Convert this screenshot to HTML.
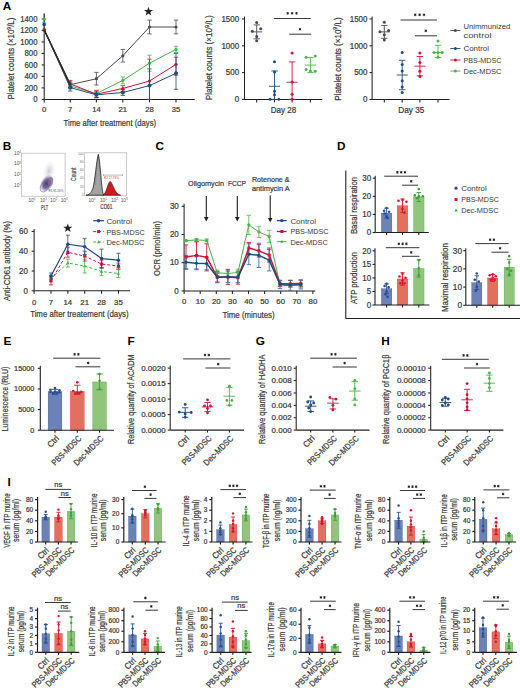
<!DOCTYPE html>
<html><head><meta charset="utf-8"><style>
html,body{margin:0;padding:0;background:#fff;}
svg{display:block;font-family:"Liberation Sans", sans-serif;}
</style></head><body>
<svg width="520" height="690" viewBox="0 0 520 690">
<rect width="520" height="690" fill="#fff"/>
<text x="2.7" y="10" font-size="11.8" text-anchor="start" font-weight="bold" fill="#000">A</text>
<line x1="44.2" y1="14" x2="44.2" y2="99.4" stroke="#231f20" stroke-width="1.05" stroke-linecap="butt"/>
<line x1="41.7" y1="99.4" x2="44.2" y2="99.4" stroke="#231f20" stroke-width="1.05" stroke-linecap="butt"/>
<text x="37.5" y="102.19" font-size="8.2" text-anchor="end" font-weight="normal" fill="#3a3a3a" textLength="4.33" lengthAdjust="spacingAndGlyphs" stroke="#3a3a3a" stroke-width="0.22">0</text>
<line x1="41.7" y1="87.91" x2="44.2" y2="87.91" stroke="#231f20" stroke-width="1.05" stroke-linecap="butt"/>
<text x="37.5" y="90.7" font-size="8.2" text-anchor="end" font-weight="normal" fill="#3a3a3a" textLength="12.99" lengthAdjust="spacingAndGlyphs" stroke="#3a3a3a" stroke-width="0.22">200</text>
<line x1="41.7" y1="76.42" x2="44.2" y2="76.42" stroke="#231f20" stroke-width="1.05" stroke-linecap="butt"/>
<text x="37.5" y="79.21" font-size="8.2" text-anchor="end" font-weight="normal" fill="#3a3a3a" textLength="12.99" lengthAdjust="spacingAndGlyphs" stroke="#3a3a3a" stroke-width="0.22">400</text>
<line x1="41.7" y1="64.93" x2="44.2" y2="64.93" stroke="#231f20" stroke-width="1.05" stroke-linecap="butt"/>
<text x="37.5" y="67.72" font-size="8.2" text-anchor="end" font-weight="normal" fill="#3a3a3a" textLength="12.99" lengthAdjust="spacingAndGlyphs" stroke="#3a3a3a" stroke-width="0.22">600</text>
<line x1="41.7" y1="53.44" x2="44.2" y2="53.44" stroke="#231f20" stroke-width="1.05" stroke-linecap="butt"/>
<text x="37.5" y="56.23" font-size="8.2" text-anchor="end" font-weight="normal" fill="#3a3a3a" textLength="12.99" lengthAdjust="spacingAndGlyphs" stroke="#3a3a3a" stroke-width="0.22">800</text>
<line x1="41.7" y1="41.95" x2="44.2" y2="41.95" stroke="#231f20" stroke-width="1.05" stroke-linecap="butt"/>
<text x="37.5" y="44.74" font-size="8.2" text-anchor="end" font-weight="normal" fill="#3a3a3a" textLength="17.32" lengthAdjust="spacingAndGlyphs" stroke="#3a3a3a" stroke-width="0.22">1000</text>
<line x1="41.7" y1="30.46" x2="44.2" y2="30.46" stroke="#231f20" stroke-width="1.05" stroke-linecap="butt"/>
<text x="37.5" y="33.25" font-size="8.2" text-anchor="end" font-weight="normal" fill="#3a3a3a" textLength="17.32" lengthAdjust="spacingAndGlyphs" stroke="#3a3a3a" stroke-width="0.22">1200</text>
<line x1="41.7" y1="18.97" x2="44.2" y2="18.97" stroke="#231f20" stroke-width="1.05" stroke-linecap="butt"/>
<text x="37.5" y="21.76" font-size="8.2" text-anchor="end" font-weight="normal" fill="#3a3a3a" textLength="17.32" lengthAdjust="spacingAndGlyphs" stroke="#3a3a3a" stroke-width="0.22">1400</text>
<line x1="44.2" y1="99.4" x2="194.8" y2="99.4" stroke="#231f20" stroke-width="1.05" stroke-linecap="butt"/>
<line x1="44.2" y1="99.4" x2="44.2" y2="102.4" stroke="#231f20" stroke-width="1.05" stroke-linecap="butt"/>
<line x1="70.2" y1="99.4" x2="70.2" y2="102.4" stroke="#231f20" stroke-width="1.05" stroke-linecap="butt"/>
<line x1="96.4" y1="99.4" x2="96.4" y2="102.4" stroke="#231f20" stroke-width="1.05" stroke-linecap="butt"/>
<line x1="122.8" y1="99.4" x2="122.8" y2="102.4" stroke="#231f20" stroke-width="1.05" stroke-linecap="butt"/>
<line x1="149.5" y1="99.4" x2="149.5" y2="102.4" stroke="#231f20" stroke-width="1.05" stroke-linecap="butt"/>
<line x1="176" y1="99.4" x2="176" y2="102.4" stroke="#231f20" stroke-width="1.05" stroke-linecap="butt"/>
<text x="44.2" y="112.4" font-size="7.6" text-anchor="middle" font-weight="normal" fill="#3a3a3a" stroke="#3a3a3a" stroke-width="0.22">0</text>
<text x="70.2" y="112.4" font-size="7.6" text-anchor="middle" font-weight="normal" fill="#3a3a3a" stroke="#3a3a3a" stroke-width="0.22">7</text>
<text x="96.4" y="112.4" font-size="7.6" text-anchor="middle" font-weight="normal" fill="#3a3a3a" stroke="#3a3a3a" stroke-width="0.22">14</text>
<text x="122.8" y="112.4" font-size="7.6" text-anchor="middle" font-weight="normal" fill="#3a3a3a" stroke="#3a3a3a" stroke-width="0.22">21</text>
<text x="149.5" y="112.4" font-size="7.6" text-anchor="middle" font-weight="normal" fill="#3a3a3a" stroke="#3a3a3a" stroke-width="0.22">28</text>
<text x="176" y="112.4" font-size="7.6" text-anchor="middle" font-weight="normal" fill="#3a3a3a" stroke="#3a3a3a" stroke-width="0.22">35</text>
<text x="109.8" y="126" font-size="9.3" text-anchor="middle" font-weight="normal" fill="#3a3a3a" textLength="92.5" lengthAdjust="spacingAndGlyphs" stroke="#3a3a3a" stroke-width="0.22">Time after treatment (days)</text>
<text transform="translate(14.4,58.6) rotate(-90)" x="0" y="0" font-size="9.3" text-anchor="middle" font-weight="normal" fill="#3a3a3a" textLength="82" lengthAdjust="spacingAndGlyphs" stroke="#3a3a3a" stroke-width="0.22">Platelet counts (×10<tspan dy="-3.2" font-size="6.2">9</tspan><tspan dy="3.2">/L)</tspan></text>
<line x1="44.2" y1="13.23" x2="44.2" y2="30.46" stroke="#444" stroke-width="1" stroke-linecap="butt"/>
<line x1="42.2" y1="19.54" x2="46.2" y2="19.54" stroke="#4ab448" stroke-width="1" stroke-linecap="butt"/>
<circle cx="44.2" cy="18.97" r="1.7" fill="#4ab448"/>
<line x1="42.2" y1="22.99" x2="46.2" y2="22.99" stroke="#2a9ad0" stroke-width="1" stroke-linecap="butt"/>
<circle cx="44.2" cy="24.43" r="1.8" fill="#1f4b7e"/>
<circle cx="44.2" cy="29.89" r="2" fill="#b02a2a"/>
<line x1="70.2" y1="83.03" x2="70.2" y2="88.77" stroke="#4ab448" stroke-width="0.8" stroke-linecap="butt"/>
<line x1="68" y1="83.03" x2="72.4" y2="83.03" stroke="#4ab448" stroke-width="0.8" stroke-linecap="butt"/>
<line x1="68" y1="88.77" x2="72.4" y2="88.77" stroke="#4ab448" stroke-width="0.8" stroke-linecap="butt"/>
<line x1="96.4" y1="90.21" x2="96.4" y2="97.1" stroke="#4ab448" stroke-width="0.8" stroke-linecap="butt"/>
<line x1="94.2" y1="90.21" x2="98.6" y2="90.21" stroke="#4ab448" stroke-width="0.8" stroke-linecap="butt"/>
<line x1="94.2" y1="97.1" x2="98.6" y2="97.1" stroke="#4ab448" stroke-width="0.8" stroke-linecap="butt"/>
<line x1="122.8" y1="76.99" x2="122.8" y2="83.89" stroke="#4ab448" stroke-width="0.8" stroke-linecap="butt"/>
<line x1="120.6" y1="76.99" x2="125" y2="76.99" stroke="#4ab448" stroke-width="0.8" stroke-linecap="butt"/>
<line x1="120.6" y1="83.89" x2="125" y2="83.89" stroke="#4ab448" stroke-width="0.8" stroke-linecap="butt"/>
<line x1="149.5" y1="55.16" x2="149.5" y2="71.25" stroke="#4ab448" stroke-width="0.8" stroke-linecap="butt"/>
<line x1="147.3" y1="55.16" x2="151.7" y2="55.16" stroke="#4ab448" stroke-width="0.8" stroke-linecap="butt"/>
<line x1="147.3" y1="71.25" x2="151.7" y2="71.25" stroke="#4ab448" stroke-width="0.8" stroke-linecap="butt"/>
<line x1="176" y1="46.26" x2="176" y2="52.58" stroke="#4ab448" stroke-width="0.8" stroke-linecap="butt"/>
<line x1="173.8" y1="46.26" x2="178.2" y2="46.26" stroke="#4ab448" stroke-width="0.8" stroke-linecap="butt"/>
<line x1="173.8" y1="52.58" x2="178.2" y2="52.58" stroke="#4ab448" stroke-width="0.8" stroke-linecap="butt"/>
<polyline points="44.2,29.89 70.2,85.9 96.4,93.66 122.8,80.44 149.5,63.21 176,49.42" fill="none" stroke="#4ab448" stroke-width="1" stroke-linejoin="round"/>
<circle cx="70.2" cy="85.9" r="1.6" fill="#4ab448"/>
<circle cx="96.4" cy="93.66" r="1.6" fill="#4ab448"/>
<circle cx="122.8" cy="80.44" r="1.6" fill="#4ab448"/>
<circle cx="149.5" cy="63.21" r="1.6" fill="#4ab448"/>
<circle cx="176" cy="49.42" r="1.6" fill="#4ab448"/>
<line x1="70.2" y1="80.44" x2="70.2" y2="87.34" stroke="#c8173a" stroke-width="0.8" stroke-linecap="butt"/>
<line x1="68" y1="80.44" x2="72.4" y2="80.44" stroke="#c8173a" stroke-width="0.8" stroke-linecap="butt"/>
<line x1="68" y1="87.34" x2="72.4" y2="87.34" stroke="#c8173a" stroke-width="0.8" stroke-linecap="butt"/>
<line x1="96.4" y1="90.78" x2="96.4" y2="97.68" stroke="#c8173a" stroke-width="0.8" stroke-linecap="butt"/>
<line x1="94.2" y1="90.78" x2="98.6" y2="90.78" stroke="#c8173a" stroke-width="0.8" stroke-linecap="butt"/>
<line x1="94.2" y1="97.68" x2="98.6" y2="97.68" stroke="#c8173a" stroke-width="0.8" stroke-linecap="butt"/>
<line x1="122.8" y1="85.61" x2="122.8" y2="91.36" stroke="#c8173a" stroke-width="0.8" stroke-linecap="butt"/>
<line x1="120.6" y1="85.61" x2="125" y2="85.61" stroke="#c8173a" stroke-width="0.8" stroke-linecap="butt"/>
<line x1="120.6" y1="91.36" x2="125" y2="91.36" stroke="#c8173a" stroke-width="0.8" stroke-linecap="butt"/>
<line x1="149.5" y1="59.19" x2="149.5" y2="99.4" stroke="#c8173a" stroke-width="0.8" stroke-linecap="butt"/>
<line x1="147.3" y1="59.19" x2="151.7" y2="59.19" stroke="#c8173a" stroke-width="0.8" stroke-linecap="butt"/>
<line x1="147.3" y1="99.4" x2="151.7" y2="99.4" stroke="#c8173a" stroke-width="0.8" stroke-linecap="butt"/>
<line x1="176" y1="53.44" x2="176" y2="75.27" stroke="#c8173a" stroke-width="0.8" stroke-linecap="butt"/>
<line x1="173.8" y1="53.44" x2="178.2" y2="53.44" stroke="#c8173a" stroke-width="0.8" stroke-linecap="butt"/>
<line x1="173.8" y1="75.27" x2="178.2" y2="75.27" stroke="#c8173a" stroke-width="0.8" stroke-linecap="butt"/>
<polyline points="44.2,29.89 70.2,83.89 96.4,94.23 122.8,88.48 149.5,81.02 176,64.36" fill="none" stroke="#c8173a" stroke-width="1" stroke-linejoin="round"/>
<circle cx="70.2" cy="83.89" r="1.6" fill="#c8173a"/>
<circle cx="96.4" cy="94.23" r="1.6" fill="#c8173a"/>
<circle cx="122.8" cy="88.48" r="1.6" fill="#c8173a"/>
<circle cx="149.5" cy="81.02" r="1.6" fill="#c8173a"/>
<circle cx="176" cy="64.36" r="1.6" fill="#c8173a"/>
<line x1="70.2" y1="84.18" x2="70.2" y2="91.07" stroke="#1f4b7e" stroke-width="0.8" stroke-linecap="butt"/>
<line x1="68" y1="84.18" x2="72.4" y2="84.18" stroke="#1f4b7e" stroke-width="0.8" stroke-linecap="butt"/>
<line x1="68" y1="91.07" x2="72.4" y2="91.07" stroke="#1f4b7e" stroke-width="0.8" stroke-linecap="butt"/>
<line x1="96.4" y1="91.93" x2="96.4" y2="97.68" stroke="#1f4b7e" stroke-width="0.8" stroke-linecap="butt"/>
<line x1="94.2" y1="91.93" x2="98.6" y2="91.93" stroke="#1f4b7e" stroke-width="0.8" stroke-linecap="butt"/>
<line x1="94.2" y1="97.68" x2="98.6" y2="97.68" stroke="#1f4b7e" stroke-width="0.8" stroke-linecap="butt"/>
<line x1="122.8" y1="89.63" x2="122.8" y2="95.38" stroke="#1f4b7e" stroke-width="0.8" stroke-linecap="butt"/>
<line x1="120.6" y1="89.63" x2="125" y2="89.63" stroke="#1f4b7e" stroke-width="0.8" stroke-linecap="butt"/>
<line x1="120.6" y1="95.38" x2="125" y2="95.38" stroke="#1f4b7e" stroke-width="0.8" stroke-linecap="butt"/>
<line x1="149.5" y1="68.95" x2="149.5" y2="99.4" stroke="#1f4b7e" stroke-width="0.8" stroke-linecap="butt"/>
<line x1="147.3" y1="68.95" x2="151.7" y2="68.95" stroke="#1f4b7e" stroke-width="0.8" stroke-linecap="butt"/>
<line x1="147.3" y1="99.4" x2="151.7" y2="99.4" stroke="#1f4b7e" stroke-width="0.8" stroke-linecap="butt"/>
<line x1="176" y1="57.17" x2="176" y2="89.35" stroke="#1f4b7e" stroke-width="0.8" stroke-linecap="butt"/>
<line x1="173.8" y1="57.17" x2="178.2" y2="57.17" stroke="#1f4b7e" stroke-width="0.8" stroke-linecap="butt"/>
<line x1="173.8" y1="89.35" x2="178.2" y2="89.35" stroke="#1f4b7e" stroke-width="0.8" stroke-linecap="butt"/>
<polyline points="44.2,29.89 70.2,87.62 96.4,94.8 122.8,92.51 149.5,85.61 176,73.26" fill="none" stroke="#1f4b7e" stroke-width="1" stroke-linejoin="round"/>
<circle cx="70.2" cy="87.62" r="2" fill="#1f4b7e"/>
<circle cx="96.4" cy="94.8" r="2" fill="#1f4b7e"/>
<circle cx="122.8" cy="92.51" r="2" fill="#1f4b7e"/>
<circle cx="149.5" cy="85.61" r="2" fill="#1f4b7e"/>
<circle cx="176" cy="73.26" r="2" fill="#1f4b7e"/>
<line x1="70.2" y1="81.88" x2="70.2" y2="87.62" stroke="#4a4a55" stroke-width="0.8" stroke-linecap="butt"/>
<line x1="68" y1="81.88" x2="72.4" y2="81.88" stroke="#4a4a55" stroke-width="0.8" stroke-linecap="butt"/>
<line x1="68" y1="87.62" x2="72.4" y2="87.62" stroke="#4a4a55" stroke-width="0.8" stroke-linecap="butt"/>
<line x1="96.4" y1="72.4" x2="96.4" y2="85.04" stroke="#4a4a55" stroke-width="0.8" stroke-linecap="butt"/>
<line x1="94.2" y1="72.4" x2="98.6" y2="72.4" stroke="#4a4a55" stroke-width="0.8" stroke-linecap="butt"/>
<line x1="94.2" y1="85.04" x2="98.6" y2="85.04" stroke="#4a4a55" stroke-width="0.8" stroke-linecap="butt"/>
<line x1="122.8" y1="49.42" x2="122.8" y2="62.06" stroke="#4a4a55" stroke-width="0.8" stroke-linecap="butt"/>
<line x1="120.6" y1="49.42" x2="125" y2="49.42" stroke="#4a4a55" stroke-width="0.8" stroke-linecap="butt"/>
<line x1="120.6" y1="62.06" x2="125" y2="62.06" stroke="#4a4a55" stroke-width="0.8" stroke-linecap="butt"/>
<line x1="149.5" y1="20.12" x2="149.5" y2="33.91" stroke="#4a4a55" stroke-width="0.8" stroke-linecap="butt"/>
<line x1="147.3" y1="20.12" x2="151.7" y2="20.12" stroke="#4a4a55" stroke-width="0.8" stroke-linecap="butt"/>
<line x1="147.3" y1="33.91" x2="151.7" y2="33.91" stroke="#4a4a55" stroke-width="0.8" stroke-linecap="butt"/>
<line x1="176" y1="20.12" x2="176" y2="33.91" stroke="#4a4a55" stroke-width="0.8" stroke-linecap="butt"/>
<line x1="173.8" y1="20.12" x2="178.2" y2="20.12" stroke="#4a4a55" stroke-width="0.8" stroke-linecap="butt"/>
<line x1="173.8" y1="33.91" x2="178.2" y2="33.91" stroke="#4a4a55" stroke-width="0.8" stroke-linecap="butt"/>
<polyline points="44.2,29.89 70.2,84.75 96.4,78.72 122.8,55.74 149.5,27.01 176,27.01" fill="none" stroke="#4a4a55" stroke-width="1" stroke-linejoin="round"/>
<circle cx="70.2" cy="84.75" r="1.6" fill="#4a4a55"/>
<circle cx="96.4" cy="78.72" r="1.6" fill="#4a4a55"/>
<circle cx="122.8" cy="55.74" r="1.6" fill="#4a4a55"/>
<circle cx="149.5" cy="27.01" r="1.6" fill="#4a4a55"/>
<circle cx="176" cy="27.01" r="1.6" fill="#4a4a55"/>
<line x1="44.2" y1="29.89" x2="70.2" y2="84.75" stroke="#2a2a2a" stroke-width="1.4" stroke-linecap="butt"/>
<polygon points="148.5,6.7 149.63,9.95 153.07,10.02 150.33,12.09 151.32,15.38 148.5,13.42 145.68,15.38 146.67,12.09 143.93,10.02 147.37,9.95" fill="#231f20"/>
<line x1="244.5" y1="16.5" x2="244.5" y2="99.4" stroke="#231f20" stroke-width="1.05" stroke-linecap="butt"/>
<line x1="242" y1="99.4" x2="244.5" y2="99.4" stroke="#231f20" stroke-width="1.05" stroke-linecap="butt"/>
<text x="239.2" y="102.19" font-size="8.2" text-anchor="end" font-weight="normal" fill="#3a3a3a" textLength="4.45" lengthAdjust="spacingAndGlyphs" stroke="#3a3a3a" stroke-width="0.22">0</text>
<line x1="242" y1="72.6" x2="244.5" y2="72.6" stroke="#231f20" stroke-width="1.05" stroke-linecap="butt"/>
<text x="239.2" y="75.39" font-size="8.2" text-anchor="end" font-weight="normal" fill="#3a3a3a" textLength="13.35" lengthAdjust="spacingAndGlyphs" stroke="#3a3a3a" stroke-width="0.22">500</text>
<line x1="242" y1="45.8" x2="244.5" y2="45.8" stroke="#231f20" stroke-width="1.05" stroke-linecap="butt"/>
<text x="239.2" y="48.59" font-size="8.2" text-anchor="end" font-weight="normal" fill="#3a3a3a" textLength="17.8" lengthAdjust="spacingAndGlyphs" stroke="#3a3a3a" stroke-width="0.22">1000</text>
<line x1="242" y1="19" x2="244.5" y2="19" stroke="#231f20" stroke-width="1.05" stroke-linecap="butt"/>
<text x="239.2" y="21.79" font-size="8.2" text-anchor="end" font-weight="normal" fill="#3a3a3a" textLength="17.8" lengthAdjust="spacingAndGlyphs" stroke="#3a3a3a" stroke-width="0.22">1500</text>
<line x1="244.5" y1="99.4" x2="322.2" y2="99.4" stroke="#231f20" stroke-width="1.05" stroke-linecap="butt"/>
<line x1="256.7" y1="99.4" x2="256.7" y2="102.4" stroke="#231f20" stroke-width="1.05" stroke-linecap="butt"/>
<line x1="274.5" y1="99.4" x2="274.5" y2="102.4" stroke="#231f20" stroke-width="1.05" stroke-linecap="butt"/>
<line x1="292.1" y1="99.4" x2="292.1" y2="102.4" stroke="#231f20" stroke-width="1.05" stroke-linecap="butt"/>
<line x1="310.4" y1="99.4" x2="310.4" y2="102.4" stroke="#231f20" stroke-width="1.05" stroke-linecap="butt"/>
<text x="283.5" y="112.9" font-size="8.2" text-anchor="middle" font-weight="normal" fill="#3a3a3a" textLength="25.5" lengthAdjust="spacingAndGlyphs" stroke="#3a3a3a" stroke-width="0.22">Day 28</text>
<text transform="translate(212.2,57.8) rotate(-90)" x="0" y="0" font-size="9.3" text-anchor="middle" font-weight="normal" fill="#3a3a3a" textLength="85" lengthAdjust="spacingAndGlyphs" stroke="#3a3a3a" stroke-width="0.22">Platelet counts (×10<tspan dy="-3.2" font-size="6.2">9</tspan><tspan dy="3.2">/L)</tspan></text>
<circle cx="256.7" cy="22.6" r="1.5" fill="#4a4a55"/>
<circle cx="252.3" cy="31.3" r="1.5" fill="#4a4a55"/>
<circle cx="260.7" cy="28.7" r="1.5" fill="#4a4a55"/>
<circle cx="256.7" cy="36.5" r="1.5" fill="#4a4a55"/>
<circle cx="256.7" cy="40.8" r="1.5" fill="#4a4a55"/>
<line x1="256.7" y1="24.9" x2="256.7" y2="38.83" stroke="#4a4a55" stroke-width="0.9" stroke-linecap="butt"/>
<line x1="253.5" y1="24.9" x2="259.9" y2="24.9" stroke="#4a4a55" stroke-width="0.9" stroke-linecap="butt"/>
<line x1="253.5" y1="38.83" x2="259.9" y2="38.83" stroke="#4a4a55" stroke-width="0.9" stroke-linecap="butt"/>
<line x1="251.2" y1="31.86" x2="262.2" y2="31.86" stroke="#4a4a55" stroke-width="0.9" stroke-linecap="butt"/>
<circle cx="274.5" cy="61.7" r="1.5" fill="#1f4b7e"/>
<circle cx="274.5" cy="72.1" r="1.5" fill="#1f4b7e"/>
<circle cx="274.5" cy="91.2" r="1.5" fill="#1f4b7e"/>
<circle cx="274.5" cy="94.7" r="1.5" fill="#1f4b7e"/>
<circle cx="270.1" cy="99.2" r="1.5" fill="#1f4b7e"/>
<circle cx="278.9" cy="99.2" r="1.5" fill="#1f4b7e"/>
<line x1="274.5" y1="70.99" x2="274.5" y2="99.4" stroke="#1f4b7e" stroke-width="0.9" stroke-linecap="butt"/>
<line x1="271.3" y1="70.99" x2="277.7" y2="70.99" stroke="#1f4b7e" stroke-width="0.9" stroke-linecap="butt"/>
<line x1="271.3" y1="99.4" x2="277.7" y2="99.4" stroke="#1f4b7e" stroke-width="0.9" stroke-linecap="butt"/>
<line x1="269" y1="86.27" x2="280" y2="86.27" stroke="#1f4b7e" stroke-width="0.9" stroke-linecap="butt"/>
<circle cx="292.1" cy="53" r="1.5" fill="#c8173a"/>
<circle cx="292.1" cy="82" r="1.5" fill="#c8173a"/>
<circle cx="292.1" cy="94.3" r="1.5" fill="#c8173a"/>
<circle cx="292.1" cy="99.2" r="1.5" fill="#c8173a"/>
<line x1="292.1" y1="61.88" x2="292.1" y2="99.4" stroke="#c8173a" stroke-width="0.9" stroke-linecap="butt"/>
<line x1="288.9" y1="61.88" x2="295.3" y2="61.88" stroke="#c8173a" stroke-width="0.9" stroke-linecap="butt"/>
<line x1="288.9" y1="99.4" x2="295.3" y2="99.4" stroke="#c8173a" stroke-width="0.9" stroke-linecap="butt"/>
<line x1="286.6" y1="82.25" x2="297.6" y2="82.25" stroke="#c8173a" stroke-width="0.9" stroke-linecap="butt"/>
<circle cx="306.1" cy="57.3" r="1.5" fill="#4ab448"/>
<circle cx="315.2" cy="55.9" r="1.5" fill="#4ab448"/>
<circle cx="306.1" cy="69.5" r="1.5" fill="#4ab448"/>
<circle cx="315.2" cy="71.2" r="1.5" fill="#4ab448"/>
<circle cx="310.4" cy="71" r="1.5" fill="#4ab448"/>
<line x1="310.4" y1="57.59" x2="310.4" y2="72.6" stroke="#4ab448" stroke-width="0.9" stroke-linecap="butt"/>
<line x1="307.2" y1="57.59" x2="313.6" y2="57.59" stroke="#4ab448" stroke-width="0.9" stroke-linecap="butt"/>
<line x1="307.2" y1="72.6" x2="313.6" y2="72.6" stroke="#4ab448" stroke-width="0.9" stroke-linecap="butt"/>
<line x1="304.9" y1="65.1" x2="315.9" y2="65.1" stroke="#4ab448" stroke-width="0.9" stroke-linecap="butt"/>
<line x1="273.9" y1="18.5" x2="310.7" y2="18.5" stroke="#231f20" stroke-width="0.9" stroke-linecap="butt"/>
<line x1="287.7" y1="11.95" x2="287.7" y2="14.65" stroke="#231f20" stroke-width="0.85" stroke-linecap="butt"/>
<line x1="288.87" y1="12.62" x2="286.53" y2="13.98" stroke="#231f20" stroke-width="0.85" stroke-linecap="butt"/>
<line x1="288.87" y1="13.97" x2="286.53" y2="12.63" stroke="#231f20" stroke-width="0.85" stroke-linecap="butt"/>
<circle cx="287.7" cy="13.3" r="0.6" fill="#231f20"/>
<line x1="292.1" y1="11.95" x2="292.1" y2="14.65" stroke="#231f20" stroke-width="0.85" stroke-linecap="butt"/>
<line x1="293.27" y1="12.62" x2="290.93" y2="13.98" stroke="#231f20" stroke-width="0.85" stroke-linecap="butt"/>
<line x1="293.27" y1="13.97" x2="290.93" y2="12.63" stroke="#231f20" stroke-width="0.85" stroke-linecap="butt"/>
<circle cx="292.1" cy="13.3" r="0.6" fill="#231f20"/>
<line x1="296.5" y1="11.95" x2="296.5" y2="14.65" stroke="#231f20" stroke-width="0.85" stroke-linecap="butt"/>
<line x1="297.67" y1="12.62" x2="295.33" y2="13.98" stroke="#231f20" stroke-width="0.85" stroke-linecap="butt"/>
<line x1="297.67" y1="13.97" x2="295.33" y2="12.63" stroke="#231f20" stroke-width="0.85" stroke-linecap="butt"/>
<circle cx="296.5" cy="13.3" r="0.6" fill="#231f20"/>
<line x1="289.2" y1="34.2" x2="311.2" y2="34.2" stroke="#231f20" stroke-width="0.9" stroke-linecap="butt"/>
<line x1="300" y1="27.85" x2="300" y2="30.55" stroke="#231f20" stroke-width="0.85" stroke-linecap="butt"/>
<line x1="301.17" y1="28.53" x2="298.83" y2="29.88" stroke="#231f20" stroke-width="0.85" stroke-linecap="butt"/>
<line x1="301.17" y1="29.88" x2="298.83" y2="28.53" stroke="#231f20" stroke-width="0.85" stroke-linecap="butt"/>
<circle cx="300" cy="29.2" r="0.6" fill="#231f20"/>
<line x1="372.1" y1="16.5" x2="372.1" y2="99.4" stroke="#231f20" stroke-width="1.05" stroke-linecap="butt"/>
<line x1="369.6" y1="99.4" x2="372.1" y2="99.4" stroke="#231f20" stroke-width="1.05" stroke-linecap="butt"/>
<text x="367.5" y="102.19" font-size="8.2" text-anchor="end" font-weight="normal" fill="#3a3a3a" textLength="4.45" lengthAdjust="spacingAndGlyphs" stroke="#3a3a3a" stroke-width="0.22">0</text>
<line x1="369.6" y1="72.6" x2="372.1" y2="72.6" stroke="#231f20" stroke-width="1.05" stroke-linecap="butt"/>
<text x="367.5" y="75.39" font-size="8.2" text-anchor="end" font-weight="normal" fill="#3a3a3a" textLength="13.35" lengthAdjust="spacingAndGlyphs" stroke="#3a3a3a" stroke-width="0.22">500</text>
<line x1="369.6" y1="45.8" x2="372.1" y2="45.8" stroke="#231f20" stroke-width="1.05" stroke-linecap="butt"/>
<text x="367.5" y="48.59" font-size="8.2" text-anchor="end" font-weight="normal" fill="#3a3a3a" textLength="17.8" lengthAdjust="spacingAndGlyphs" stroke="#3a3a3a" stroke-width="0.22">1000</text>
<line x1="369.6" y1="19" x2="372.1" y2="19" stroke="#231f20" stroke-width="1.05" stroke-linecap="butt"/>
<text x="367.5" y="21.79" font-size="8.2" text-anchor="end" font-weight="normal" fill="#3a3a3a" textLength="17.8" lengthAdjust="spacingAndGlyphs" stroke="#3a3a3a" stroke-width="0.22">1500</text>
<line x1="372.1" y1="99.4" x2="449.6" y2="99.4" stroke="#231f20" stroke-width="1.05" stroke-linecap="butt"/>
<line x1="384.3" y1="99.4" x2="384.3" y2="102.4" stroke="#231f20" stroke-width="1.05" stroke-linecap="butt"/>
<line x1="402.2" y1="99.4" x2="402.2" y2="102.4" stroke="#231f20" stroke-width="1.05" stroke-linecap="butt"/>
<line x1="419.9" y1="99.4" x2="419.9" y2="102.4" stroke="#231f20" stroke-width="1.05" stroke-linecap="butt"/>
<line x1="438" y1="99.4" x2="438" y2="102.4" stroke="#231f20" stroke-width="1.05" stroke-linecap="butt"/>
<text x="411.3" y="112.9" font-size="8.2" text-anchor="middle" font-weight="normal" fill="#3a3a3a" textLength="26" lengthAdjust="spacingAndGlyphs" stroke="#3a3a3a" stroke-width="0.22">Day 35</text>
<text transform="translate(340.6,59) rotate(-90)" x="0" y="0" font-size="9.3" text-anchor="middle" font-weight="normal" fill="#3a3a3a" textLength="83.4" lengthAdjust="spacingAndGlyphs" stroke="#3a3a3a" stroke-width="0.22">Platelet counts (×10<tspan dy="-3.2" font-size="6.2">9</tspan><tspan dy="3.2">/L)</tspan></text>
<circle cx="384.3" cy="22.2" r="1.5" fill="#4a4a55"/>
<circle cx="380" cy="31.8" r="1.5" fill="#4a4a55"/>
<circle cx="388.6" cy="30.4" r="1.5" fill="#4a4a55"/>
<circle cx="384.3" cy="34.7" r="1.5" fill="#4a4a55"/>
<circle cx="384.3" cy="40" r="1.5" fill="#4a4a55"/>
<line x1="384.3" y1="25.43" x2="384.3" y2="38.3" stroke="#4a4a55" stroke-width="0.9" stroke-linecap="butt"/>
<line x1="381.1" y1="25.43" x2="387.5" y2="25.43" stroke="#4a4a55" stroke-width="0.9" stroke-linecap="butt"/>
<line x1="381.1" y1="38.3" x2="387.5" y2="38.3" stroke="#4a4a55" stroke-width="0.9" stroke-linecap="butt"/>
<line x1="378.8" y1="31.86" x2="389.8" y2="31.86" stroke="#4a4a55" stroke-width="0.9" stroke-linecap="butt"/>
<circle cx="402.2" cy="52.6" r="1.5" fill="#1f4b7e"/>
<circle cx="402.2" cy="64.6" r="1.5" fill="#1f4b7e"/>
<circle cx="402.2" cy="70.9" r="1.5" fill="#1f4b7e"/>
<circle cx="402.2" cy="80.8" r="1.5" fill="#1f4b7e"/>
<circle cx="402.2" cy="86.9" r="1.5" fill="#1f4b7e"/>
<circle cx="402.2" cy="92.4" r="1.5" fill="#1f4b7e"/>
<line x1="402.2" y1="60.27" x2="402.2" y2="89.75" stroke="#1f4b7e" stroke-width="0.9" stroke-linecap="butt"/>
<line x1="399" y1="60.27" x2="405.4" y2="60.27" stroke="#1f4b7e" stroke-width="0.9" stroke-linecap="butt"/>
<line x1="399" y1="89.75" x2="405.4" y2="89.75" stroke="#1f4b7e" stroke-width="0.9" stroke-linecap="butt"/>
<line x1="396.7" y1="75.01" x2="407.7" y2="75.01" stroke="#1f4b7e" stroke-width="0.9" stroke-linecap="butt"/>
<circle cx="419.9" cy="53" r="1.5" fill="#c8173a"/>
<circle cx="419.9" cy="62.5" r="1.5" fill="#c8173a"/>
<circle cx="419.9" cy="71.2" r="1.5" fill="#c8173a"/>
<circle cx="419.9" cy="76.4" r="1.5" fill="#c8173a"/>
<line x1="419.9" y1="56.52" x2="419.9" y2="75.82" stroke="#c8173a" stroke-width="0.9" stroke-linecap="butt"/>
<line x1="416.7" y1="56.52" x2="423.1" y2="56.52" stroke="#c8173a" stroke-width="0.9" stroke-linecap="butt"/>
<line x1="416.7" y1="75.82" x2="423.1" y2="75.82" stroke="#c8173a" stroke-width="0.9" stroke-linecap="butt"/>
<line x1="414.4" y1="66.17" x2="425.4" y2="66.17" stroke="#c8173a" stroke-width="0.9" stroke-linecap="butt"/>
<circle cx="438" cy="41" r="1.5" fill="#4ab448"/>
<circle cx="434.2" cy="52.6" r="1.5" fill="#4ab448"/>
<circle cx="438" cy="52.6" r="1.5" fill="#4ab448"/>
<circle cx="442.2" cy="52.6" r="1.5" fill="#4ab448"/>
<circle cx="438" cy="57.2" r="1.5" fill="#4ab448"/>
<line x1="438" y1="45.26" x2="438" y2="57.59" stroke="#4ab448" stroke-width="0.9" stroke-linecap="butt"/>
<line x1="434.8" y1="45.26" x2="441.2" y2="45.26" stroke="#4ab448" stroke-width="0.9" stroke-linecap="butt"/>
<line x1="434.8" y1="57.59" x2="441.2" y2="57.59" stroke="#4ab448" stroke-width="0.9" stroke-linecap="butt"/>
<line x1="432.5" y1="52.5" x2="443.5" y2="52.5" stroke="#4ab448" stroke-width="0.9" stroke-linecap="butt"/>
<line x1="400.5" y1="20" x2="436.9" y2="20" stroke="#231f20" stroke-width="0.9" stroke-linecap="butt"/>
<line x1="415.2" y1="13.45" x2="415.2" y2="16.15" stroke="#231f20" stroke-width="0.85" stroke-linecap="butt"/>
<line x1="416.37" y1="14.12" x2="414.03" y2="15.48" stroke="#231f20" stroke-width="0.85" stroke-linecap="butt"/>
<line x1="416.37" y1="15.47" x2="414.03" y2="14.13" stroke="#231f20" stroke-width="0.85" stroke-linecap="butt"/>
<circle cx="415.2" cy="14.8" r="0.6" fill="#231f20"/>
<line x1="419.6" y1="13.45" x2="419.6" y2="16.15" stroke="#231f20" stroke-width="0.85" stroke-linecap="butt"/>
<line x1="420.77" y1="14.12" x2="418.43" y2="15.48" stroke="#231f20" stroke-width="0.85" stroke-linecap="butt"/>
<line x1="420.77" y1="15.47" x2="418.43" y2="14.13" stroke="#231f20" stroke-width="0.85" stroke-linecap="butt"/>
<circle cx="419.6" cy="14.8" r="0.6" fill="#231f20"/>
<line x1="424" y1="13.45" x2="424" y2="16.15" stroke="#231f20" stroke-width="0.85" stroke-linecap="butt"/>
<line x1="425.17" y1="14.12" x2="422.83" y2="15.48" stroke="#231f20" stroke-width="0.85" stroke-linecap="butt"/>
<line x1="425.17" y1="15.47" x2="422.83" y2="14.13" stroke="#231f20" stroke-width="0.85" stroke-linecap="butt"/>
<circle cx="424" cy="14.8" r="0.6" fill="#231f20"/>
<line x1="415" y1="35.8" x2="437" y2="35.8" stroke="#231f20" stroke-width="0.9" stroke-linecap="butt"/>
<line x1="425.8" y1="29.45" x2="425.8" y2="32.15" stroke="#231f20" stroke-width="0.85" stroke-linecap="butt"/>
<line x1="426.97" y1="30.12" x2="424.63" y2="31.47" stroke="#231f20" stroke-width="0.85" stroke-linecap="butt"/>
<line x1="426.97" y1="31.47" x2="424.63" y2="30.12" stroke="#231f20" stroke-width="0.85" stroke-linecap="butt"/>
<circle cx="425.8" cy="30.8" r="0.6" fill="#231f20"/>
<line x1="450.3" y1="30.5" x2="460.5" y2="30.5" stroke="#4a4a55" stroke-width="0.9" stroke-linecap="butt"/>
<circle cx="455.4" cy="30.5" r="1.5" fill="#4a4a55"/>
<line x1="450.3" y1="48.5" x2="460.5" y2="48.5" stroke="#1f4b7e" stroke-width="0.9" stroke-linecap="butt"/>
<circle cx="455.4" cy="48.5" r="1.5" fill="#1f4b7e"/>
<line x1="450.3" y1="60" x2="460.5" y2="60" stroke="#c8173a" stroke-width="0.9" stroke-linecap="butt"/>
<circle cx="455.4" cy="60" r="1.5" fill="#c8173a"/>
<line x1="450.3" y1="71.1" x2="460.5" y2="71.1" stroke="#4ab448" stroke-width="0.9" stroke-linecap="butt"/>
<circle cx="455.4" cy="71.1" r="1.5" fill="#4ab448"/>
<text x="463.5" y="28.7" font-size="8.1" text-anchor="start" font-weight="normal" fill="#3a3a3a" textLength="46.8" lengthAdjust="spacingAndGlyphs">Unimmunized</text>
<text x="463.5" y="37.9" font-size="8.1" text-anchor="start" font-weight="normal" fill="#3a3a3a" textLength="28" lengthAdjust="spacingAndGlyphs">control</text>
<text x="463.5" y="51.4" font-size="8.1" text-anchor="start" font-weight="normal" fill="#3a3a3a" textLength="25.5" lengthAdjust="spacingAndGlyphs">Control</text>
<text x="463.5" y="62.9" font-size="8.1" text-anchor="start" font-weight="normal" fill="#3a3a3a" textLength="38" lengthAdjust="spacingAndGlyphs">PBS-MDSC</text>
<text x="463.5" y="74" font-size="8.1" text-anchor="start" font-weight="normal" fill="#3a3a3a" textLength="38" lengthAdjust="spacingAndGlyphs">Dec-MDSC</text>
<text x="2.7" y="150.4" font-size="11.8" text-anchor="start" font-weight="bold" fill="#000">B</text>
<rect x="21.5" y="153.2" width="43.6" height="43" fill="none" stroke="#b4b4b4" stroke-width="0.7"/>
<text x="21" y="155.2" font-size="4.8" text-anchor="end" font-weight="normal" fill="#555">10<tspan dy="-1.8" font-size="3">4</tspan></text>
<text x="21" y="165.4" font-size="4.8" text-anchor="end" font-weight="normal" fill="#555">10<tspan dy="-1.8" font-size="3">3</tspan></text>
<text x="21" y="176.4" font-size="4.8" text-anchor="end" font-weight="normal" fill="#555">10<tspan dy="-1.8" font-size="3">2</tspan></text>
<text x="21" y="186.7" font-size="4.8" text-anchor="end" font-weight="normal" fill="#555">10<tspan dy="-1.8" font-size="3">1</tspan></text>
<text x="31.9" y="202.2" font-size="4.8" text-anchor="middle" font-weight="normal" fill="#555">10<tspan dy="-1.8" font-size="3">0</tspan></text>
<text x="43.4" y="202.2" font-size="4.8" text-anchor="middle" font-weight="normal" fill="#555">10<tspan dy="-1.8" font-size="3">1</tspan></text>
<text x="53.8" y="202.2" font-size="4.8" text-anchor="middle" font-weight="normal" fill="#555">10<tspan dy="-1.8" font-size="3">2</tspan></text>
<text x="64.2" y="202.2" font-size="4.8" text-anchor="middle" font-weight="normal" fill="#555">10<tspan dy="-1.8" font-size="3">3</tspan></text>
<text x="44.6" y="209.7" font-size="7.4" text-anchor="middle" font-weight="normal" fill="#444" textLength="7" lengthAdjust="spacingAndGlyphs" stroke="#444" stroke-width="0.22">PLT</text>
<defs><radialGradient id="gc" cx="0.5" cy="0.5" r="0.5"><stop offset="0" stop-color="#c9c5d3" stop-opacity="0.9"/><stop offset="1" stop-color="#e4e2ea" stop-opacity="0"/></radialGradient><radialGradient id="pc" cx="0.5" cy="0.5" r="0.5"><stop offset="0" stop-color="#4a3f6e"/><stop offset="0.55" stop-color="#6f6292" stop-opacity="0.95"/><stop offset="1" stop-color="#a89cc2" stop-opacity="0.2"/></radialGradient></defs>
<ellipse cx="49" cy="171" rx="6" ry="11" fill="url(#gc)" transform="rotate(15 49 171)"/>
<ellipse cx="46.8" cy="183.5" rx="6" ry="9" fill="url(#pc)" transform="rotate(28 46.8 183.5)"/>
<ellipse cx="50.5" cy="181.5" rx="2.6" ry="4.5" fill="#8a6f98" opacity="0.7" transform="rotate(10 50.5 181.5)"/>
<ellipse cx="45" cy="186" rx="4" ry="6.5" fill="none" stroke="#6a5a95" stroke-width="0.5" transform="rotate(30 45 186)"/>
<text x="48.5" y="191.8" font-size="3" text-anchor="start" font-weight="normal" fill="#555">R1 91.26%</text>
<rect x="84.4" y="152.8" width="42.3" height="42.5" fill="none" stroke="#b4b4b4" stroke-width="0.7"/>
<text x="83.6" y="154.5" font-size="3.4" text-anchor="end" font-weight="normal" fill="#777">100</text>
<text x="83.6" y="162.8" font-size="3.4" text-anchor="end" font-weight="normal" fill="#777">80</text>
<text x="83.6" y="171.1" font-size="3.4" text-anchor="end" font-weight="normal" fill="#777">60</text>
<text x="83.6" y="179.4" font-size="3.4" text-anchor="end" font-weight="normal" fill="#777">40</text>
<text x="83.6" y="187.8" font-size="3.4" text-anchor="end" font-weight="normal" fill="#777">20</text>
<text x="83.6" y="196.2" font-size="3.4" text-anchor="end" font-weight="normal" fill="#777">0</text>
<path d="M86,195.2 C89,195 91,193.5 93,188 C95,181 96.5,160 98.3,154.3 C100,160 101,180 102.2,189 C102.8,193 103.3,194.8 104,195.2 Z" fill="#a3a3a3" stroke="#111" stroke-width="0.7"/>
<path d="M95,185 C96.3,175 97.3,160 98.3,156 C99.2,160 100.2,175 101.4,186" fill="none" stroke="#333" stroke-width="0.4" stroke-dasharray="0.8,0.8"/>
<path d="M102.9,195.2 C105,194 106.5,190 108,185 C109,182.3 109.8,181.4 110.1,181.4 C110.6,181.4 111.6,182.5 113,186 C115,191 117.5,194.6 120.7,195.2 Z" fill="#d8161e" stroke="#1a1a1a" stroke-width="0.6"/>
<line x1="103.4" y1="175.1" x2="122.5" y2="175.1" stroke="#777" stroke-width="0.5" stroke-linecap="butt"/>
<line x1="103.4" y1="174.2" x2="103.4" y2="176" stroke="#777" stroke-width="0.5" stroke-linecap="butt"/>
<line x1="122.5" y1="174.2" x2="122.5" y2="176" stroke="#777" stroke-width="0.5" stroke-linecap="butt"/>
<text x="104" y="178.6" font-size="3" text-anchor="start" font-weight="normal" fill="#c44">R2 57.79%</text>
<text x="91.9" y="202.2" font-size="4.8" text-anchor="middle" font-weight="normal" fill="#555">10<tspan dy="-1.8" font-size="3">0</tspan></text>
<text x="103.4" y="202.2" font-size="4.8" text-anchor="middle" font-weight="normal" fill="#555">10<tspan dy="-1.8" font-size="3">1</tspan></text>
<text x="114.4" y="202.2" font-size="4.8" text-anchor="middle" font-weight="normal" fill="#555">10<tspan dy="-1.8" font-size="3">2</tspan></text>
<text x="124.2" y="202.2" font-size="4.8" text-anchor="middle" font-weight="normal" fill="#555">10<tspan dy="-1.8" font-size="3">3</tspan></text>
<text x="106.3" y="208.8" font-size="7.6" text-anchor="middle" font-weight="normal" fill="#444" textLength="12.2" lengthAdjust="spacingAndGlyphs" stroke="#444" stroke-width="0.22">CD61</text>
<text transform="translate(76.3,174.3) rotate(-90)" x="0" y="0" font-size="6.6" text-anchor="middle" font-weight="normal" fill="#444" textLength="13.3" lengthAdjust="spacingAndGlyphs" stroke="#444" stroke-width="0.22">Count</text>
<line x1="34.1" y1="228.9" x2="34.1" y2="290.8" stroke="#231f20" stroke-width="1.05" stroke-linecap="butt"/>
<line x1="31.6" y1="290.8" x2="34.1" y2="290.8" stroke="#231f20" stroke-width="1.05" stroke-linecap="butt"/>
<text x="28" y="293.59" font-size="8.2" text-anchor="end" font-weight="normal" fill="#3a3a3a" textLength="4.45" lengthAdjust="spacingAndGlyphs" stroke="#3a3a3a" stroke-width="0.22">0</text>
<line x1="31.6" y1="271" x2="34.1" y2="271" stroke="#231f20" stroke-width="1.05" stroke-linecap="butt"/>
<text x="28" y="273.79" font-size="8.2" text-anchor="end" font-weight="normal" fill="#3a3a3a" textLength="8.9" lengthAdjust="spacingAndGlyphs" stroke="#3a3a3a" stroke-width="0.22">20</text>
<line x1="31.6" y1="251.2" x2="34.1" y2="251.2" stroke="#231f20" stroke-width="1.05" stroke-linecap="butt"/>
<text x="28" y="253.99" font-size="8.2" text-anchor="end" font-weight="normal" fill="#3a3a3a" textLength="8.9" lengthAdjust="spacingAndGlyphs" stroke="#3a3a3a" stroke-width="0.22">40</text>
<line x1="31.6" y1="231.4" x2="34.1" y2="231.4" stroke="#231f20" stroke-width="1.05" stroke-linecap="butt"/>
<text x="28" y="234.19" font-size="8.2" text-anchor="end" font-weight="normal" fill="#3a3a3a" textLength="8.9" lengthAdjust="spacingAndGlyphs" stroke="#3a3a3a" stroke-width="0.22">60</text>
<line x1="34.1" y1="290.8" x2="130.1" y2="290.8" stroke="#231f20" stroke-width="1.05" stroke-linecap="butt"/>
<line x1="34.1" y1="290.8" x2="34.1" y2="293.8" stroke="#231f20" stroke-width="1.05" stroke-linecap="butt"/>
<line x1="50.97" y1="290.8" x2="50.97" y2="293.8" stroke="#231f20" stroke-width="1.05" stroke-linecap="butt"/>
<line x1="67.84" y1="290.8" x2="67.84" y2="293.8" stroke="#231f20" stroke-width="1.05" stroke-linecap="butt"/>
<line x1="84.71" y1="290.8" x2="84.71" y2="293.8" stroke="#231f20" stroke-width="1.05" stroke-linecap="butt"/>
<line x1="101.58" y1="290.8" x2="101.58" y2="293.8" stroke="#231f20" stroke-width="1.05" stroke-linecap="butt"/>
<line x1="118.45" y1="290.8" x2="118.45" y2="293.8" stroke="#231f20" stroke-width="1.05" stroke-linecap="butt"/>
<text x="34.1" y="304.5" font-size="7.8" text-anchor="middle" font-weight="normal" fill="#3a3a3a" stroke="#3a3a3a" stroke-width="0.22">0</text>
<text x="50.97" y="304.5" font-size="7.8" text-anchor="middle" font-weight="normal" fill="#3a3a3a" stroke="#3a3a3a" stroke-width="0.22">7</text>
<text x="67.84" y="304.5" font-size="7.8" text-anchor="middle" font-weight="normal" fill="#3a3a3a" stroke="#3a3a3a" stroke-width="0.22">14</text>
<text x="84.71" y="304.5" font-size="7.8" text-anchor="middle" font-weight="normal" fill="#3a3a3a" stroke="#3a3a3a" stroke-width="0.22">21</text>
<text x="101.58" y="304.5" font-size="7.8" text-anchor="middle" font-weight="normal" fill="#3a3a3a" stroke="#3a3a3a" stroke-width="0.22">28</text>
<text x="118.45" y="304.5" font-size="7.8" text-anchor="middle" font-weight="normal" fill="#3a3a3a" stroke="#3a3a3a" stroke-width="0.22">35</text>
<text x="79.4" y="317.4" font-size="9.3" text-anchor="middle" font-weight="normal" fill="#3a3a3a" textLength="98.5" lengthAdjust="spacingAndGlyphs" stroke="#3a3a3a" stroke-width="0.22">Time after treatement (days)</text>
<text transform="translate(10.4,261) rotate(-90)" x="0" y="0" font-size="9.3" text-anchor="middle" font-weight="normal" fill="#3a3a3a" textLength="80" lengthAdjust="spacingAndGlyphs" stroke="#3a3a3a" stroke-width="0.22">Anti-CD61 antibody (%)</text>
<line x1="50.97" y1="275.45" x2="50.97" y2="281.4" stroke="#4ab448" stroke-width="0.8" stroke-linecap="butt"/>
<line x1="48.97" y1="275.45" x2="52.97" y2="275.45" stroke="#4ab448" stroke-width="0.8" stroke-linecap="butt"/>
<line x1="48.97" y1="281.4" x2="52.97" y2="281.4" stroke="#4ab448" stroke-width="0.8" stroke-linecap="butt"/>
<line x1="67.84" y1="259.12" x2="67.84" y2="267.04" stroke="#4ab448" stroke-width="0.8" stroke-linecap="butt"/>
<line x1="65.84" y1="259.12" x2="69.84" y2="259.12" stroke="#4ab448" stroke-width="0.8" stroke-linecap="butt"/>
<line x1="65.84" y1="267.04" x2="69.84" y2="267.04" stroke="#4ab448" stroke-width="0.8" stroke-linecap="butt"/>
<line x1="84.71" y1="259.12" x2="84.71" y2="272.98" stroke="#4ab448" stroke-width="0.8" stroke-linecap="butt"/>
<line x1="82.71" y1="259.12" x2="86.71" y2="259.12" stroke="#4ab448" stroke-width="0.8" stroke-linecap="butt"/>
<line x1="82.71" y1="272.98" x2="86.71" y2="272.98" stroke="#4ab448" stroke-width="0.8" stroke-linecap="butt"/>
<line x1="101.58" y1="267.54" x2="101.58" y2="275.45" stroke="#4ab448" stroke-width="0.8" stroke-linecap="butt"/>
<line x1="99.58" y1="267.54" x2="103.58" y2="267.54" stroke="#4ab448" stroke-width="0.8" stroke-linecap="butt"/>
<line x1="99.58" y1="275.45" x2="103.58" y2="275.45" stroke="#4ab448" stroke-width="0.8" stroke-linecap="butt"/>
<line x1="118.45" y1="269.51" x2="118.45" y2="277.44" stroke="#4ab448" stroke-width="0.8" stroke-linecap="butt"/>
<line x1="116.45" y1="269.51" x2="120.45" y2="269.51" stroke="#4ab448" stroke-width="0.8" stroke-linecap="butt"/>
<line x1="116.45" y1="277.44" x2="120.45" y2="277.44" stroke="#4ab448" stroke-width="0.8" stroke-linecap="butt"/>
<polyline points="50.97,278.43 67.84,263.08 84.71,266.05 101.58,271.5 118.45,273.48" fill="none" stroke="#4ab448" stroke-width="1" stroke-dasharray="3,2" stroke-linejoin="round"/>
<polygon points="50.97,276.62 52.67,279.62 49.27,279.62" fill="#4ab448"/>
<polygon points="67.84,261.28 69.54,264.28 66.14,264.28" fill="#4ab448"/>
<polygon points="84.71,264.25 86.41,267.25 83.01,267.25" fill="#4ab448"/>
<polygon points="101.58,269.69 103.28,272.69 99.88,272.69" fill="#4ab448"/>
<polygon points="118.45,271.68 120.15,274.68 116.75,274.68" fill="#4ab448"/>
<line x1="50.97" y1="276.94" x2="50.97" y2="284.86" stroke="#c8173a" stroke-width="0.8" stroke-linecap="butt"/>
<line x1="48.97" y1="276.94" x2="52.97" y2="276.94" stroke="#c8173a" stroke-width="0.8" stroke-linecap="butt"/>
<line x1="48.97" y1="284.86" x2="52.97" y2="284.86" stroke="#c8173a" stroke-width="0.8" stroke-linecap="butt"/>
<line x1="67.84" y1="247.24" x2="67.84" y2="257.14" stroke="#c8173a" stroke-width="0.8" stroke-linecap="butt"/>
<line x1="65.84" y1="247.24" x2="69.84" y2="247.24" stroke="#c8173a" stroke-width="0.8" stroke-linecap="butt"/>
<line x1="65.84" y1="257.14" x2="69.84" y2="257.14" stroke="#c8173a" stroke-width="0.8" stroke-linecap="butt"/>
<line x1="84.71" y1="251.2" x2="84.71" y2="261.1" stroke="#c8173a" stroke-width="0.8" stroke-linecap="butt"/>
<line x1="82.71" y1="251.2" x2="86.71" y2="251.2" stroke="#c8173a" stroke-width="0.8" stroke-linecap="butt"/>
<line x1="82.71" y1="261.1" x2="86.71" y2="261.1" stroke="#c8173a" stroke-width="0.8" stroke-linecap="butt"/>
<line x1="101.58" y1="260.11" x2="101.58" y2="268.03" stroke="#c8173a" stroke-width="0.8" stroke-linecap="butt"/>
<line x1="99.58" y1="260.11" x2="103.58" y2="260.11" stroke="#c8173a" stroke-width="0.8" stroke-linecap="butt"/>
<line x1="99.58" y1="268.03" x2="103.58" y2="268.03" stroke="#c8173a" stroke-width="0.8" stroke-linecap="butt"/>
<line x1="118.45" y1="263.08" x2="118.45" y2="269.02" stroke="#c8173a" stroke-width="0.8" stroke-linecap="butt"/>
<line x1="116.45" y1="263.08" x2="120.45" y2="263.08" stroke="#c8173a" stroke-width="0.8" stroke-linecap="butt"/>
<line x1="116.45" y1="269.02" x2="120.45" y2="269.02" stroke="#c8173a" stroke-width="0.8" stroke-linecap="butt"/>
<polyline points="50.97,280.9 67.84,252.19 84.71,256.15 101.58,264.07 118.45,266.05" fill="none" stroke="#c8173a" stroke-width="1" stroke-dasharray="3,2" stroke-linejoin="round"/>
<rect x="49.47" y="279.4" width="3" height="3" fill="#c8173a" stroke="none" stroke-width="0"/>
<rect x="66.34" y="250.69" width="3" height="3" fill="#c8173a" stroke="none" stroke-width="0"/>
<rect x="83.21" y="254.65" width="3" height="3" fill="#c8173a" stroke="none" stroke-width="0"/>
<rect x="100.08" y="262.57" width="3" height="3" fill="#c8173a" stroke="none" stroke-width="0"/>
<rect x="116.95" y="264.55" width="3" height="3" fill="#c8173a" stroke="none" stroke-width="0"/>
<line x1="50.97" y1="272.98" x2="50.97" y2="278.92" stroke="#1f4b7e" stroke-width="0.8" stroke-linecap="butt"/>
<line x1="48.97" y1="272.98" x2="52.97" y2="272.98" stroke="#1f4b7e" stroke-width="0.8" stroke-linecap="butt"/>
<line x1="48.97" y1="278.92" x2="52.97" y2="278.92" stroke="#1f4b7e" stroke-width="0.8" stroke-linecap="butt"/>
<line x1="67.84" y1="235.16" x2="67.84" y2="253.38" stroke="#1f4b7e" stroke-width="0.8" stroke-linecap="butt"/>
<line x1="65.84" y1="235.16" x2="69.84" y2="235.16" stroke="#1f4b7e" stroke-width="0.8" stroke-linecap="butt"/>
<line x1="65.84" y1="253.38" x2="69.84" y2="253.38" stroke="#1f4b7e" stroke-width="0.8" stroke-linecap="butt"/>
<line x1="84.71" y1="238.73" x2="84.71" y2="254.57" stroke="#1f4b7e" stroke-width="0.8" stroke-linecap="butt"/>
<line x1="82.71" y1="238.73" x2="86.71" y2="238.73" stroke="#1f4b7e" stroke-width="0.8" stroke-linecap="butt"/>
<line x1="82.71" y1="254.57" x2="86.71" y2="254.57" stroke="#1f4b7e" stroke-width="0.8" stroke-linecap="butt"/>
<line x1="101.58" y1="249.12" x2="101.58" y2="267.93" stroke="#1f4b7e" stroke-width="0.8" stroke-linecap="butt"/>
<line x1="99.58" y1="249.12" x2="103.58" y2="249.12" stroke="#1f4b7e" stroke-width="0.8" stroke-linecap="butt"/>
<line x1="99.58" y1="267.93" x2="103.58" y2="267.93" stroke="#1f4b7e" stroke-width="0.8" stroke-linecap="butt"/>
<line x1="118.45" y1="253.28" x2="118.45" y2="267.14" stroke="#1f4b7e" stroke-width="0.8" stroke-linecap="butt"/>
<line x1="116.45" y1="253.28" x2="120.45" y2="253.28" stroke="#1f4b7e" stroke-width="0.8" stroke-linecap="butt"/>
<line x1="116.45" y1="267.14" x2="120.45" y2="267.14" stroke="#1f4b7e" stroke-width="0.8" stroke-linecap="butt"/>
<polyline points="50.97,275.95 67.84,244.27 84.71,246.65 101.58,258.53 118.45,260.21" fill="none" stroke="#1f4b7e" stroke-width="1.2" stroke-linejoin="round"/>
<circle cx="50.97" cy="275.95" r="1.7" fill="#1f4b7e"/>
<circle cx="67.84" cy="244.27" r="1.7" fill="#1f4b7e"/>
<circle cx="84.71" cy="246.65" r="1.7" fill="#1f4b7e"/>
<circle cx="101.58" cy="258.53" r="1.7" fill="#1f4b7e"/>
<circle cx="118.45" cy="260.21" r="1.7" fill="#1f4b7e"/>
<polygon points="67.8,223.4 68.93,226.65 72.37,226.72 69.63,228.79 70.62,232.08 67.8,230.12 64.98,232.08 65.97,228.79 63.23,226.72 66.67,226.65" fill="#231f20"/>
<line x1="93.2" y1="220.7" x2="104.1" y2="220.7" stroke="#1f4b7e" stroke-width="1.2" stroke-linecap="butt"/>
<circle cx="98.6" cy="220.7" r="1.7" fill="#1f4b7e"/>
<line x1="93.2" y1="231.6" x2="104.1" y2="231.6" stroke="#c8173a" stroke-width="1" stroke-dasharray="3,2" stroke-linecap="butt"/>
<rect x="97.1" y="230.1" width="3" height="3" fill="#c8173a" stroke="none" stroke-width="0"/>
<line x1="93.2" y1="242" x2="104.1" y2="242" stroke="#4ab448" stroke-width="1" stroke-dasharray="3,2" stroke-linecap="butt"/>
<polygon points="98.6,240.2 100.3,243.2 96.9,243.2" fill="#4ab448"/>
<text x="106.4" y="223.6" font-size="8.1" text-anchor="start" font-weight="normal" fill="#3a3a3a" textLength="25.5" lengthAdjust="spacingAndGlyphs">Control</text>
<text x="106.4" y="234.5" font-size="8.1" text-anchor="start" font-weight="normal" fill="#3a3a3a" textLength="38.4" lengthAdjust="spacingAndGlyphs">PBS-MDSC</text>
<text x="106.4" y="244.9" font-size="8.1" text-anchor="start" font-weight="normal" fill="#3a3a3a" textLength="38" lengthAdjust="spacingAndGlyphs">Dec-MDSC</text>
<text x="155.5" y="150.4" font-size="11.8" text-anchor="start" font-weight="bold" fill="#000">C</text>
<line x1="184.1" y1="203.8" x2="184.1" y2="290.9" stroke="#231f20" stroke-width="1.05" stroke-linecap="butt"/>
<line x1="181.6" y1="290.9" x2="184.1" y2="290.9" stroke="#231f20" stroke-width="1.05" stroke-linecap="butt"/>
<text x="178.8" y="293.69" font-size="8.2" text-anchor="end" font-weight="normal" fill="#3a3a3a" textLength="4.45" lengthAdjust="spacingAndGlyphs" stroke="#3a3a3a" stroke-width="0.22">0</text>
<line x1="181.6" y1="262.7" x2="184.1" y2="262.7" stroke="#231f20" stroke-width="1.05" stroke-linecap="butt"/>
<text x="178.8" y="265.49" font-size="8.2" text-anchor="end" font-weight="normal" fill="#3a3a3a" textLength="8.9" lengthAdjust="spacingAndGlyphs" stroke="#3a3a3a" stroke-width="0.22">10</text>
<line x1="181.6" y1="234.5" x2="184.1" y2="234.5" stroke="#231f20" stroke-width="1.05" stroke-linecap="butt"/>
<text x="178.8" y="237.29" font-size="8.2" text-anchor="end" font-weight="normal" fill="#3a3a3a" textLength="8.9" lengthAdjust="spacingAndGlyphs" stroke="#3a3a3a" stroke-width="0.22">20</text>
<line x1="181.6" y1="206.3" x2="184.1" y2="206.3" stroke="#231f20" stroke-width="1.05" stroke-linecap="butt"/>
<text x="178.8" y="209.09" font-size="8.2" text-anchor="end" font-weight="normal" fill="#3a3a3a" textLength="8.9" lengthAdjust="spacingAndGlyphs" stroke="#3a3a3a" stroke-width="0.22">30</text>
<line x1="184.1" y1="290.9" x2="315.4" y2="290.9" stroke="#231f20" stroke-width="1.05" stroke-linecap="butt"/>
<line x1="184.1" y1="290.9" x2="184.1" y2="293.9" stroke="#231f20" stroke-width="1.05" stroke-linecap="butt"/>
<line x1="200.2" y1="290.9" x2="200.2" y2="293.9" stroke="#231f20" stroke-width="1.05" stroke-linecap="butt"/>
<line x1="216.3" y1="290.9" x2="216.3" y2="293.9" stroke="#231f20" stroke-width="1.05" stroke-linecap="butt"/>
<line x1="232.4" y1="290.9" x2="232.4" y2="293.9" stroke="#231f20" stroke-width="1.05" stroke-linecap="butt"/>
<line x1="248.5" y1="290.9" x2="248.5" y2="293.9" stroke="#231f20" stroke-width="1.05" stroke-linecap="butt"/>
<line x1="264.6" y1="290.9" x2="264.6" y2="293.9" stroke="#231f20" stroke-width="1.05" stroke-linecap="butt"/>
<line x1="280.7" y1="290.9" x2="280.7" y2="293.9" stroke="#231f20" stroke-width="1.05" stroke-linecap="butt"/>
<line x1="296.8" y1="290.9" x2="296.8" y2="293.9" stroke="#231f20" stroke-width="1.05" stroke-linecap="butt"/>
<line x1="312.9" y1="290.9" x2="312.9" y2="293.9" stroke="#231f20" stroke-width="1.05" stroke-linecap="butt"/>
<text x="184.1" y="303.8" font-size="7.8" text-anchor="middle" font-weight="normal" fill="#3a3a3a" stroke="#3a3a3a" stroke-width="0.22">0</text>
<text x="200.2" y="303.8" font-size="7.8" text-anchor="middle" font-weight="normal" fill="#3a3a3a" stroke="#3a3a3a" stroke-width="0.22">10</text>
<text x="216.3" y="303.8" font-size="7.8" text-anchor="middle" font-weight="normal" fill="#3a3a3a" stroke="#3a3a3a" stroke-width="0.22">20</text>
<text x="232.4" y="303.8" font-size="7.8" text-anchor="middle" font-weight="normal" fill="#3a3a3a" stroke="#3a3a3a" stroke-width="0.22">30</text>
<text x="248.5" y="303.8" font-size="7.8" text-anchor="middle" font-weight="normal" fill="#3a3a3a" stroke="#3a3a3a" stroke-width="0.22">40</text>
<text x="264.6" y="303.8" font-size="7.8" text-anchor="middle" font-weight="normal" fill="#3a3a3a" stroke="#3a3a3a" stroke-width="0.22">50</text>
<text x="280.7" y="303.8" font-size="7.8" text-anchor="middle" font-weight="normal" fill="#3a3a3a" stroke="#3a3a3a" stroke-width="0.22">60</text>
<text x="296.8" y="303.8" font-size="7.8" text-anchor="middle" font-weight="normal" fill="#3a3a3a" stroke="#3a3a3a" stroke-width="0.22">70</text>
<text x="312.9" y="303.8" font-size="7.8" text-anchor="middle" font-weight="normal" fill="#3a3a3a" stroke="#3a3a3a" stroke-width="0.22">80</text>
<text x="248.6" y="317.6" font-size="9.3" text-anchor="middle" font-weight="normal" fill="#3a3a3a" textLength="52" lengthAdjust="spacingAndGlyphs" stroke="#3a3a3a" stroke-width="0.22">Time (minutes)</text>
<text transform="translate(160.4,248.5) rotate(-90)" x="0" y="0" font-size="9.3" text-anchor="middle" font-weight="normal" fill="#3a3a3a" textLength="55" lengthAdjust="spacingAndGlyphs" stroke="#3a3a3a" stroke-width="0.22">OCR (pmol/min)</text>
<line x1="186" y1="239.86" x2="186" y2="241.55" stroke="#5cbf5a" stroke-width="0.9" stroke-linecap="butt"/>
<line x1="183.8" y1="239.86" x2="188.2" y2="239.86" stroke="#5cbf5a" stroke-width="0.9" stroke-linecap="butt"/>
<line x1="183.8" y1="241.55" x2="188.2" y2="241.55" stroke="#5cbf5a" stroke-width="0.9" stroke-linecap="butt"/>
<line x1="196.5" y1="238.45" x2="196.5" y2="241.27" stroke="#5cbf5a" stroke-width="0.9" stroke-linecap="butt"/>
<line x1="194.3" y1="238.45" x2="198.7" y2="238.45" stroke="#5cbf5a" stroke-width="0.9" stroke-linecap="butt"/>
<line x1="194.3" y1="241.27" x2="198.7" y2="241.27" stroke="#5cbf5a" stroke-width="0.9" stroke-linecap="butt"/>
<line x1="206.7" y1="239.01" x2="206.7" y2="241.83" stroke="#5cbf5a" stroke-width="0.9" stroke-linecap="butt"/>
<line x1="204.5" y1="239.01" x2="208.9" y2="239.01" stroke="#5cbf5a" stroke-width="0.9" stroke-linecap="butt"/>
<line x1="204.5" y1="241.83" x2="208.9" y2="241.83" stroke="#5cbf5a" stroke-width="0.9" stroke-linecap="butt"/>
<line x1="217.3" y1="270.03" x2="217.3" y2="275.67" stroke="#5cbf5a" stroke-width="0.9" stroke-linecap="butt"/>
<line x1="215.1" y1="270.03" x2="219.5" y2="270.03" stroke="#5cbf5a" stroke-width="0.9" stroke-linecap="butt"/>
<line x1="215.1" y1="275.67" x2="219.5" y2="275.67" stroke="#5cbf5a" stroke-width="0.9" stroke-linecap="butt"/>
<line x1="227.9" y1="269.19" x2="227.9" y2="277.65" stroke="#5cbf5a" stroke-width="0.9" stroke-linecap="butt"/>
<line x1="225.7" y1="269.19" x2="230.1" y2="269.19" stroke="#5cbf5a" stroke-width="0.9" stroke-linecap="butt"/>
<line x1="225.7" y1="277.65" x2="230.1" y2="277.65" stroke="#5cbf5a" stroke-width="0.9" stroke-linecap="butt"/>
<line x1="237.9" y1="269.19" x2="237.9" y2="275.95" stroke="#5cbf5a" stroke-width="0.9" stroke-linecap="butt"/>
<line x1="235.7" y1="269.19" x2="240.1" y2="269.19" stroke="#5cbf5a" stroke-width="0.9" stroke-linecap="butt"/>
<line x1="235.7" y1="275.95" x2="240.1" y2="275.95" stroke="#5cbf5a" stroke-width="0.9" stroke-linecap="butt"/>
<line x1="248.8" y1="215.32" x2="248.8" y2="234.5" stroke="#5cbf5a" stroke-width="0.9" stroke-linecap="butt"/>
<line x1="246.6" y1="215.32" x2="251" y2="215.32" stroke="#5cbf5a" stroke-width="0.9" stroke-linecap="butt"/>
<line x1="246.6" y1="234.5" x2="251" y2="234.5" stroke="#5cbf5a" stroke-width="0.9" stroke-linecap="butt"/>
<line x1="258.9" y1="226.32" x2="258.9" y2="237.6" stroke="#5cbf5a" stroke-width="0.9" stroke-linecap="butt"/>
<line x1="256.7" y1="226.32" x2="261.1" y2="226.32" stroke="#5cbf5a" stroke-width="0.9" stroke-linecap="butt"/>
<line x1="256.7" y1="237.6" x2="261.1" y2="237.6" stroke="#5cbf5a" stroke-width="0.9" stroke-linecap="butt"/>
<line x1="269.2" y1="230.27" x2="269.2" y2="242.68" stroke="#5cbf5a" stroke-width="0.9" stroke-linecap="butt"/>
<line x1="267" y1="230.27" x2="271.4" y2="230.27" stroke="#5cbf5a" stroke-width="0.9" stroke-linecap="butt"/>
<line x1="267" y1="242.68" x2="271.4" y2="242.68" stroke="#5cbf5a" stroke-width="0.9" stroke-linecap="butt"/>
<line x1="280" y1="283.29" x2="280" y2="286.11" stroke="#5cbf5a" stroke-width="0.9" stroke-linecap="butt"/>
<line x1="277.8" y1="283.29" x2="282.2" y2="283.29" stroke="#5cbf5a" stroke-width="0.9" stroke-linecap="butt"/>
<line x1="277.8" y1="286.11" x2="282.2" y2="286.11" stroke="#5cbf5a" stroke-width="0.9" stroke-linecap="butt"/>
<line x1="290.3" y1="283.57" x2="290.3" y2="286.39" stroke="#5cbf5a" stroke-width="0.9" stroke-linecap="butt"/>
<line x1="288.1" y1="283.57" x2="292.5" y2="283.57" stroke="#5cbf5a" stroke-width="0.9" stroke-linecap="butt"/>
<line x1="288.1" y1="286.39" x2="292.5" y2="286.39" stroke="#5cbf5a" stroke-width="0.9" stroke-linecap="butt"/>
<line x1="300.8" y1="283.29" x2="300.8" y2="286.11" stroke="#5cbf5a" stroke-width="0.9" stroke-linecap="butt"/>
<line x1="298.6" y1="283.29" x2="303" y2="283.29" stroke="#5cbf5a" stroke-width="0.9" stroke-linecap="butt"/>
<line x1="298.6" y1="286.11" x2="303" y2="286.11" stroke="#5cbf5a" stroke-width="0.9" stroke-linecap="butt"/>
<line x1="186" y1="244.93" x2="186" y2="269.19" stroke="#c8173a" stroke-width="0.9" stroke-linecap="butt"/>
<line x1="183.8" y1="244.93" x2="188.2" y2="244.93" stroke="#c8173a" stroke-width="0.9" stroke-linecap="butt"/>
<line x1="183.8" y1="269.19" x2="188.2" y2="269.19" stroke="#c8173a" stroke-width="0.9" stroke-linecap="butt"/>
<line x1="196.5" y1="241.83" x2="196.5" y2="268.9" stroke="#c8173a" stroke-width="0.9" stroke-linecap="butt"/>
<line x1="194.3" y1="241.83" x2="198.7" y2="241.83" stroke="#c8173a" stroke-width="0.9" stroke-linecap="butt"/>
<line x1="194.3" y1="268.9" x2="198.7" y2="268.9" stroke="#c8173a" stroke-width="0.9" stroke-linecap="butt"/>
<line x1="206.7" y1="243.81" x2="206.7" y2="270.88" stroke="#c8173a" stroke-width="0.9" stroke-linecap="butt"/>
<line x1="204.5" y1="243.81" x2="208.9" y2="243.81" stroke="#c8173a" stroke-width="0.9" stroke-linecap="butt"/>
<line x1="204.5" y1="270.88" x2="208.9" y2="270.88" stroke="#c8173a" stroke-width="0.9" stroke-linecap="butt"/>
<line x1="217.3" y1="271.44" x2="217.3" y2="282.72" stroke="#c8173a" stroke-width="0.9" stroke-linecap="butt"/>
<line x1="215.1" y1="271.44" x2="219.5" y2="271.44" stroke="#c8173a" stroke-width="0.9" stroke-linecap="butt"/>
<line x1="215.1" y1="282.72" x2="219.5" y2="282.72" stroke="#c8173a" stroke-width="0.9" stroke-linecap="butt"/>
<line x1="227.9" y1="269.75" x2="227.9" y2="284.41" stroke="#c8173a" stroke-width="0.9" stroke-linecap="butt"/>
<line x1="225.7" y1="269.75" x2="230.1" y2="269.75" stroke="#c8173a" stroke-width="0.9" stroke-linecap="butt"/>
<line x1="225.7" y1="284.41" x2="230.1" y2="284.41" stroke="#c8173a" stroke-width="0.9" stroke-linecap="butt"/>
<line x1="237.9" y1="271.16" x2="237.9" y2="284.13" stroke="#c8173a" stroke-width="0.9" stroke-linecap="butt"/>
<line x1="235.7" y1="271.16" x2="240.1" y2="271.16" stroke="#c8173a" stroke-width="0.9" stroke-linecap="butt"/>
<line x1="235.7" y1="284.13" x2="240.1" y2="284.13" stroke="#c8173a" stroke-width="0.9" stroke-linecap="butt"/>
<line x1="248.8" y1="242.4" x2="248.8" y2="253.68" stroke="#c8173a" stroke-width="0.9" stroke-linecap="butt"/>
<line x1="246.6" y1="242.4" x2="251" y2="242.4" stroke="#c8173a" stroke-width="0.9" stroke-linecap="butt"/>
<line x1="246.6" y1="253.68" x2="251" y2="253.68" stroke="#c8173a" stroke-width="0.9" stroke-linecap="butt"/>
<line x1="258.9" y1="244.65" x2="258.9" y2="257.06" stroke="#c8173a" stroke-width="0.9" stroke-linecap="butt"/>
<line x1="256.7" y1="244.65" x2="261.1" y2="244.65" stroke="#c8173a" stroke-width="0.9" stroke-linecap="butt"/>
<line x1="256.7" y1="257.06" x2="261.1" y2="257.06" stroke="#c8173a" stroke-width="0.9" stroke-linecap="butt"/>
<line x1="269.2" y1="248.04" x2="269.2" y2="262.14" stroke="#c8173a" stroke-width="0.9" stroke-linecap="butt"/>
<line x1="267" y1="248.04" x2="271.4" y2="248.04" stroke="#c8173a" stroke-width="0.9" stroke-linecap="butt"/>
<line x1="267" y1="262.14" x2="271.4" y2="262.14" stroke="#c8173a" stroke-width="0.9" stroke-linecap="butt"/>
<line x1="280" y1="280.75" x2="280" y2="286.39" stroke="#c8173a" stroke-width="0.9" stroke-linecap="butt"/>
<line x1="277.8" y1="280.75" x2="282.2" y2="280.75" stroke="#c8173a" stroke-width="0.9" stroke-linecap="butt"/>
<line x1="277.8" y1="286.39" x2="282.2" y2="286.39" stroke="#c8173a" stroke-width="0.9" stroke-linecap="butt"/>
<line x1="290.3" y1="280.47" x2="290.3" y2="287.23" stroke="#c8173a" stroke-width="0.9" stroke-linecap="butt"/>
<line x1="288.1" y1="280.47" x2="292.5" y2="280.47" stroke="#c8173a" stroke-width="0.9" stroke-linecap="butt"/>
<line x1="288.1" y1="287.23" x2="292.5" y2="287.23" stroke="#c8173a" stroke-width="0.9" stroke-linecap="butt"/>
<line x1="300.8" y1="280.18" x2="300.8" y2="286.95" stroke="#c8173a" stroke-width="0.9" stroke-linecap="butt"/>
<line x1="298.6" y1="280.18" x2="303" y2="280.18" stroke="#c8173a" stroke-width="0.9" stroke-linecap="butt"/>
<line x1="298.6" y1="286.95" x2="303" y2="286.95" stroke="#c8173a" stroke-width="0.9" stroke-linecap="butt"/>
<line x1="186" y1="255.37" x2="186" y2="268.9" stroke="#3d6fa5" stroke-width="0.9" stroke-linecap="butt"/>
<line x1="183.8" y1="255.37" x2="188.2" y2="255.37" stroke="#3d6fa5" stroke-width="0.9" stroke-linecap="butt"/>
<line x1="183.8" y1="268.9" x2="188.2" y2="268.9" stroke="#3d6fa5" stroke-width="0.9" stroke-linecap="butt"/>
<line x1="196.5" y1="256.78" x2="196.5" y2="269.75" stroke="#3d6fa5" stroke-width="0.9" stroke-linecap="butt"/>
<line x1="194.3" y1="256.78" x2="198.7" y2="256.78" stroke="#3d6fa5" stroke-width="0.9" stroke-linecap="butt"/>
<line x1="194.3" y1="269.75" x2="198.7" y2="269.75" stroke="#3d6fa5" stroke-width="0.9" stroke-linecap="butt"/>
<line x1="206.7" y1="257.34" x2="206.7" y2="269.75" stroke="#3d6fa5" stroke-width="0.9" stroke-linecap="butt"/>
<line x1="204.5" y1="257.34" x2="208.9" y2="257.34" stroke="#3d6fa5" stroke-width="0.9" stroke-linecap="butt"/>
<line x1="204.5" y1="269.75" x2="208.9" y2="269.75" stroke="#3d6fa5" stroke-width="0.9" stroke-linecap="butt"/>
<line x1="217.3" y1="272.85" x2="217.3" y2="281.88" stroke="#3d6fa5" stroke-width="0.9" stroke-linecap="butt"/>
<line x1="215.1" y1="272.85" x2="219.5" y2="272.85" stroke="#3d6fa5" stroke-width="0.9" stroke-linecap="butt"/>
<line x1="215.1" y1="281.88" x2="219.5" y2="281.88" stroke="#3d6fa5" stroke-width="0.9" stroke-linecap="butt"/>
<line x1="227.9" y1="271.16" x2="227.9" y2="282.44" stroke="#3d6fa5" stroke-width="0.9" stroke-linecap="butt"/>
<line x1="225.7" y1="271.16" x2="230.1" y2="271.16" stroke="#3d6fa5" stroke-width="0.9" stroke-linecap="butt"/>
<line x1="225.7" y1="282.44" x2="230.1" y2="282.44" stroke="#3d6fa5" stroke-width="0.9" stroke-linecap="butt"/>
<line x1="237.9" y1="272.29" x2="237.9" y2="282.44" stroke="#3d6fa5" stroke-width="0.9" stroke-linecap="butt"/>
<line x1="235.7" y1="272.29" x2="240.1" y2="272.29" stroke="#3d6fa5" stroke-width="0.9" stroke-linecap="butt"/>
<line x1="235.7" y1="282.44" x2="240.1" y2="282.44" stroke="#3d6fa5" stroke-width="0.9" stroke-linecap="butt"/>
<line x1="248.8" y1="243.81" x2="248.8" y2="264.67" stroke="#3d6fa5" stroke-width="0.9" stroke-linecap="butt"/>
<line x1="246.6" y1="243.81" x2="251" y2="243.81" stroke="#3d6fa5" stroke-width="0.9" stroke-linecap="butt"/>
<line x1="246.6" y1="264.67" x2="251" y2="264.67" stroke="#3d6fa5" stroke-width="0.9" stroke-linecap="butt"/>
<line x1="258.9" y1="243.24" x2="258.9" y2="267.49" stroke="#3d6fa5" stroke-width="0.9" stroke-linecap="butt"/>
<line x1="256.7" y1="243.24" x2="261.1" y2="243.24" stroke="#3d6fa5" stroke-width="0.9" stroke-linecap="butt"/>
<line x1="256.7" y1="267.49" x2="261.1" y2="267.49" stroke="#3d6fa5" stroke-width="0.9" stroke-linecap="butt"/>
<line x1="269.2" y1="249.45" x2="269.2" y2="270.88" stroke="#3d6fa5" stroke-width="0.9" stroke-linecap="butt"/>
<line x1="267" y1="249.45" x2="271.4" y2="249.45" stroke="#3d6fa5" stroke-width="0.9" stroke-linecap="butt"/>
<line x1="267" y1="270.88" x2="271.4" y2="270.88" stroke="#3d6fa5" stroke-width="0.9" stroke-linecap="butt"/>
<line x1="280" y1="280.18" x2="280" y2="288.64" stroke="#3d6fa5" stroke-width="0.9" stroke-linecap="butt"/>
<line x1="277.8" y1="280.18" x2="282.2" y2="280.18" stroke="#3d6fa5" stroke-width="0.9" stroke-linecap="butt"/>
<line x1="277.8" y1="288.64" x2="282.2" y2="288.64" stroke="#3d6fa5" stroke-width="0.9" stroke-linecap="butt"/>
<line x1="290.3" y1="280.18" x2="290.3" y2="290.34" stroke="#3d6fa5" stroke-width="0.9" stroke-linecap="butt"/>
<line x1="288.1" y1="280.18" x2="292.5" y2="280.18" stroke="#3d6fa5" stroke-width="0.9" stroke-linecap="butt"/>
<line x1="288.1" y1="290.34" x2="292.5" y2="290.34" stroke="#3d6fa5" stroke-width="0.9" stroke-linecap="butt"/>
<line x1="300.8" y1="279.9" x2="300.8" y2="288.93" stroke="#3d6fa5" stroke-width="0.9" stroke-linecap="butt"/>
<line x1="298.6" y1="279.9" x2="303" y2="279.9" stroke="#3d6fa5" stroke-width="0.9" stroke-linecap="butt"/>
<line x1="298.6" y1="288.93" x2="303" y2="288.93" stroke="#3d6fa5" stroke-width="0.9" stroke-linecap="butt"/>
<polyline points="186,240.7 196.5,239.86 206.7,240.42 217.3,272.85 227.9,273.42 237.9,272.57 248.8,224.91 258.9,231.96 269.2,236.47 280,284.7 290.3,284.98 300.8,284.7" fill="none" stroke="#4ab448" stroke-width="1" stroke-linejoin="round"/>
<circle cx="186" cy="240.7" r="1.6" fill="#4ab448"/>
<circle cx="196.5" cy="239.86" r="1.6" fill="#4ab448"/>
<circle cx="206.7" cy="240.42" r="1.6" fill="#4ab448"/>
<circle cx="217.3" cy="272.85" r="1.6" fill="#4ab448"/>
<circle cx="227.9" cy="273.42" r="1.6" fill="#4ab448"/>
<circle cx="237.9" cy="272.57" r="1.6" fill="#4ab448"/>
<circle cx="248.8" cy="224.91" r="1.6" fill="#4ab448"/>
<circle cx="258.9" cy="231.96" r="1.6" fill="#4ab448"/>
<circle cx="269.2" cy="236.47" r="1.6" fill="#4ab448"/>
<circle cx="280" cy="284.7" r="1.6" fill="#4ab448"/>
<circle cx="290.3" cy="284.98" r="1.6" fill="#4ab448"/>
<circle cx="300.8" cy="284.7" r="1.6" fill="#4ab448"/>
<polyline points="186,257.06 196.5,255.37 206.7,257.34 217.3,277.08 227.9,277.08 237.9,277.65 248.8,248.04 258.9,250.86 269.2,255.09 280,283.57 290.3,283.85 300.8,283.57" fill="none" stroke="#c8173a" stroke-width="1.5" stroke-linejoin="round"/>
<rect x="184.5" y="255.56" width="3" height="3" fill="#c8173a" stroke="none" stroke-width="0"/>
<rect x="195" y="253.87" width="3" height="3" fill="#c8173a" stroke="none" stroke-width="0"/>
<rect x="205.2" y="255.84" width="3" height="3" fill="#c8173a" stroke="none" stroke-width="0"/>
<rect x="215.8" y="275.58" width="3" height="3" fill="#c8173a" stroke="none" stroke-width="0"/>
<rect x="226.4" y="275.58" width="3" height="3" fill="#c8173a" stroke="none" stroke-width="0"/>
<rect x="236.4" y="276.15" width="3" height="3" fill="#c8173a" stroke="none" stroke-width="0"/>
<rect x="247.3" y="246.54" width="3" height="3" fill="#c8173a" stroke="none" stroke-width="0"/>
<rect x="257.4" y="249.36" width="3" height="3" fill="#c8173a" stroke="none" stroke-width="0"/>
<rect x="267.7" y="253.59" width="3" height="3" fill="#c8173a" stroke="none" stroke-width="0"/>
<rect x="278.5" y="282.07" width="3" height="3" fill="#c8173a" stroke="none" stroke-width="0"/>
<rect x="288.8" y="282.35" width="3" height="3" fill="#c8173a" stroke="none" stroke-width="0"/>
<rect x="299.3" y="282.07" width="3" height="3" fill="#c8173a" stroke="none" stroke-width="0"/>
<polyline points="186,262.14 196.5,263.26 206.7,263.55 217.3,277.36 227.9,276.8 237.9,277.36 248.8,254.24 258.9,255.37 269.2,260.16 280,284.41 290.3,285.26 300.8,284.41" fill="none" stroke="#1f4b7e" stroke-width="1.5" stroke-linejoin="round"/>
<circle cx="186" cy="262.14" r="1.6" fill="#1f4b7e"/>
<circle cx="196.5" cy="263.26" r="1.6" fill="#1f4b7e"/>
<circle cx="206.7" cy="263.55" r="1.6" fill="#1f4b7e"/>
<circle cx="217.3" cy="277.36" r="1.6" fill="#1f4b7e"/>
<circle cx="227.9" cy="276.8" r="1.6" fill="#1f4b7e"/>
<circle cx="237.9" cy="277.36" r="1.6" fill="#1f4b7e"/>
<circle cx="248.8" cy="254.24" r="1.6" fill="#1f4b7e"/>
<circle cx="258.9" cy="255.37" r="1.6" fill="#1f4b7e"/>
<circle cx="269.2" cy="260.16" r="1.6" fill="#1f4b7e"/>
<circle cx="280" cy="284.41" r="1.6" fill="#1f4b7e"/>
<circle cx="290.3" cy="285.26" r="1.6" fill="#1f4b7e"/>
<circle cx="300.8" cy="284.41" r="1.6" fill="#1f4b7e"/>
<line x1="206.3" y1="196" x2="206.3" y2="218.5" stroke="#231f20" stroke-width="1.1" stroke-linecap="butt"/>
<polygon points="204,217 208.6,217 206.3,221.5" fill="#231f20"/>
<line x1="237.3" y1="196" x2="237.3" y2="218.5" stroke="#231f20" stroke-width="1.1" stroke-linecap="butt"/>
<polygon points="235,217 239.6,217 237.3,221.5" fill="#231f20"/>
<line x1="270.2" y1="195.6" x2="270.2" y2="219.5" stroke="#231f20" stroke-width="1.1" stroke-linecap="butt"/>
<polygon points="267.9,218 272.5,218 270.2,222.5" fill="#231f20"/>
<text x="188.1" y="186.3" font-size="7.8" text-anchor="start" font-weight="normal" fill="#3a3a3a" textLength="35.9" lengthAdjust="spacingAndGlyphs" stroke="#3a3a3a" stroke-width="0.22">Oligomycin</text>
<text x="227.9" y="186.3" font-size="7.8" text-anchor="start" font-weight="normal" fill="#3a3a3a" textLength="17.9" lengthAdjust="spacingAndGlyphs" stroke="#3a3a3a" stroke-width="0.22">FCCP</text>
<text x="251.9" y="182.4" font-size="7.8" text-anchor="start" font-weight="normal" fill="#3a3a3a" textLength="37.7" lengthAdjust="spacingAndGlyphs" stroke="#3a3a3a" stroke-width="0.22">Rotenone &amp;</text>
<text x="251.9" y="191.1" font-size="7.8" text-anchor="start" font-weight="normal" fill="#3a3a3a" textLength="37.7" lengthAdjust="spacingAndGlyphs" stroke="#3a3a3a" stroke-width="0.22">antimycin A</text>
<line x1="276.9" y1="220.6" x2="286.7" y2="220.6" stroke="#1f4b7e" stroke-width="1.3" stroke-linecap="butt"/>
<circle cx="281.8" cy="220.6" r="1.7" fill="#1f4b7e"/>
<line x1="276.9" y1="231.5" x2="286.7" y2="231.5" stroke="#c8173a" stroke-width="1.3" stroke-linecap="butt"/>
<rect x="280.3" y="230" width="3" height="3" fill="#c8173a" stroke="none" stroke-width="0"/>
<line x1="276.9" y1="241.7" x2="286.7" y2="241.7" stroke="#4ab448" stroke-width="1" stroke-linecap="butt"/>
<circle cx="281.8" cy="241.7" r="1.3" fill="#4ab448"/>
<text x="290.4" y="223.5" font-size="8.1" text-anchor="start" font-weight="normal" fill="#3a3a3a" textLength="25.5" lengthAdjust="spacingAndGlyphs">Control</text>
<text x="290.4" y="234.4" font-size="8.1" text-anchor="start" font-weight="normal" fill="#3a3a3a" textLength="38.1" lengthAdjust="spacingAndGlyphs">PBS-MDSC</text>
<text x="290.4" y="244.6" font-size="8.1" text-anchor="start" font-weight="normal" fill="#3a3a3a" textLength="37.5" lengthAdjust="spacingAndGlyphs">Dec-MDSC</text>
<text x="337" y="150.4" font-size="11.8" text-anchor="start" font-weight="bold" fill="#000">D</text>
<line x1="345.8" y1="170.4" x2="345.8" y2="318.5" stroke="#231f20" stroke-width="1.1" stroke-linecap="butt"/>
<line x1="345.8" y1="318.5" x2="520" y2="318.5" stroke="#231f20" stroke-width="1.1" stroke-linecap="butt"/>
<rect x="381.35" y="213.13" width="10.5" height="19.37" fill="#6c81b6" stroke="#274f8f" stroke-width="0.3"/>
<rect x="397.25" y="205.71" width="10.5" height="26.79" fill="#e3705f" stroke="#d3172f" stroke-width="0.3"/>
<rect x="413.55" y="197.02" width="10.5" height="35.48" fill="#90c57b" stroke="#3f9f3a" stroke-width="0.3"/>
<line x1="386.6" y1="208.25" x2="386.6" y2="218.02" stroke="#274f8f" stroke-width="0.9" stroke-linecap="butt"/>
<line x1="384.4" y1="208.25" x2="388.8" y2="208.25" stroke="#274f8f" stroke-width="0.9" stroke-linecap="butt"/>
<line x1="384.4" y1="218.02" x2="388.8" y2="218.02" stroke="#274f8f" stroke-width="0.9" stroke-linecap="butt"/>
<circle cx="386.6" cy="208.06" r="1.3" fill="#274f8f"/>
<circle cx="384.1" cy="210.78" r="1.3" fill="#274f8f"/>
<circle cx="389.1" cy="211.69" r="1.3" fill="#274f8f"/>
<circle cx="386.6" cy="216.21" r="1.3" fill="#274f8f"/>
<circle cx="384.6" cy="213.5" r="1.3" fill="#274f8f"/>
<circle cx="387.6" cy="218.02" r="1.3" fill="#274f8f"/>
<line x1="402.5" y1="199.01" x2="402.5" y2="212.41" stroke="#d3172f" stroke-width="0.9" stroke-linecap="butt"/>
<line x1="400.3" y1="199.01" x2="404.7" y2="199.01" stroke="#d3172f" stroke-width="0.9" stroke-linecap="butt"/>
<line x1="400.3" y1="212.41" x2="404.7" y2="212.41" stroke="#d3172f" stroke-width="0.9" stroke-linecap="butt"/>
<circle cx="402.5" cy="199.92" r="1.3" fill="#d3172f"/>
<circle cx="398.5" cy="200.82" r="1.3" fill="#d3172f"/>
<circle cx="406.5" cy="201.73" r="1.3" fill="#d3172f"/>
<circle cx="402.5" cy="208.97" r="1.3" fill="#d3172f"/>
<circle cx="404.5" cy="212.59" r="1.3" fill="#d3172f"/>
<line x1="418.8" y1="192.5" x2="418.8" y2="201.55" stroke="#3f9f3a" stroke-width="0.9" stroke-linecap="butt"/>
<line x1="416.6" y1="192.5" x2="421" y2="192.5" stroke="#3f9f3a" stroke-width="0.9" stroke-linecap="butt"/>
<line x1="416.6" y1="201.55" x2="421" y2="201.55" stroke="#3f9f3a" stroke-width="0.9" stroke-linecap="butt"/>
<circle cx="418.8" cy="189.06" r="1.3" fill="#3f9f3a"/>
<circle cx="414.8" cy="195.39" r="1.3" fill="#3f9f3a"/>
<circle cx="422.8" cy="196.3" r="1.3" fill="#3f9f3a"/>
<circle cx="418.8" cy="196.3" r="1.3" fill="#3f9f3a"/>
<circle cx="416.8" cy="198.11" r="1.3" fill="#3f9f3a"/>
<line x1="375.2" y1="175.7" x2="375.2" y2="232.5" stroke="#231f20" stroke-width="1.1" stroke-linecap="butt"/>
<line x1="372.7" y1="232.5" x2="375.2" y2="232.5" stroke="#231f20" stroke-width="1.1" stroke-linecap="butt"/>
<text x="371.2" y="235.42" font-size="8.6" text-anchor="end" font-weight="normal" fill="#3a3a3a" textLength="4.45" lengthAdjust="spacingAndGlyphs" stroke="#3a3a3a" stroke-width="0.22">0</text>
<line x1="372.7" y1="214.4" x2="375.2" y2="214.4" stroke="#231f20" stroke-width="1.1" stroke-linecap="butt"/>
<text x="371.2" y="217.32" font-size="8.6" text-anchor="end" font-weight="normal" fill="#3a3a3a" textLength="8.9" lengthAdjust="spacingAndGlyphs" stroke="#3a3a3a" stroke-width="0.22">10</text>
<line x1="372.7" y1="196.3" x2="375.2" y2="196.3" stroke="#231f20" stroke-width="1.1" stroke-linecap="butt"/>
<text x="371.2" y="199.22" font-size="8.6" text-anchor="end" font-weight="normal" fill="#3a3a3a" textLength="8.9" lengthAdjust="spacingAndGlyphs" stroke="#3a3a3a" stroke-width="0.22">20</text>
<line x1="372.7" y1="178.2" x2="375.2" y2="178.2" stroke="#231f20" stroke-width="1.1" stroke-linecap="butt"/>
<text x="371.2" y="181.12" font-size="8.6" text-anchor="end" font-weight="normal" fill="#3a3a3a" textLength="8.9" lengthAdjust="spacingAndGlyphs" stroke="#3a3a3a" stroke-width="0.22">30</text>
<line x1="375.2" y1="232.5" x2="428.8" y2="232.5" stroke="#231f20" stroke-width="1.1" stroke-linecap="butt"/>
<line x1="386.6" y1="232.5" x2="386.6" y2="235" stroke="#231f20" stroke-width="1.1" stroke-linecap="butt"/>
<line x1="402.5" y1="232.5" x2="402.5" y2="235" stroke="#231f20" stroke-width="1.1" stroke-linecap="butt"/>
<line x1="418.8" y1="232.5" x2="418.8" y2="235" stroke="#231f20" stroke-width="1.1" stroke-linecap="butt"/>
<line x1="384.2" y1="176.2" x2="418" y2="176.2" stroke="#231f20" stroke-width="0.9" stroke-linecap="butt"/>
<line x1="397.4" y1="170.95" x2="397.4" y2="173.65" stroke="#231f20" stroke-width="0.85" stroke-linecap="butt"/>
<line x1="398.57" y1="171.62" x2="396.23" y2="172.97" stroke="#231f20" stroke-width="0.85" stroke-linecap="butt"/>
<line x1="398.57" y1="172.97" x2="396.23" y2="171.62" stroke="#231f20" stroke-width="0.85" stroke-linecap="butt"/>
<circle cx="397.4" cy="172.3" r="0.6" fill="#231f20"/>
<line x1="401.2" y1="170.95" x2="401.2" y2="173.65" stroke="#231f20" stroke-width="0.85" stroke-linecap="butt"/>
<line x1="402.37" y1="171.62" x2="400.03" y2="172.97" stroke="#231f20" stroke-width="0.85" stroke-linecap="butt"/>
<line x1="402.37" y1="172.97" x2="400.03" y2="171.62" stroke="#231f20" stroke-width="0.85" stroke-linecap="butt"/>
<circle cx="401.2" cy="172.3" r="0.6" fill="#231f20"/>
<line x1="405" y1="170.95" x2="405" y2="173.65" stroke="#231f20" stroke-width="0.85" stroke-linecap="butt"/>
<line x1="406.17" y1="171.62" x2="403.83" y2="172.97" stroke="#231f20" stroke-width="0.85" stroke-linecap="butt"/>
<line x1="406.17" y1="172.97" x2="403.83" y2="171.62" stroke="#231f20" stroke-width="0.85" stroke-linecap="butt"/>
<circle cx="405" cy="172.3" r="0.6" fill="#231f20"/>
<line x1="402.1" y1="185.2" x2="418" y2="185.2" stroke="#231f20" stroke-width="0.9" stroke-linecap="butt"/>
<line x1="411.2" y1="179.95" x2="411.2" y2="182.65" stroke="#231f20" stroke-width="0.85" stroke-linecap="butt"/>
<line x1="412.37" y1="180.62" x2="410.03" y2="181.97" stroke="#231f20" stroke-width="0.85" stroke-linecap="butt"/>
<line x1="412.37" y1="181.97" x2="410.03" y2="180.62" stroke="#231f20" stroke-width="0.85" stroke-linecap="butt"/>
<circle cx="411.2" cy="181.3" r="0.6" fill="#231f20"/>
<text transform="translate(357,205.5) rotate(-90)" x="0" y="0" font-size="9.3" text-anchor="middle" font-weight="normal" fill="#3a3a3a" textLength="57" lengthAdjust="spacingAndGlyphs" stroke="#3a3a3a" stroke-width="0.22">Basal respiration</text>
<rect x="381.35" y="288.74" width="10.5" height="16.26" fill="#6c81b6" stroke="#274f8f" stroke-width="0.3"/>
<rect x="397.25" y="278.98" width="10.5" height="26.02" fill="#e3705f" stroke="#d3172f" stroke-width="0.3"/>
<rect x="413.55" y="268.42" width="10.5" height="36.58" fill="#90c57b" stroke="#3f9f3a" stroke-width="0.3"/>
<line x1="386.6" y1="283.86" x2="386.6" y2="293.62" stroke="#274f8f" stroke-width="0.9" stroke-linecap="butt"/>
<line x1="384.4" y1="283.86" x2="388.8" y2="283.86" stroke="#274f8f" stroke-width="0.9" stroke-linecap="butt"/>
<line x1="384.4" y1="293.62" x2="388.8" y2="293.62" stroke="#274f8f" stroke-width="0.9" stroke-linecap="butt"/>
<circle cx="386.6" cy="283.86" r="1.3" fill="#274f8f"/>
<circle cx="384.6" cy="286.03" r="1.3" fill="#274f8f"/>
<circle cx="388.6" cy="287.38" r="1.3" fill="#274f8f"/>
<circle cx="386.6" cy="291.45" r="1.3" fill="#274f8f"/>
<circle cx="385.6" cy="294.16" r="1.3" fill="#274f8f"/>
<circle cx="387.6" cy="296.87" r="1.3" fill="#274f8f"/>
<line x1="402.5" y1="272.75" x2="402.5" y2="285.22" stroke="#d3172f" stroke-width="0.9" stroke-linecap="butt"/>
<line x1="400.3" y1="272.75" x2="404.7" y2="272.75" stroke="#d3172f" stroke-width="0.9" stroke-linecap="butt"/>
<line x1="400.3" y1="285.22" x2="404.7" y2="285.22" stroke="#d3172f" stroke-width="0.9" stroke-linecap="butt"/>
<circle cx="402.5" cy="273.83" r="1.3" fill="#d3172f"/>
<circle cx="399.5" cy="276.55" r="1.3" fill="#d3172f"/>
<circle cx="405.5" cy="277.9" r="1.3" fill="#d3172f"/>
<circle cx="402.5" cy="280.61" r="1.3" fill="#d3172f"/>
<circle cx="400.5" cy="283.32" r="1.3" fill="#d3172f"/>
<circle cx="404.5" cy="283.32" r="1.3" fill="#d3172f"/>
<line x1="418.8" y1="259.74" x2="418.8" y2="277.09" stroke="#3f9f3a" stroke-width="0.9" stroke-linecap="butt"/>
<line x1="416.6" y1="259.74" x2="421" y2="259.74" stroke="#3f9f3a" stroke-width="0.9" stroke-linecap="butt"/>
<line x1="416.6" y1="277.09" x2="421" y2="277.09" stroke="#3f9f3a" stroke-width="0.9" stroke-linecap="butt"/>
<circle cx="418.8" cy="260.29" r="1.3" fill="#3f9f3a"/>
<circle cx="418.8" cy="268.42" r="1.3" fill="#3f9f3a"/>
<circle cx="418.8" cy="275.19" r="1.3" fill="#3f9f3a"/>
<line x1="375" y1="248.3" x2="375" y2="305" stroke="#231f20" stroke-width="1.1" stroke-linecap="butt"/>
<line x1="372.5" y1="305" x2="375" y2="305" stroke="#231f20" stroke-width="1.1" stroke-linecap="butt"/>
<text x="371.2" y="307.92" font-size="8.6" text-anchor="end" font-weight="normal" fill="#3a3a3a" textLength="4.45" lengthAdjust="spacingAndGlyphs" stroke="#3a3a3a" stroke-width="0.22">0</text>
<line x1="372.5" y1="291.45" x2="375" y2="291.45" stroke="#231f20" stroke-width="1.1" stroke-linecap="butt"/>
<text x="371.2" y="294.37" font-size="8.6" text-anchor="end" font-weight="normal" fill="#3a3a3a" textLength="4.45" lengthAdjust="spacingAndGlyphs" stroke="#3a3a3a" stroke-width="0.22">5</text>
<line x1="372.5" y1="277.9" x2="375" y2="277.9" stroke="#231f20" stroke-width="1.1" stroke-linecap="butt"/>
<text x="371.2" y="280.82" font-size="8.6" text-anchor="end" font-weight="normal" fill="#3a3a3a" textLength="8.9" lengthAdjust="spacingAndGlyphs" stroke="#3a3a3a" stroke-width="0.22">10</text>
<line x1="372.5" y1="264.35" x2="375" y2="264.35" stroke="#231f20" stroke-width="1.1" stroke-linecap="butt"/>
<text x="371.2" y="267.27" font-size="8.6" text-anchor="end" font-weight="normal" fill="#3a3a3a" textLength="8.9" lengthAdjust="spacingAndGlyphs" stroke="#3a3a3a" stroke-width="0.22">15</text>
<line x1="372.5" y1="250.8" x2="375" y2="250.8" stroke="#231f20" stroke-width="1.1" stroke-linecap="butt"/>
<text x="371.2" y="253.72" font-size="8.6" text-anchor="end" font-weight="normal" fill="#3a3a3a" textLength="8.9" lengthAdjust="spacingAndGlyphs" stroke="#3a3a3a" stroke-width="0.22">20</text>
<line x1="375" y1="305" x2="429.4" y2="305" stroke="#231f20" stroke-width="1.1" stroke-linecap="butt"/>
<line x1="386.6" y1="305" x2="386.6" y2="307.5" stroke="#231f20" stroke-width="1.1" stroke-linecap="butt"/>
<line x1="402.5" y1="305" x2="402.5" y2="307.5" stroke="#231f20" stroke-width="1.1" stroke-linecap="butt"/>
<line x1="418.8" y1="305" x2="418.8" y2="307.5" stroke="#231f20" stroke-width="1.1" stroke-linecap="butt"/>
<line x1="385.8" y1="247.7" x2="419.4" y2="247.7" stroke="#231f20" stroke-width="0.9" stroke-linecap="butt"/>
<line x1="398.8" y1="242.45" x2="398.8" y2="245.15" stroke="#231f20" stroke-width="0.85" stroke-linecap="butt"/>
<line x1="399.97" y1="243.12" x2="397.63" y2="244.47" stroke="#231f20" stroke-width="0.85" stroke-linecap="butt"/>
<line x1="399.97" y1="244.47" x2="397.63" y2="243.12" stroke="#231f20" stroke-width="0.85" stroke-linecap="butt"/>
<circle cx="398.8" cy="243.8" r="0.6" fill="#231f20"/>
<line x1="402.6" y1="242.45" x2="402.6" y2="245.15" stroke="#231f20" stroke-width="0.85" stroke-linecap="butt"/>
<line x1="403.77" y1="243.12" x2="401.43" y2="244.47" stroke="#231f20" stroke-width="0.85" stroke-linecap="butt"/>
<line x1="403.77" y1="244.47" x2="401.43" y2="243.12" stroke="#231f20" stroke-width="0.85" stroke-linecap="butt"/>
<circle cx="402.6" cy="243.8" r="0.6" fill="#231f20"/>
<line x1="406.4" y1="242.45" x2="406.4" y2="245.15" stroke="#231f20" stroke-width="0.85" stroke-linecap="butt"/>
<line x1="407.57" y1="243.12" x2="405.23" y2="244.47" stroke="#231f20" stroke-width="0.85" stroke-linecap="butt"/>
<line x1="407.57" y1="244.47" x2="405.23" y2="243.12" stroke="#231f20" stroke-width="0.85" stroke-linecap="butt"/>
<circle cx="406.4" cy="243.8" r="0.6" fill="#231f20"/>
<line x1="401.9" y1="256.3" x2="419.4" y2="256.3" stroke="#231f20" stroke-width="0.9" stroke-linecap="butt"/>
<line x1="411.2" y1="251.05" x2="411.2" y2="253.75" stroke="#231f20" stroke-width="0.85" stroke-linecap="butt"/>
<line x1="412.37" y1="251.72" x2="410.03" y2="253.08" stroke="#231f20" stroke-width="0.85" stroke-linecap="butt"/>
<line x1="412.37" y1="253.08" x2="410.03" y2="251.72" stroke="#231f20" stroke-width="0.85" stroke-linecap="butt"/>
<circle cx="411.2" cy="252.4" r="0.6" fill="#231f20"/>
<text transform="translate(357,278) rotate(-90)" x="0" y="0" font-size="9.3" text-anchor="middle" font-weight="normal" fill="#3a3a3a" textLength="52" lengthAdjust="spacingAndGlyphs" stroke="#3a3a3a" stroke-width="0.22">ATP production</text>
<rect x="471.7" y="282.73" width="10.2" height="22.57" fill="#6c81b6" stroke="#274f8f" stroke-width="0.3"/>
<rect x="487.6" y="278" width="10.2" height="27.3" fill="#e3705f" stroke="#d3172f" stroke-width="0.3"/>
<rect x="504.1" y="267.08" width="10.2" height="38.22" fill="#90c57b" stroke="#3f9f3a" stroke-width="0.3"/>
<line x1="476.8" y1="275.82" x2="476.8" y2="289.65" stroke="#274f8f" stroke-width="0.9" stroke-linecap="butt"/>
<line x1="474.6" y1="275.82" x2="479" y2="275.82" stroke="#274f8f" stroke-width="0.9" stroke-linecap="butt"/>
<line x1="474.6" y1="289.65" x2="479" y2="289.65" stroke="#274f8f" stroke-width="0.9" stroke-linecap="butt"/>
<circle cx="476.8" cy="273.45" r="1.3" fill="#274f8f"/>
<circle cx="474.8" cy="279.82" r="1.3" fill="#274f8f"/>
<circle cx="478.8" cy="281.64" r="1.3" fill="#274f8f"/>
<circle cx="476.8" cy="287.1" r="1.3" fill="#274f8f"/>
<circle cx="475.8" cy="290.74" r="1.3" fill="#274f8f"/>
<line x1="492.7" y1="274.54" x2="492.7" y2="281.46" stroke="#d3172f" stroke-width="0.9" stroke-linecap="butt"/>
<line x1="490.5" y1="274.54" x2="494.9" y2="274.54" stroke="#d3172f" stroke-width="0.9" stroke-linecap="butt"/>
<line x1="490.5" y1="281.46" x2="494.9" y2="281.46" stroke="#d3172f" stroke-width="0.9" stroke-linecap="butt"/>
<circle cx="492.7" cy="274.36" r="1.3" fill="#d3172f"/>
<circle cx="489.7" cy="275.27" r="1.3" fill="#d3172f"/>
<circle cx="495.7" cy="276.18" r="1.3" fill="#d3172f"/>
<circle cx="492.7" cy="278" r="1.3" fill="#d3172f"/>
<circle cx="490.7" cy="279.82" r="1.3" fill="#d3172f"/>
<circle cx="494.7" cy="279.82" r="1.3" fill="#d3172f"/>
<line x1="509.2" y1="259.25" x2="509.2" y2="275.82" stroke="#3f9f3a" stroke-width="0.9" stroke-linecap="butt"/>
<line x1="507" y1="259.25" x2="511.4" y2="259.25" stroke="#3f9f3a" stroke-width="0.9" stroke-linecap="butt"/>
<line x1="507" y1="275.82" x2="511.4" y2="275.82" stroke="#3f9f3a" stroke-width="0.9" stroke-linecap="butt"/>
<circle cx="509.2" cy="256.16" r="1.3" fill="#3f9f3a"/>
<circle cx="509.2" cy="262.53" r="1.3" fill="#3f9f3a"/>
<circle cx="507.2" cy="268.9" r="1.3" fill="#3f9f3a"/>
<circle cx="511.2" cy="270.72" r="1.3" fill="#3f9f3a"/>
<circle cx="509.2" cy="274.36" r="1.3" fill="#3f9f3a"/>
<line x1="465.8" y1="248.2" x2="465.8" y2="305.3" stroke="#231f20" stroke-width="1.1" stroke-linecap="butt"/>
<line x1="463.3" y1="305.3" x2="465.8" y2="305.3" stroke="#231f20" stroke-width="1.1" stroke-linecap="butt"/>
<text x="462" y="308.22" font-size="8.6" text-anchor="end" font-weight="normal" fill="#3a3a3a" textLength="4.6" lengthAdjust="spacingAndGlyphs" stroke="#3a3a3a" stroke-width="0.22">0</text>
<line x1="463.3" y1="287.1" x2="465.8" y2="287.1" stroke="#231f20" stroke-width="1.1" stroke-linecap="butt"/>
<text x="462" y="290.02" font-size="8.6" text-anchor="end" font-weight="normal" fill="#3a3a3a" textLength="9.2" lengthAdjust="spacingAndGlyphs" stroke="#3a3a3a" stroke-width="0.22">10</text>
<line x1="463.3" y1="268.9" x2="465.8" y2="268.9" stroke="#231f20" stroke-width="1.1" stroke-linecap="butt"/>
<text x="462" y="271.82" font-size="8.6" text-anchor="end" font-weight="normal" fill="#3a3a3a" textLength="9.2" lengthAdjust="spacingAndGlyphs" stroke="#3a3a3a" stroke-width="0.22">20</text>
<line x1="463.3" y1="250.7" x2="465.8" y2="250.7" stroke="#231f20" stroke-width="1.1" stroke-linecap="butt"/>
<text x="462" y="253.62" font-size="8.6" text-anchor="end" font-weight="normal" fill="#3a3a3a" textLength="9.2" lengthAdjust="spacingAndGlyphs" stroke="#3a3a3a" stroke-width="0.22">30</text>
<line x1="465.8" y1="305.3" x2="520" y2="305.3" stroke="#231f20" stroke-width="1.1" stroke-linecap="butt"/>
<line x1="476.8" y1="305.3" x2="476.8" y2="307.8" stroke="#231f20" stroke-width="1.1" stroke-linecap="butt"/>
<line x1="492.7" y1="305.3" x2="492.7" y2="307.8" stroke="#231f20" stroke-width="1.1" stroke-linecap="butt"/>
<line x1="509.2" y1="305.3" x2="509.2" y2="307.8" stroke="#231f20" stroke-width="1.1" stroke-linecap="butt"/>
<line x1="475.3" y1="243.6" x2="508.7" y2="243.6" stroke="#231f20" stroke-width="0.9" stroke-linecap="butt"/>
<line x1="490.1" y1="238.35" x2="490.1" y2="241.05" stroke="#231f20" stroke-width="0.85" stroke-linecap="butt"/>
<line x1="491.27" y1="239.02" x2="488.93" y2="240.38" stroke="#231f20" stroke-width="0.85" stroke-linecap="butt"/>
<line x1="491.27" y1="240.38" x2="488.93" y2="239.02" stroke="#231f20" stroke-width="0.85" stroke-linecap="butt"/>
<circle cx="490.1" cy="239.7" r="0.6" fill="#231f20"/>
<line x1="493.9" y1="238.35" x2="493.9" y2="241.05" stroke="#231f20" stroke-width="0.85" stroke-linecap="butt"/>
<line x1="495.07" y1="239.02" x2="492.73" y2="240.38" stroke="#231f20" stroke-width="0.85" stroke-linecap="butt"/>
<line x1="495.07" y1="240.38" x2="492.73" y2="239.02" stroke="#231f20" stroke-width="0.85" stroke-linecap="butt"/>
<circle cx="493.9" cy="239.7" r="0.6" fill="#231f20"/>
<line x1="491.4" y1="252.2" x2="508.7" y2="252.2" stroke="#231f20" stroke-width="0.9" stroke-linecap="butt"/>
<line x1="500.1" y1="246.95" x2="500.1" y2="249.65" stroke="#231f20" stroke-width="0.85" stroke-linecap="butt"/>
<line x1="501.27" y1="247.62" x2="498.93" y2="248.97" stroke="#231f20" stroke-width="0.85" stroke-linecap="butt"/>
<line x1="501.27" y1="248.97" x2="498.93" y2="247.62" stroke="#231f20" stroke-width="0.85" stroke-linecap="butt"/>
<circle cx="500.1" cy="248.3" r="0.6" fill="#231f20"/>
<text transform="translate(448,277.6) rotate(-90)" x="0" y="0" font-size="9.3" text-anchor="middle" font-weight="normal" fill="#3a3a3a" textLength="69" lengthAdjust="spacingAndGlyphs" stroke="#3a3a3a" stroke-width="0.22">Maximal respiration</text>
<circle cx="456" cy="188.2" r="1.6" fill="#274f8f"/>
<rect x="454.5" y="198" width="3" height="3" fill="#d3172f" stroke="none" stroke-width="0"/>
<polygon points="456,208.6 457.6,211.4 454.4,211.4" fill="#3f9f3a"/>
<text x="461.2" y="191.1" font-size="8.1" text-anchor="start" font-weight="normal" fill="#3a3a3a" textLength="25.5" lengthAdjust="spacingAndGlyphs">Control</text>
<text x="461.2" y="202.3" font-size="8.1" text-anchor="start" font-weight="normal" fill="#3a3a3a" textLength="37.7" lengthAdjust="spacingAndGlyphs">PBS-MDSC</text>
<text x="461.2" y="213.1" font-size="8.1" text-anchor="start" font-weight="normal" fill="#3a3a3a" textLength="37.3" lengthAdjust="spacingAndGlyphs">Dec-MDSC</text>
<text x="3.4" y="345.2" font-size="11.8" text-anchor="start" font-weight="bold" fill="#000">E</text>
<rect x="48.1" y="391.83" width="13.8" height="38.37" fill="#6c81b6" stroke="#274f8f" stroke-width="0.3"/>
<rect x="70.4" y="391.42" width="13.8" height="38.78" fill="#e3705f" stroke="#d3172f" stroke-width="0.3"/>
<rect x="92.7" y="381.93" width="13.8" height="48.27" fill="#90c57b" stroke="#3f9f3a" stroke-width="0.3"/>
<line x1="55" y1="389.35" x2="55" y2="394.3" stroke="#274f8f" stroke-width="0.9" stroke-linecap="butt"/>
<line x1="51.8" y1="389.35" x2="58.2" y2="389.35" stroke="#274f8f" stroke-width="0.9" stroke-linecap="butt"/>
<line x1="51.8" y1="394.3" x2="58.2" y2="394.3" stroke="#274f8f" stroke-width="0.9" stroke-linecap="butt"/>
<circle cx="55" cy="388.11" r="1.3" fill="#274f8f"/>
<circle cx="50.5" cy="389.77" r="1.3" fill="#274f8f"/>
<circle cx="59.5" cy="390.18" r="1.3" fill="#274f8f"/>
<circle cx="50.5" cy="391.83" r="1.3" fill="#274f8f"/>
<circle cx="59.5" cy="392.24" r="1.3" fill="#274f8f"/>
<circle cx="55" cy="391.83" r="1.3" fill="#274f8f"/>
<circle cx="53" cy="393.07" r="1.3" fill="#274f8f"/>
<circle cx="57" cy="392.65" r="1.3" fill="#274f8f"/>
<line x1="77.3" y1="385.23" x2="77.3" y2="394.3" stroke="#d3172f" stroke-width="0.9" stroke-linecap="butt"/>
<line x1="74.1" y1="385.23" x2="80.5" y2="385.23" stroke="#d3172f" stroke-width="0.9" stroke-linecap="butt"/>
<line x1="74.1" y1="394.3" x2="80.5" y2="394.3" stroke="#d3172f" stroke-width="0.9" stroke-linecap="butt"/>
<circle cx="77.3" cy="382.34" r="1.3" fill="#d3172f"/>
<circle cx="73.3" cy="391" r="1.3" fill="#d3172f"/>
<circle cx="81.3" cy="391.83" r="1.3" fill="#d3172f"/>
<circle cx="77.3" cy="392.65" r="1.3" fill="#d3172f"/>
<circle cx="75.3" cy="393.48" r="1.3" fill="#d3172f"/>
<circle cx="79.3" cy="393.07" r="1.3" fill="#d3172f"/>
<line x1="99.6" y1="374.09" x2="99.6" y2="389.77" stroke="#3f9f3a" stroke-width="0.9" stroke-linecap="butt"/>
<line x1="96.4" y1="374.09" x2="102.8" y2="374.09" stroke="#3f9f3a" stroke-width="0.9" stroke-linecap="butt"/>
<line x1="96.4" y1="389.77" x2="102.8" y2="389.77" stroke="#3f9f3a" stroke-width="0.9" stroke-linecap="butt"/>
<circle cx="99.6" cy="374.09" r="1.3" fill="#3f9f3a"/>
<circle cx="99.6" cy="380.69" r="1.3" fill="#3f9f3a"/>
<circle cx="99.6" cy="388.94" r="1.3" fill="#3f9f3a"/>
<line x1="40.3" y1="365.81" x2="40.3" y2="430.2" stroke="#231f20" stroke-width="1.1" stroke-linecap="butt"/>
<line x1="37.8" y1="430.2" x2="40.3" y2="430.2" stroke="#231f20" stroke-width="1.1" stroke-linecap="butt"/>
<text x="34.4" y="432.72" font-size="7.4" text-anchor="end" font-weight="normal" fill="#3a3a3a" textLength="4.06" lengthAdjust="spacingAndGlyphs" stroke="#3a3a3a" stroke-width="0.22">0</text>
<line x1="37.8" y1="409.57" x2="40.3" y2="409.57" stroke="#231f20" stroke-width="1.1" stroke-linecap="butt"/>
<text x="34.4" y="412.09" font-size="7.4" text-anchor="end" font-weight="normal" fill="#3a3a3a" textLength="16.24" lengthAdjust="spacingAndGlyphs" stroke="#3a3a3a" stroke-width="0.22">5000</text>
<line x1="37.8" y1="388.94" x2="40.3" y2="388.94" stroke="#231f20" stroke-width="1.1" stroke-linecap="butt"/>
<text x="34.4" y="391.46" font-size="7.4" text-anchor="end" font-weight="normal" fill="#3a3a3a" textLength="20.3" lengthAdjust="spacingAndGlyphs" stroke="#3a3a3a" stroke-width="0.22">10000</text>
<line x1="37.8" y1="368.31" x2="40.3" y2="368.31" stroke="#231f20" stroke-width="1.1" stroke-linecap="butt"/>
<text x="34.4" y="370.83" font-size="7.4" text-anchor="end" font-weight="normal" fill="#3a3a3a" textLength="20.3" lengthAdjust="spacingAndGlyphs" stroke="#3a3a3a" stroke-width="0.22">15000</text>
<line x1="40.3" y1="430.2" x2="114" y2="430.2" stroke="#231f20" stroke-width="1.1" stroke-linecap="butt"/>
<line x1="55" y1="430.2" x2="55" y2="432.7" stroke="#231f20" stroke-width="1.1" stroke-linecap="butt"/>
<line x1="77.3" y1="430.2" x2="77.3" y2="432.7" stroke="#231f20" stroke-width="1.1" stroke-linecap="butt"/>
<line x1="99.6" y1="430.2" x2="99.6" y2="432.7" stroke="#231f20" stroke-width="1.1" stroke-linecap="butt"/>
<line x1="53.2" y1="358.2" x2="100.4" y2="358.2" stroke="#231f20" stroke-width="0.9" stroke-linecap="butt"/>
<line x1="74.6" y1="352.95" x2="74.6" y2="355.65" stroke="#231f20" stroke-width="0.85" stroke-linecap="butt"/>
<line x1="75.77" y1="353.62" x2="73.43" y2="354.98" stroke="#231f20" stroke-width="0.85" stroke-linecap="butt"/>
<line x1="75.77" y1="354.98" x2="73.43" y2="353.62" stroke="#231f20" stroke-width="0.85" stroke-linecap="butt"/>
<circle cx="74.6" cy="354.3" r="0.6" fill="#231f20"/>
<line x1="78.4" y1="352.95" x2="78.4" y2="355.65" stroke="#231f20" stroke-width="0.85" stroke-linecap="butt"/>
<line x1="79.57" y1="353.62" x2="77.23" y2="354.98" stroke="#231f20" stroke-width="0.85" stroke-linecap="butt"/>
<line x1="79.57" y1="354.98" x2="77.23" y2="353.62" stroke="#231f20" stroke-width="0.85" stroke-linecap="butt"/>
<circle cx="78.4" cy="354.3" r="0.6" fill="#231f20"/>
<line x1="75.5" y1="366.8" x2="100.4" y2="366.8" stroke="#231f20" stroke-width="0.9" stroke-linecap="butt"/>
<line x1="88.2" y1="361.55" x2="88.2" y2="364.25" stroke="#231f20" stroke-width="0.85" stroke-linecap="butt"/>
<line x1="89.37" y1="362.23" x2="87.03" y2="363.58" stroke="#231f20" stroke-width="0.85" stroke-linecap="butt"/>
<line x1="89.37" y1="363.58" x2="87.03" y2="362.23" stroke="#231f20" stroke-width="0.85" stroke-linecap="butt"/>
<circle cx="88.2" cy="362.9" r="0.6" fill="#231f20"/>
<text transform="translate(8.3,399) rotate(-90)" x="0" y="0" font-size="9.3" text-anchor="middle" font-weight="normal" fill="#3a3a3a" textLength="64.6" lengthAdjust="spacingAndGlyphs" stroke="#3a3a3a" stroke-width="0.22">Luminescence (RLU)</text>
<text transform="translate(59.6,439.1) rotate(-45)" x="0" y="0" font-size="8.6" text-anchor="end" font-weight="normal" fill="#3a3a3a" textLength="12.6" lengthAdjust="spacingAndGlyphs" stroke="#3a3a3a" stroke-width="0.22">Ctrl</text>
<text transform="translate(81.9,439.1) rotate(-45)" x="0" y="0" font-size="8.6" text-anchor="end" font-weight="normal" fill="#3a3a3a" textLength="38" lengthAdjust="spacingAndGlyphs" stroke="#3a3a3a" stroke-width="0.22">PBS-MDSC</text>
<text transform="translate(104.2,439.1) rotate(-45)" x="0" y="0" font-size="8.6" text-anchor="end" font-weight="normal" fill="#3a3a3a" textLength="38.5" lengthAdjust="spacingAndGlyphs" stroke="#3a3a3a" stroke-width="0.22">Dec-MDSC</text>
<text x="127.4" y="344.7" font-size="11.8" text-anchor="start" font-weight="bold" fill="#000">F</text>
<circle cx="185.2" cy="404.4" r="1.4" fill="#1f4b7e"/>
<circle cx="179.2" cy="412.1" r="1.4" fill="#1f4b7e"/>
<circle cx="191.2" cy="412.5" r="1.4" fill="#1f4b7e"/>
<circle cx="185.2" cy="414" r="1.4" fill="#1f4b7e"/>
<circle cx="185.2" cy="417.3" r="1.4" fill="#1f4b7e"/>
<line x1="185.2" y1="407.8" x2="185.2" y2="417.3" stroke="#1f4b7e" stroke-width="0.9" stroke-linecap="butt"/>
<line x1="182" y1="407.8" x2="188.4" y2="407.8" stroke="#1f4b7e" stroke-width="0.9" stroke-linecap="butt"/>
<line x1="182" y1="417.3" x2="188.4" y2="417.3" stroke="#1f4b7e" stroke-width="0.9" stroke-linecap="butt"/>
<line x1="179.4" y1="412.4" x2="191" y2="412.4" stroke="#1f4b7e" stroke-width="0.9" stroke-linecap="butt"/>
<circle cx="207.5" cy="399.8" r="1.4" fill="#c8173a"/>
<circle cx="204.5" cy="405.9" r="1.4" fill="#c8173a"/>
<circle cx="210.5" cy="405.9" r="1.4" fill="#c8173a"/>
<circle cx="207.5" cy="408.5" r="1.4" fill="#c8173a"/>
<circle cx="207.5" cy="413" r="1.4" fill="#c8173a"/>
<line x1="207.5" y1="402.4" x2="207.5" y2="411.4" stroke="#c8173a" stroke-width="0.9" stroke-linecap="butt"/>
<line x1="204.3" y1="402.4" x2="210.7" y2="402.4" stroke="#c8173a" stroke-width="0.9" stroke-linecap="butt"/>
<line x1="204.3" y1="411.4" x2="210.7" y2="411.4" stroke="#c8173a" stroke-width="0.9" stroke-linecap="butt"/>
<line x1="201.7" y1="406.9" x2="213.3" y2="406.9" stroke="#c8173a" stroke-width="0.9" stroke-linecap="butt"/>
<circle cx="229.4" cy="386.2" r="1.4" fill="#4ab448"/>
<circle cx="226.9" cy="400.4" r="1.4" fill="#4ab448"/>
<circle cx="231.9" cy="400.4" r="1.4" fill="#4ab448"/>
<circle cx="229.4" cy="405.3" r="1.4" fill="#4ab448"/>
<line x1="229.4" y1="387.6" x2="229.4" y2="405.3" stroke="#4ab448" stroke-width="0.9" stroke-linecap="butt"/>
<line x1="226.2" y1="387.6" x2="232.6" y2="387.6" stroke="#4ab448" stroke-width="0.9" stroke-linecap="butt"/>
<line x1="226.2" y1="405.3" x2="232.6" y2="405.3" stroke="#4ab448" stroke-width="0.9" stroke-linecap="butt"/>
<line x1="223.6" y1="396.2" x2="235.2" y2="396.2" stroke="#4ab448" stroke-width="0.9" stroke-linecap="butt"/>
<line x1="170.2" y1="365.6" x2="170.2" y2="430.1" stroke="#231f20" stroke-width="1.05" stroke-linecap="butt"/>
<line x1="167.7" y1="430.1" x2="170.2" y2="430.1" stroke="#231f20" stroke-width="1.05" stroke-linecap="butt"/>
<text x="165.6" y="432.82" font-size="8" text-anchor="end" font-weight="normal" fill="#3a3a3a" stroke="#3a3a3a" stroke-width="0.22">0.0000</text>
<line x1="167.7" y1="414.6" x2="170.2" y2="414.6" stroke="#231f20" stroke-width="1.05" stroke-linecap="butt"/>
<text x="165.6" y="417.32" font-size="8" text-anchor="end" font-weight="normal" fill="#3a3a3a" stroke="#3a3a3a" stroke-width="0.22">0.0005</text>
<line x1="167.7" y1="399.1" x2="170.2" y2="399.1" stroke="#231f20" stroke-width="1.05" stroke-linecap="butt"/>
<text x="165.6" y="401.82" font-size="8" text-anchor="end" font-weight="normal" fill="#3a3a3a" stroke="#3a3a3a" stroke-width="0.22">0.0010</text>
<line x1="167.7" y1="383.6" x2="170.2" y2="383.6" stroke="#231f20" stroke-width="1.05" stroke-linecap="butt"/>
<text x="165.6" y="386.32" font-size="8" text-anchor="end" font-weight="normal" fill="#3a3a3a" stroke="#3a3a3a" stroke-width="0.22">0.0015</text>
<line x1="167.7" y1="368.1" x2="170.2" y2="368.1" stroke="#231f20" stroke-width="1.05" stroke-linecap="butt"/>
<text x="165.6" y="370.82" font-size="8" text-anchor="end" font-weight="normal" fill="#3a3a3a" stroke="#3a3a3a" stroke-width="0.22">0.0020</text>
<line x1="170.2" y1="430.1" x2="244" y2="430.1" stroke="#231f20" stroke-width="1.05" stroke-linecap="butt"/>
<line x1="185.2" y1="430.1" x2="185.2" y2="432.6" stroke="#231f20" stroke-width="1.05" stroke-linecap="butt"/>
<line x1="207.5" y1="430.1" x2="207.5" y2="432.6" stroke="#231f20" stroke-width="1.05" stroke-linecap="butt"/>
<line x1="229.4" y1="430.1" x2="229.4" y2="432.6" stroke="#231f20" stroke-width="1.05" stroke-linecap="butt"/>
<line x1="183.2" y1="358.9" x2="230.4" y2="358.9" stroke="#231f20" stroke-width="0.9" stroke-linecap="butt"/>
<line x1="205" y1="353.65" x2="205" y2="356.35" stroke="#231f20" stroke-width="0.85" stroke-linecap="butt"/>
<line x1="206.17" y1="354.32" x2="203.83" y2="355.68" stroke="#231f20" stroke-width="0.85" stroke-linecap="butt"/>
<line x1="206.17" y1="355.68" x2="203.83" y2="354.32" stroke="#231f20" stroke-width="0.85" stroke-linecap="butt"/>
<circle cx="205" cy="355" r="0.6" fill="#231f20"/>
<line x1="208.8" y1="353.65" x2="208.8" y2="356.35" stroke="#231f20" stroke-width="0.85" stroke-linecap="butt"/>
<line x1="209.97" y1="354.32" x2="207.63" y2="355.68" stroke="#231f20" stroke-width="0.85" stroke-linecap="butt"/>
<line x1="209.97" y1="355.68" x2="207.63" y2="354.32" stroke="#231f20" stroke-width="0.85" stroke-linecap="butt"/>
<circle cx="208.8" cy="355" r="0.6" fill="#231f20"/>
<line x1="205.5" y1="368" x2="230.4" y2="368" stroke="#231f20" stroke-width="0.9" stroke-linecap="butt"/>
<line x1="218.2" y1="362.75" x2="218.2" y2="365.45" stroke="#231f20" stroke-width="0.85" stroke-linecap="butt"/>
<line x1="219.37" y1="363.43" x2="217.03" y2="364.78" stroke="#231f20" stroke-width="0.85" stroke-linecap="butt"/>
<line x1="219.37" y1="364.78" x2="217.03" y2="363.43" stroke="#231f20" stroke-width="0.85" stroke-linecap="butt"/>
<circle cx="218.2" cy="364.1" r="0.6" fill="#231f20"/>
<text transform="translate(133.7,399.3) rotate(-90)" x="0" y="0" font-size="9.3" text-anchor="middle" font-weight="normal" fill="#3a3a3a" textLength="89.5" lengthAdjust="spacingAndGlyphs" stroke="#3a3a3a" stroke-width="0.22">Relative quantity of ACADM</text>
<text transform="translate(189.8,439) rotate(-45)" x="0" y="0" font-size="8.6" text-anchor="end" font-weight="normal" fill="#3a3a3a" textLength="12.6" lengthAdjust="spacingAndGlyphs" stroke="#3a3a3a" stroke-width="0.22">Ctrl</text>
<text transform="translate(212.1,439) rotate(-45)" x="0" y="0" font-size="8.6" text-anchor="end" font-weight="normal" fill="#3a3a3a" textLength="38" lengthAdjust="spacingAndGlyphs" stroke="#3a3a3a" stroke-width="0.22">PBS-MDSC</text>
<text transform="translate(234,439) rotate(-45)" x="0" y="0" font-size="8.6" text-anchor="end" font-weight="normal" fill="#3a3a3a" textLength="38.5" lengthAdjust="spacingAndGlyphs" stroke="#3a3a3a" stroke-width="0.22">Dec-MDSC</text>
<text x="255.7" y="345.1" font-size="11.8" text-anchor="start" font-weight="bold" fill="#000">G</text>
<circle cx="310.7" cy="397" r="1.4" fill="#1f4b7e"/>
<circle cx="307.7" cy="402" r="1.4" fill="#1f4b7e"/>
<circle cx="313.7" cy="403" r="1.4" fill="#1f4b7e"/>
<circle cx="310.7" cy="405" r="1.4" fill="#1f4b7e"/>
<circle cx="308.7" cy="408" r="1.4" fill="#1f4b7e"/>
<circle cx="310.7" cy="411.6" r="1.4" fill="#1f4b7e"/>
<line x1="310.7" y1="400.9" x2="310.7" y2="411.6" stroke="#1f4b7e" stroke-width="0.9" stroke-linecap="butt"/>
<line x1="307.5" y1="400.9" x2="313.9" y2="400.9" stroke="#1f4b7e" stroke-width="0.9" stroke-linecap="butt"/>
<line x1="307.5" y1="411.6" x2="313.9" y2="411.6" stroke="#1f4b7e" stroke-width="0.9" stroke-linecap="butt"/>
<line x1="304.9" y1="406.2" x2="316.5" y2="406.2" stroke="#1f4b7e" stroke-width="0.9" stroke-linecap="butt"/>
<circle cx="329.9" cy="397.4" r="1.4" fill="#c8173a"/>
<circle cx="335.9" cy="399.2" r="1.4" fill="#c8173a"/>
<circle cx="332.9" cy="405.3" r="1.4" fill="#c8173a"/>
<circle cx="332.9" cy="410" r="1.4" fill="#c8173a"/>
<line x1="332.9" y1="398.8" x2="332.9" y2="408.9" stroke="#c8173a" stroke-width="0.9" stroke-linecap="butt"/>
<line x1="329.7" y1="398.8" x2="336.1" y2="398.8" stroke="#c8173a" stroke-width="0.9" stroke-linecap="butt"/>
<line x1="329.7" y1="408.9" x2="336.1" y2="408.9" stroke="#c8173a" stroke-width="0.9" stroke-linecap="butt"/>
<line x1="327.1" y1="403.2" x2="338.7" y2="403.2" stroke="#c8173a" stroke-width="0.9" stroke-linecap="butt"/>
<circle cx="354.8" cy="380.5" r="1.4" fill="#4ab448"/>
<circle cx="354.8" cy="388.7" r="1.4" fill="#4ab448"/>
<circle cx="354.8" cy="398.8" r="1.4" fill="#4ab448"/>
<circle cx="354.8" cy="404.9" r="1.4" fill="#4ab448"/>
<line x1="354.8" y1="381.6" x2="354.8" y2="400.2" stroke="#4ab448" stroke-width="0.9" stroke-linecap="butt"/>
<line x1="351.6" y1="381.6" x2="358" y2="381.6" stroke="#4ab448" stroke-width="0.9" stroke-linecap="butt"/>
<line x1="351.6" y1="400.2" x2="358" y2="400.2" stroke="#4ab448" stroke-width="0.9" stroke-linecap="butt"/>
<line x1="349" y1="391.1" x2="360.6" y2="391.1" stroke="#4ab448" stroke-width="0.9" stroke-linecap="butt"/>
<line x1="296.2" y1="365.7" x2="296.2" y2="430.1" stroke="#231f20" stroke-width="1.05" stroke-linecap="butt"/>
<line x1="293.7" y1="430.1" x2="296.2" y2="430.1" stroke="#231f20" stroke-width="1.05" stroke-linecap="butt"/>
<text x="291.6" y="432.82" font-size="8" text-anchor="end" font-weight="normal" fill="#3a3a3a" stroke="#3a3a3a" stroke-width="0.22">0.000</text>
<line x1="293.7" y1="417.72" x2="296.2" y2="417.72" stroke="#231f20" stroke-width="1.05" stroke-linecap="butt"/>
<text x="291.6" y="420.44" font-size="8" text-anchor="end" font-weight="normal" fill="#3a3a3a" stroke="#3a3a3a" stroke-width="0.22">0.002</text>
<line x1="293.7" y1="405.34" x2="296.2" y2="405.34" stroke="#231f20" stroke-width="1.05" stroke-linecap="butt"/>
<text x="291.6" y="408.06" font-size="8" text-anchor="end" font-weight="normal" fill="#3a3a3a" stroke="#3a3a3a" stroke-width="0.22">0.004</text>
<line x1="293.7" y1="392.96" x2="296.2" y2="392.96" stroke="#231f20" stroke-width="1.05" stroke-linecap="butt"/>
<text x="291.6" y="395.68" font-size="8" text-anchor="end" font-weight="normal" fill="#3a3a3a" stroke="#3a3a3a" stroke-width="0.22">0.006</text>
<line x1="293.7" y1="380.58" x2="296.2" y2="380.58" stroke="#231f20" stroke-width="1.05" stroke-linecap="butt"/>
<text x="291.6" y="383.3" font-size="8" text-anchor="end" font-weight="normal" fill="#3a3a3a" stroke="#3a3a3a" stroke-width="0.22">0.008</text>
<line x1="293.7" y1="368.2" x2="296.2" y2="368.2" stroke="#231f20" stroke-width="1.05" stroke-linecap="butt"/>
<text x="291.6" y="370.92" font-size="8" text-anchor="end" font-weight="normal" fill="#3a3a3a" stroke="#3a3a3a" stroke-width="0.22">0.010</text>
<line x1="296.2" y1="430.1" x2="369.6" y2="430.1" stroke="#231f20" stroke-width="1.05" stroke-linecap="butt"/>
<line x1="310.7" y1="430.1" x2="310.7" y2="432.6" stroke="#231f20" stroke-width="1.05" stroke-linecap="butt"/>
<line x1="332.9" y1="430.1" x2="332.9" y2="432.6" stroke="#231f20" stroke-width="1.05" stroke-linecap="butt"/>
<line x1="354.8" y1="430.1" x2="354.8" y2="432.6" stroke="#231f20" stroke-width="1.05" stroke-linecap="butt"/>
<line x1="310.2" y1="358.2" x2="356.8" y2="358.2" stroke="#231f20" stroke-width="0.9" stroke-linecap="butt"/>
<line x1="331.6" y1="352.95" x2="331.6" y2="355.65" stroke="#231f20" stroke-width="0.85" stroke-linecap="butt"/>
<line x1="332.77" y1="353.62" x2="330.43" y2="354.98" stroke="#231f20" stroke-width="0.85" stroke-linecap="butt"/>
<line x1="332.77" y1="354.98" x2="330.43" y2="353.62" stroke="#231f20" stroke-width="0.85" stroke-linecap="butt"/>
<circle cx="331.6" cy="354.3" r="0.6" fill="#231f20"/>
<line x1="335.4" y1="352.95" x2="335.4" y2="355.65" stroke="#231f20" stroke-width="0.85" stroke-linecap="butt"/>
<line x1="336.57" y1="353.62" x2="334.23" y2="354.98" stroke="#231f20" stroke-width="0.85" stroke-linecap="butt"/>
<line x1="336.57" y1="354.98" x2="334.23" y2="353.62" stroke="#231f20" stroke-width="0.85" stroke-linecap="butt"/>
<circle cx="335.4" cy="354.3" r="0.6" fill="#231f20"/>
<line x1="332.5" y1="367" x2="356.8" y2="367" stroke="#231f20" stroke-width="0.9" stroke-linecap="butt"/>
<line x1="344.6" y1="361.75" x2="344.6" y2="364.45" stroke="#231f20" stroke-width="0.85" stroke-linecap="butt"/>
<line x1="345.77" y1="362.43" x2="343.43" y2="363.78" stroke="#231f20" stroke-width="0.85" stroke-linecap="butt"/>
<line x1="345.77" y1="363.78" x2="343.43" y2="362.43" stroke="#231f20" stroke-width="0.85" stroke-linecap="butt"/>
<circle cx="344.6" cy="363.1" r="0.6" fill="#231f20"/>
<text transform="translate(264.6,399.3) rotate(-90)" x="0" y="0" font-size="9.3" text-anchor="middle" font-weight="normal" fill="#3a3a3a" textLength="89.5" lengthAdjust="spacingAndGlyphs" stroke="#3a3a3a" stroke-width="0.22">Relative quantity of HADHA</text>
<text transform="translate(315.3,439) rotate(-45)" x="0" y="0" font-size="8.6" text-anchor="end" font-weight="normal" fill="#3a3a3a" textLength="12.6" lengthAdjust="spacingAndGlyphs" stroke="#3a3a3a" stroke-width="0.22">Ctrl</text>
<text transform="translate(337.5,439) rotate(-45)" x="0" y="0" font-size="8.6" text-anchor="end" font-weight="normal" fill="#3a3a3a" textLength="38" lengthAdjust="spacingAndGlyphs" stroke="#3a3a3a" stroke-width="0.22">PBS-MDSC</text>
<text transform="translate(359.4,439) rotate(-45)" x="0" y="0" font-size="8.6" text-anchor="end" font-weight="normal" fill="#3a3a3a" textLength="38.5" lengthAdjust="spacingAndGlyphs" stroke="#3a3a3a" stroke-width="0.22">Dec-MDSC</text>
<text x="381.2" y="345" font-size="11.8" text-anchor="start" font-weight="bold" fill="#000">H</text>
<circle cx="445.3" cy="397.5" r="1.4" fill="#1f4b7e"/>
<circle cx="442.3" cy="400" r="1.4" fill="#1f4b7e"/>
<circle cx="448.3" cy="399" r="1.4" fill="#1f4b7e"/>
<circle cx="445.3" cy="403" r="1.4" fill="#1f4b7e"/>
<circle cx="442.3" cy="405.5" r="1.4" fill="#1f4b7e"/>
<circle cx="448.3" cy="405" r="1.4" fill="#1f4b7e"/>
<line x1="445.3" y1="398.2" x2="445.3" y2="406.2" stroke="#1f4b7e" stroke-width="0.9" stroke-linecap="butt"/>
<line x1="442.1" y1="398.2" x2="448.5" y2="398.2" stroke="#1f4b7e" stroke-width="0.9" stroke-linecap="butt"/>
<line x1="442.1" y1="406.2" x2="448.5" y2="406.2" stroke="#1f4b7e" stroke-width="0.9" stroke-linecap="butt"/>
<line x1="439.5" y1="402.5" x2="451.1" y2="402.5" stroke="#1f4b7e" stroke-width="0.9" stroke-linecap="butt"/>
<circle cx="467.1" cy="383.6" r="1.4" fill="#c8173a"/>
<circle cx="467.1" cy="394.7" r="1.4" fill="#c8173a"/>
<circle cx="467.1" cy="398.8" r="1.4" fill="#c8173a"/>
<circle cx="467.1" cy="402.8" r="1.4" fill="#c8173a"/>
<circle cx="467.1" cy="406.9" r="1.4" fill="#c8173a"/>
<circle cx="467.1" cy="409.9" r="1.4" fill="#c8173a"/>
<line x1="467.1" y1="389.3" x2="467.1" y2="410.5" stroke="#c8173a" stroke-width="0.9" stroke-linecap="butt"/>
<line x1="463.9" y1="389.3" x2="470.3" y2="389.3" stroke="#c8173a" stroke-width="0.9" stroke-linecap="butt"/>
<line x1="463.9" y1="410.5" x2="470.3" y2="410.5" stroke="#c8173a" stroke-width="0.9" stroke-linecap="butt"/>
<line x1="461.3" y1="399.8" x2="472.9" y2="399.8" stroke="#c8173a" stroke-width="0.9" stroke-linecap="butt"/>
<circle cx="489.4" cy="373" r="1.4" fill="#4ab448"/>
<circle cx="489.4" cy="378.5" r="1.4" fill="#4ab448"/>
<circle cx="489.4" cy="383.6" r="1.4" fill="#4ab448"/>
<circle cx="489.4" cy="387.7" r="1.4" fill="#4ab448"/>
<line x1="489.4" y1="375.1" x2="489.4" y2="391.3" stroke="#4ab448" stroke-width="0.9" stroke-linecap="butt"/>
<line x1="486.2" y1="375.1" x2="492.6" y2="375.1" stroke="#4ab448" stroke-width="0.9" stroke-linecap="butt"/>
<line x1="486.2" y1="391.3" x2="492.6" y2="391.3" stroke="#4ab448" stroke-width="0.9" stroke-linecap="butt"/>
<line x1="483.6" y1="383.2" x2="495.2" y2="383.2" stroke="#4ab448" stroke-width="0.9" stroke-linecap="butt"/>
<line x1="430.7" y1="365.7" x2="430.7" y2="430.1" stroke="#231f20" stroke-width="1.05" stroke-linecap="butt"/>
<line x1="428.2" y1="430.1" x2="430.7" y2="430.1" stroke="#231f20" stroke-width="1.05" stroke-linecap="butt"/>
<text x="425.8" y="432.82" font-size="8" text-anchor="end" font-weight="normal" fill="#3a3a3a" stroke="#3a3a3a" stroke-width="0.22">0.00000</text>
<line x1="428.2" y1="417.72" x2="430.7" y2="417.72" stroke="#231f20" stroke-width="1.05" stroke-linecap="butt"/>
<text x="425.8" y="420.44" font-size="8" text-anchor="end" font-weight="normal" fill="#3a3a3a" stroke="#3a3a3a" stroke-width="0.22">0.00002</text>
<line x1="428.2" y1="405.34" x2="430.7" y2="405.34" stroke="#231f20" stroke-width="1.05" stroke-linecap="butt"/>
<text x="425.8" y="408.06" font-size="8" text-anchor="end" font-weight="normal" fill="#3a3a3a" stroke="#3a3a3a" stroke-width="0.22">0.00004</text>
<line x1="428.2" y1="392.96" x2="430.7" y2="392.96" stroke="#231f20" stroke-width="1.05" stroke-linecap="butt"/>
<text x="425.8" y="395.68" font-size="8" text-anchor="end" font-weight="normal" fill="#3a3a3a" stroke="#3a3a3a" stroke-width="0.22">0.00006</text>
<line x1="428.2" y1="380.58" x2="430.7" y2="380.58" stroke="#231f20" stroke-width="1.05" stroke-linecap="butt"/>
<text x="425.8" y="383.3" font-size="8" text-anchor="end" font-weight="normal" fill="#3a3a3a" stroke="#3a3a3a" stroke-width="0.22">0.00008</text>
<line x1="428.2" y1="368.2" x2="430.7" y2="368.2" stroke="#231f20" stroke-width="1.05" stroke-linecap="butt"/>
<text x="425.8" y="370.92" font-size="8" text-anchor="end" font-weight="normal" fill="#3a3a3a" stroke="#3a3a3a" stroke-width="0.22">0.00010</text>
<line x1="430.7" y1="430.1" x2="503.4" y2="430.1" stroke="#231f20" stroke-width="1.05" stroke-linecap="butt"/>
<line x1="445.3" y1="430.1" x2="445.3" y2="432.6" stroke="#231f20" stroke-width="1.05" stroke-linecap="butt"/>
<line x1="467.1" y1="430.1" x2="467.1" y2="432.6" stroke="#231f20" stroke-width="1.05" stroke-linecap="butt"/>
<line x1="489.4" y1="430.1" x2="489.4" y2="432.6" stroke="#231f20" stroke-width="1.05" stroke-linecap="butt"/>
<line x1="441.8" y1="359.3" x2="488.8" y2="359.3" stroke="#231f20" stroke-width="0.9" stroke-linecap="butt"/>
<line x1="463.6" y1="354.05" x2="463.6" y2="356.75" stroke="#231f20" stroke-width="0.85" stroke-linecap="butt"/>
<line x1="464.77" y1="354.73" x2="462.43" y2="356.08" stroke="#231f20" stroke-width="0.85" stroke-linecap="butt"/>
<line x1="464.77" y1="356.08" x2="462.43" y2="354.73" stroke="#231f20" stroke-width="0.85" stroke-linecap="butt"/>
<circle cx="463.6" cy="355.4" r="0.6" fill="#231f20"/>
<line x1="467.4" y1="354.05" x2="467.4" y2="356.75" stroke="#231f20" stroke-width="0.85" stroke-linecap="butt"/>
<line x1="468.57" y1="354.73" x2="466.23" y2="356.08" stroke="#231f20" stroke-width="0.85" stroke-linecap="butt"/>
<line x1="468.57" y1="356.08" x2="466.23" y2="354.73" stroke="#231f20" stroke-width="0.85" stroke-linecap="butt"/>
<circle cx="467.4" cy="355.4" r="0.6" fill="#231f20"/>
<line x1="464" y1="368" x2="489.8" y2="368" stroke="#231f20" stroke-width="0.9" stroke-linecap="butt"/>
<line x1="477" y1="362.75" x2="477" y2="365.45" stroke="#231f20" stroke-width="0.85" stroke-linecap="butt"/>
<line x1="478.17" y1="363.43" x2="475.83" y2="364.78" stroke="#231f20" stroke-width="0.85" stroke-linecap="butt"/>
<line x1="478.17" y1="364.78" x2="475.83" y2="363.43" stroke="#231f20" stroke-width="0.85" stroke-linecap="butt"/>
<circle cx="477" cy="364.1" r="0.6" fill="#231f20"/>
<text transform="translate(389.4,399.3) rotate(-90)" x="0" y="0" font-size="9.3" text-anchor="middle" font-weight="normal" fill="#3a3a3a" textLength="89.5" lengthAdjust="spacingAndGlyphs" stroke="#3a3a3a" stroke-width="0.22">Relative quantity of PGC1β</text>
<text transform="translate(449.9,439) rotate(-45)" x="0" y="0" font-size="8.6" text-anchor="end" font-weight="normal" fill="#3a3a3a" textLength="12.6" lengthAdjust="spacingAndGlyphs" stroke="#3a3a3a" stroke-width="0.22">Ctrl</text>
<text transform="translate(471.7,439) rotate(-45)" x="0" y="0" font-size="8.6" text-anchor="end" font-weight="normal" fill="#3a3a3a" textLength="38" lengthAdjust="spacingAndGlyphs" stroke="#3a3a3a" stroke-width="0.22">PBS-MDSC</text>
<text transform="translate(494,439) rotate(-45)" x="0" y="0" font-size="8.6" text-anchor="end" font-weight="normal" fill="#3a3a3a" textLength="38.5" lengthAdjust="spacingAndGlyphs" stroke="#3a3a3a" stroke-width="0.22">Dec-MDSC</text>
<text x="7.5" y="485.6" font-size="11.8" text-anchor="start" font-weight="bold" fill="#000">I</text>
<rect x="41.9" y="517.09" width="7.6" height="24.91" fill="#6c81b6" stroke="#274f8f" stroke-width="0.3"/>
<rect x="54.6" y="517.09" width="7.6" height="24.91" fill="#e3705f" stroke="#d3172f" stroke-width="0.3"/>
<rect x="67.2" y="511.26" width="7.6" height="30.74" fill="#90c57b" stroke="#3f9f3a" stroke-width="0.3"/>
<line x1="45.7" y1="514.44" x2="45.7" y2="519.74" stroke="#274f8f" stroke-width="0.9" stroke-linecap="butt"/>
<line x1="43.7" y1="514.44" x2="47.7" y2="514.44" stroke="#274f8f" stroke-width="0.9" stroke-linecap="butt"/>
<line x1="43.7" y1="519.74" x2="47.7" y2="519.74" stroke="#274f8f" stroke-width="0.9" stroke-linecap="butt"/>
<circle cx="45.7" cy="511.79" r="1.2" fill="#274f8f"/>
<circle cx="45.7" cy="516.56" r="1.2" fill="#274f8f"/>
<circle cx="45.7" cy="517.62" r="1.2" fill="#274f8f"/>
<circle cx="45.7" cy="518.15" r="1.2" fill="#274f8f"/>
<circle cx="45.7" cy="518.68" r="1.2" fill="#274f8f"/>
<line x1="58.4" y1="512.32" x2="58.4" y2="521.86" stroke="#d3172f" stroke-width="0.9" stroke-linecap="butt"/>
<line x1="56.4" y1="512.32" x2="60.4" y2="512.32" stroke="#d3172f" stroke-width="0.9" stroke-linecap="butt"/>
<line x1="56.4" y1="521.86" x2="60.4" y2="521.86" stroke="#d3172f" stroke-width="0.9" stroke-linecap="butt"/>
<circle cx="58.4" cy="509.67" r="1.2" fill="#d3172f"/>
<circle cx="58.4" cy="515.5" r="1.2" fill="#d3172f"/>
<circle cx="58.4" cy="517.09" r="1.2" fill="#d3172f"/>
<circle cx="58.4" cy="518.15" r="1.2" fill="#d3172f"/>
<circle cx="58.4" cy="518.68" r="1.2" fill="#d3172f"/>
<line x1="71" y1="503.84" x2="71" y2="518.68" stroke="#3f9f3a" stroke-width="0.9" stroke-linecap="butt"/>
<line x1="69" y1="503.84" x2="73" y2="503.84" stroke="#3f9f3a" stroke-width="0.9" stroke-linecap="butt"/>
<line x1="69" y1="518.68" x2="73" y2="518.68" stroke="#3f9f3a" stroke-width="0.9" stroke-linecap="butt"/>
<circle cx="71" cy="503.84" r="1.2" fill="#3f9f3a"/>
<circle cx="71" cy="509.14" r="1.2" fill="#3f9f3a"/>
<circle cx="71" cy="512.85" r="1.2" fill="#3f9f3a"/>
<circle cx="71" cy="515.5" r="1.2" fill="#3f9f3a"/>
<line x1="37.6" y1="497.1" x2="37.6" y2="542" stroke="#231f20" stroke-width="1.2" stroke-linecap="butt"/>
<line x1="35.1" y1="542" x2="37.6" y2="542" stroke="#231f20" stroke-width="1.2" stroke-linecap="butt"/>
<text x="33.1" y="544.24" font-size="6.6" text-anchor="end" font-weight="normal" fill="#3a3a3a" textLength="3.6" lengthAdjust="spacingAndGlyphs" stroke="#3a3a3a" stroke-width="0.22">0</text>
<line x1="35.1" y1="531.4" x2="37.6" y2="531.4" stroke="#231f20" stroke-width="1.2" stroke-linecap="butt"/>
<text x="33.1" y="533.64" font-size="6.6" text-anchor="end" font-weight="normal" fill="#3a3a3a" textLength="7.2" lengthAdjust="spacingAndGlyphs" stroke="#3a3a3a" stroke-width="0.22">20</text>
<line x1="35.1" y1="520.8" x2="37.6" y2="520.8" stroke="#231f20" stroke-width="1.2" stroke-linecap="butt"/>
<text x="33.1" y="523.04" font-size="6.6" text-anchor="end" font-weight="normal" fill="#3a3a3a" textLength="7.2" lengthAdjust="spacingAndGlyphs" stroke="#3a3a3a" stroke-width="0.22">40</text>
<line x1="35.1" y1="510.2" x2="37.6" y2="510.2" stroke="#231f20" stroke-width="1.2" stroke-linecap="butt"/>
<text x="33.1" y="512.44" font-size="6.6" text-anchor="end" font-weight="normal" fill="#3a3a3a" textLength="7.2" lengthAdjust="spacingAndGlyphs" stroke="#3a3a3a" stroke-width="0.22">60</text>
<line x1="35.1" y1="499.6" x2="37.6" y2="499.6" stroke="#231f20" stroke-width="1.2" stroke-linecap="butt"/>
<text x="33.1" y="501.84" font-size="6.6" text-anchor="end" font-weight="normal" fill="#3a3a3a" textLength="7.2" lengthAdjust="spacingAndGlyphs" stroke="#3a3a3a" stroke-width="0.22">80</text>
<line x1="37.6" y1="542" x2="77.9" y2="542" stroke="#231f20" stroke-width="1.2" stroke-linecap="butt"/>
<line x1="45.7" y1="542" x2="45.7" y2="544.5" stroke="#231f20" stroke-width="1.2" stroke-linecap="butt"/>
<line x1="58.4" y1="542" x2="58.4" y2="544.5" stroke="#231f20" stroke-width="1.2" stroke-linecap="butt"/>
<line x1="71" y1="542" x2="71" y2="544.5" stroke="#231f20" stroke-width="1.2" stroke-linecap="butt"/>
<line x1="45.4" y1="489.4" x2="71.1" y2="489.4" stroke="#231f20" stroke-width="0.9" stroke-linecap="butt"/>
<text x="58.3" y="487.4" font-size="7.6" text-anchor="middle" font-weight="normal" fill="#3a3a3a" stroke="#3a3a3a" stroke-width="0.22">ns</text>
<line x1="58.4" y1="497.5" x2="71.1" y2="497.5" stroke="#231f20" stroke-width="0.9" stroke-linecap="butt"/>
<text x="64.8" y="495.5" font-size="7.6" text-anchor="middle" font-weight="normal" fill="#3a3a3a" stroke="#3a3a3a" stroke-width="0.22">ns</text>
<text transform="translate(9.7,520.6) rotate(-90)" x="0" y="0" font-size="8.8" text-anchor="middle" font-weight="normal" fill="#3a3a3a" textLength="54.4" lengthAdjust="spacingAndGlyphs" stroke="#3a3a3a" stroke-width="0.22">VEGF in ITP murine</text>
<text transform="translate(19.4,520.5) rotate(-90)" x="0" y="0" font-size="8.8" text-anchor="middle" font-weight="normal" fill="#3a3a3a" textLength="43" lengthAdjust="spacingAndGlyphs" stroke="#3a3a3a" stroke-width="0.22">serum (pg/ml)</text>
<text transform="translate(49.6,550.9) rotate(-45)" x="0" y="0" font-size="8.6" text-anchor="end" font-weight="normal" fill="#3a3a3a" textLength="12.3" lengthAdjust="spacingAndGlyphs" stroke="#3a3a3a" stroke-width="0.22">Ctrl</text>
<text transform="translate(62.3,550.9) rotate(-45)" x="0" y="0" font-size="8.6" text-anchor="end" font-weight="normal" fill="#3a3a3a" textLength="38.4" lengthAdjust="spacingAndGlyphs" stroke="#3a3a3a" stroke-width="0.22">PBS-MDSC</text>
<text transform="translate(74.9,550.9) rotate(-45)" x="0" y="0" font-size="8.6" text-anchor="end" font-weight="normal" fill="#3a3a3a" textLength="36.8" lengthAdjust="spacingAndGlyphs" stroke="#3a3a3a" stroke-width="0.22">Dec-MDSC</text>
<rect x="128.5" y="516.14" width="7.6" height="25.86" fill="#6c81b6" stroke="#274f8f" stroke-width="0.3"/>
<rect x="141.5" y="513.73" width="7.6" height="28.27" fill="#e3705f" stroke="#d3172f" stroke-width="0.3"/>
<rect x="154.2" y="508.36" width="7.6" height="33.64" fill="#90c57b" stroke="#3f9f3a" stroke-width="0.3"/>
<line x1="132.3" y1="509.21" x2="132.3" y2="523.06" stroke="#274f8f" stroke-width="0.9" stroke-linecap="butt"/>
<line x1="130.3" y1="509.21" x2="134.3" y2="509.21" stroke="#274f8f" stroke-width="0.9" stroke-linecap="butt"/>
<line x1="130.3" y1="523.06" x2="134.3" y2="523.06" stroke="#274f8f" stroke-width="0.9" stroke-linecap="butt"/>
<circle cx="132.3" cy="508.79" r="1.2" fill="#274f8f"/>
<circle cx="132.3" cy="515.15" r="1.2" fill="#274f8f"/>
<circle cx="132.3" cy="516.56" r="1.2" fill="#274f8f"/>
<circle cx="132.3" cy="519.39" r="1.2" fill="#274f8f"/>
<circle cx="132.3" cy="522.21" r="1.2" fill="#274f8f"/>
<line x1="145.3" y1="509.63" x2="145.3" y2="517.83" stroke="#d3172f" stroke-width="0.9" stroke-linecap="butt"/>
<line x1="143.3" y1="509.63" x2="147.3" y2="509.63" stroke="#d3172f" stroke-width="0.9" stroke-linecap="butt"/>
<line x1="143.3" y1="517.83" x2="147.3" y2="517.83" stroke="#d3172f" stroke-width="0.9" stroke-linecap="butt"/>
<circle cx="145.3" cy="510.2" r="1.2" fill="#d3172f"/>
<circle cx="145.3" cy="510.91" r="1.2" fill="#d3172f"/>
<circle cx="145.3" cy="512.32" r="1.2" fill="#d3172f"/>
<circle cx="145.3" cy="513.73" r="1.2" fill="#d3172f"/>
<circle cx="145.3" cy="515.15" r="1.2" fill="#d3172f"/>
<line x1="158" y1="503.7" x2="158" y2="513.03" stroke="#3f9f3a" stroke-width="0.9" stroke-linecap="butt"/>
<line x1="156" y1="503.7" x2="160" y2="503.7" stroke="#3f9f3a" stroke-width="0.9" stroke-linecap="butt"/>
<line x1="156" y1="513.03" x2="160" y2="513.03" stroke="#3f9f3a" stroke-width="0.9" stroke-linecap="butt"/>
<circle cx="158" cy="504.55" r="1.2" fill="#3f9f3a"/>
<circle cx="158" cy="508.08" r="1.2" fill="#3f9f3a"/>
<circle cx="158" cy="508.79" r="1.2" fill="#3f9f3a"/>
<circle cx="158" cy="509.49" r="1.2" fill="#3f9f3a"/>
<line x1="123.8" y1="497.1" x2="123.8" y2="542" stroke="#231f20" stroke-width="1.2" stroke-linecap="butt"/>
<line x1="121.3" y1="542" x2="123.8" y2="542" stroke="#231f20" stroke-width="1.2" stroke-linecap="butt"/>
<text x="119.3" y="544.24" font-size="6.6" text-anchor="end" font-weight="normal" fill="#3a3a3a" textLength="3.6" lengthAdjust="spacingAndGlyphs" stroke="#3a3a3a" stroke-width="0.22">0</text>
<line x1="121.3" y1="527.87" x2="123.8" y2="527.87" stroke="#231f20" stroke-width="1.2" stroke-linecap="butt"/>
<text x="119.3" y="530.11" font-size="6.6" text-anchor="end" font-weight="normal" fill="#3a3a3a" textLength="7.2" lengthAdjust="spacingAndGlyphs" stroke="#3a3a3a" stroke-width="0.22">10</text>
<line x1="121.3" y1="513.73" x2="123.8" y2="513.73" stroke="#231f20" stroke-width="1.2" stroke-linecap="butt"/>
<text x="119.3" y="515.98" font-size="6.6" text-anchor="end" font-weight="normal" fill="#3a3a3a" textLength="7.2" lengthAdjust="spacingAndGlyphs" stroke="#3a3a3a" stroke-width="0.22">20</text>
<line x1="121.3" y1="499.6" x2="123.8" y2="499.6" stroke="#231f20" stroke-width="1.2" stroke-linecap="butt"/>
<text x="119.3" y="501.84" font-size="6.6" text-anchor="end" font-weight="normal" fill="#3a3a3a" textLength="7.2" lengthAdjust="spacingAndGlyphs" stroke="#3a3a3a" stroke-width="0.22">30</text>
<line x1="123.8" y1="542" x2="165.7" y2="542" stroke="#231f20" stroke-width="1.2" stroke-linecap="butt"/>
<line x1="132.3" y1="542" x2="132.3" y2="544.5" stroke="#231f20" stroke-width="1.2" stroke-linecap="butt"/>
<line x1="145.3" y1="542" x2="145.3" y2="544.5" stroke="#231f20" stroke-width="1.2" stroke-linecap="butt"/>
<line x1="158" y1="542" x2="158" y2="544.5" stroke="#231f20" stroke-width="1.2" stroke-linecap="butt"/>
<line x1="131.9" y1="490.5" x2="156.5" y2="490.5" stroke="#231f20" stroke-width="0.9" stroke-linecap="butt"/>
<line x1="144.9" y1="485.35" x2="144.9" y2="488.05" stroke="#231f20" stroke-width="0.85" stroke-linecap="butt"/>
<line x1="146.07" y1="486.02" x2="143.73" y2="487.38" stroke="#231f20" stroke-width="0.85" stroke-linecap="butt"/>
<line x1="146.07" y1="487.38" x2="143.73" y2="486.02" stroke="#231f20" stroke-width="0.85" stroke-linecap="butt"/>
<circle cx="144.9" cy="486.7" r="0.6" fill="#231f20"/>
<line x1="144.4" y1="498.4" x2="156.5" y2="498.4" stroke="#231f20" stroke-width="0.9" stroke-linecap="butt"/>
<line x1="150.6" y1="493.25" x2="150.6" y2="495.95" stroke="#231f20" stroke-width="0.85" stroke-linecap="butt"/>
<line x1="151.77" y1="493.92" x2="149.43" y2="495.27" stroke="#231f20" stroke-width="0.85" stroke-linecap="butt"/>
<line x1="151.77" y1="495.27" x2="149.43" y2="493.92" stroke="#231f20" stroke-width="0.85" stroke-linecap="butt"/>
<circle cx="150.6" cy="494.6" r="0.6" fill="#231f20"/>
<text transform="translate(96.5,520.4) rotate(-90)" x="0" y="0" font-size="8.8" text-anchor="middle" font-weight="normal" fill="#3a3a3a" textLength="53.6" lengthAdjust="spacingAndGlyphs" stroke="#3a3a3a" stroke-width="0.22">IL-10 in ITP murine</text>
<text transform="translate(106.1,520.4) rotate(-90)" x="0" y="0" font-size="8.8" text-anchor="middle" font-weight="normal" fill="#3a3a3a" textLength="41.6" lengthAdjust="spacingAndGlyphs" stroke="#3a3a3a" stroke-width="0.22">serum (pg/ml)</text>
<text transform="translate(136.2,550.9) rotate(-45)" x="0" y="0" font-size="8.6" text-anchor="end" font-weight="normal" fill="#3a3a3a" textLength="12.3" lengthAdjust="spacingAndGlyphs" stroke="#3a3a3a" stroke-width="0.22">Ctrl</text>
<text transform="translate(149.2,550.9) rotate(-45)" x="0" y="0" font-size="8.6" text-anchor="end" font-weight="normal" fill="#3a3a3a" textLength="38.4" lengthAdjust="spacingAndGlyphs" stroke="#3a3a3a" stroke-width="0.22">PBS-MDSC</text>
<text transform="translate(161.9,550.9) rotate(-45)" x="0" y="0" font-size="8.6" text-anchor="end" font-weight="normal" fill="#3a3a3a" textLength="36.8" lengthAdjust="spacingAndGlyphs" stroke="#3a3a3a" stroke-width="0.22">Dec-MDSC</text>
<rect x="216.6" y="529.81" width="7.6" height="12.19" fill="#6c81b6" stroke="#274f8f" stroke-width="0.3"/>
<rect x="229.3" y="524.51" width="7.6" height="17.49" fill="#e3705f" stroke="#d3172f" stroke-width="0.3"/>
<rect x="242.1" y="514.97" width="7.6" height="27.03" fill="#90c57b" stroke="#3f9f3a" stroke-width="0.3"/>
<line x1="220.4" y1="525.04" x2="220.4" y2="534.58" stroke="#274f8f" stroke-width="0.9" stroke-linecap="butt"/>
<line x1="218.4" y1="525.04" x2="222.4" y2="525.04" stroke="#274f8f" stroke-width="0.9" stroke-linecap="butt"/>
<line x1="218.4" y1="534.58" x2="222.4" y2="534.58" stroke="#274f8f" stroke-width="0.9" stroke-linecap="butt"/>
<circle cx="220.4" cy="522.39" r="1.2" fill="#274f8f"/>
<circle cx="220.4" cy="528.22" r="1.2" fill="#274f8f"/>
<circle cx="220.4" cy="530.34" r="1.2" fill="#274f8f"/>
<circle cx="220.4" cy="532.46" r="1.2" fill="#274f8f"/>
<circle cx="220.4" cy="534.58" r="1.2" fill="#274f8f"/>
<line x1="233.1" y1="517.09" x2="233.1" y2="531.93" stroke="#d3172f" stroke-width="0.9" stroke-linecap="butt"/>
<line x1="231.1" y1="517.09" x2="235.1" y2="517.09" stroke="#d3172f" stroke-width="0.9" stroke-linecap="butt"/>
<line x1="231.1" y1="531.93" x2="235.1" y2="531.93" stroke="#d3172f" stroke-width="0.9" stroke-linecap="butt"/>
<circle cx="233.1" cy="513.38" r="1.2" fill="#d3172f"/>
<circle cx="233.1" cy="520.8" r="1.2" fill="#d3172f"/>
<circle cx="233.1" cy="523.98" r="1.2" fill="#d3172f"/>
<circle cx="233.1" cy="528.22" r="1.2" fill="#d3172f"/>
<circle cx="233.1" cy="531.4" r="1.2" fill="#d3172f"/>
<line x1="245.9" y1="509.14" x2="245.9" y2="520.8" stroke="#3f9f3a" stroke-width="0.9" stroke-linecap="butt"/>
<line x1="243.9" y1="509.14" x2="247.9" y2="509.14" stroke="#3f9f3a" stroke-width="0.9" stroke-linecap="butt"/>
<line x1="243.9" y1="520.8" x2="247.9" y2="520.8" stroke="#3f9f3a" stroke-width="0.9" stroke-linecap="butt"/>
<circle cx="245.9" cy="507.02" r="1.2" fill="#3f9f3a"/>
<circle cx="245.9" cy="512.32" r="1.2" fill="#3f9f3a"/>
<circle cx="245.9" cy="515.5" r="1.2" fill="#3f9f3a"/>
<circle cx="245.9" cy="518.68" r="1.2" fill="#3f9f3a"/>
<line x1="211.8" y1="497.1" x2="211.8" y2="542" stroke="#231f20" stroke-width="1.2" stroke-linecap="butt"/>
<line x1="209.3" y1="542" x2="211.8" y2="542" stroke="#231f20" stroke-width="1.2" stroke-linecap="butt"/>
<text x="207.3" y="544.24" font-size="6.6" text-anchor="end" font-weight="normal" fill="#3a3a3a" textLength="3.6" lengthAdjust="spacingAndGlyphs" stroke="#3a3a3a" stroke-width="0.22">0</text>
<line x1="209.3" y1="531.4" x2="211.8" y2="531.4" stroke="#231f20" stroke-width="1.2" stroke-linecap="butt"/>
<text x="207.3" y="533.64" font-size="6.6" text-anchor="end" font-weight="normal" fill="#3a3a3a" textLength="3.6" lengthAdjust="spacingAndGlyphs" stroke="#3a3a3a" stroke-width="0.22">1</text>
<line x1="209.3" y1="520.8" x2="211.8" y2="520.8" stroke="#231f20" stroke-width="1.2" stroke-linecap="butt"/>
<text x="207.3" y="523.04" font-size="6.6" text-anchor="end" font-weight="normal" fill="#3a3a3a" textLength="3.6" lengthAdjust="spacingAndGlyphs" stroke="#3a3a3a" stroke-width="0.22">2</text>
<line x1="209.3" y1="510.2" x2="211.8" y2="510.2" stroke="#231f20" stroke-width="1.2" stroke-linecap="butt"/>
<text x="207.3" y="512.44" font-size="6.6" text-anchor="end" font-weight="normal" fill="#3a3a3a" textLength="3.6" lengthAdjust="spacingAndGlyphs" stroke="#3a3a3a" stroke-width="0.22">3</text>
<line x1="209.3" y1="499.6" x2="211.8" y2="499.6" stroke="#231f20" stroke-width="1.2" stroke-linecap="butt"/>
<text x="207.3" y="501.84" font-size="6.6" text-anchor="end" font-weight="normal" fill="#3a3a3a" textLength="3.6" lengthAdjust="spacingAndGlyphs" stroke="#3a3a3a" stroke-width="0.22">4</text>
<line x1="211.8" y1="542" x2="252.4" y2="542" stroke="#231f20" stroke-width="1.2" stroke-linecap="butt"/>
<line x1="220.4" y1="542" x2="220.4" y2="544.5" stroke="#231f20" stroke-width="1.2" stroke-linecap="butt"/>
<line x1="233.1" y1="542" x2="233.1" y2="544.5" stroke="#231f20" stroke-width="1.2" stroke-linecap="butt"/>
<line x1="245.9" y1="542" x2="245.9" y2="544.5" stroke="#231f20" stroke-width="1.2" stroke-linecap="butt"/>
<line x1="220.4" y1="489.6" x2="246" y2="489.6" stroke="#231f20" stroke-width="0.9" stroke-linecap="butt"/>
<line x1="229.8" y1="484.45" x2="229.8" y2="487.15" stroke="#231f20" stroke-width="0.85" stroke-linecap="butt"/>
<line x1="230.97" y1="485.12" x2="228.63" y2="486.48" stroke="#231f20" stroke-width="0.85" stroke-linecap="butt"/>
<line x1="230.97" y1="486.48" x2="228.63" y2="485.12" stroke="#231f20" stroke-width="0.85" stroke-linecap="butt"/>
<circle cx="229.8" cy="485.8" r="0.6" fill="#231f20"/>
<line x1="233.4" y1="484.45" x2="233.4" y2="487.15" stroke="#231f20" stroke-width="0.85" stroke-linecap="butt"/>
<line x1="234.57" y1="485.12" x2="232.23" y2="486.48" stroke="#231f20" stroke-width="0.85" stroke-linecap="butt"/>
<line x1="234.57" y1="486.48" x2="232.23" y2="485.12" stroke="#231f20" stroke-width="0.85" stroke-linecap="butt"/>
<circle cx="233.4" cy="485.8" r="0.6" fill="#231f20"/>
<line x1="237" y1="484.45" x2="237" y2="487.15" stroke="#231f20" stroke-width="0.85" stroke-linecap="butt"/>
<line x1="238.17" y1="485.12" x2="235.83" y2="486.48" stroke="#231f20" stroke-width="0.85" stroke-linecap="butt"/>
<line x1="238.17" y1="486.48" x2="235.83" y2="485.12" stroke="#231f20" stroke-width="0.85" stroke-linecap="butt"/>
<circle cx="237" cy="485.8" r="0.6" fill="#231f20"/>
<line x1="233.4" y1="497.6" x2="246" y2="497.6" stroke="#231f20" stroke-width="0.9" stroke-linecap="butt"/>
<line x1="239.8" y1="492.45" x2="239.8" y2="495.15" stroke="#231f20" stroke-width="0.85" stroke-linecap="butt"/>
<line x1="240.97" y1="493.12" x2="238.63" y2="494.48" stroke="#231f20" stroke-width="0.85" stroke-linecap="butt"/>
<line x1="240.97" y1="494.48" x2="238.63" y2="493.12" stroke="#231f20" stroke-width="0.85" stroke-linecap="butt"/>
<circle cx="239.8" cy="493.8" r="0.6" fill="#231f20"/>
<text transform="translate(189.2,520.85) rotate(-90)" x="0" y="0" font-size="8.8" text-anchor="middle" font-weight="normal" fill="#3a3a3a" textLength="51" lengthAdjust="spacingAndGlyphs" stroke="#3a3a3a" stroke-width="0.22">IL-4 in ITP murine</text>
<text transform="translate(198.8,520.4) rotate(-90)" x="0" y="0" font-size="8.8" text-anchor="middle" font-weight="normal" fill="#3a3a3a" textLength="41.6" lengthAdjust="spacingAndGlyphs" stroke="#3a3a3a" stroke-width="0.22">serum (pg/ml)</text>
<text transform="translate(224.3,550.9) rotate(-45)" x="0" y="0" font-size="8.6" text-anchor="end" font-weight="normal" fill="#3a3a3a" textLength="12.3" lengthAdjust="spacingAndGlyphs" stroke="#3a3a3a" stroke-width="0.22">Ctrl</text>
<text transform="translate(237,550.9) rotate(-45)" x="0" y="0" font-size="8.6" text-anchor="end" font-weight="normal" fill="#3a3a3a" textLength="38.4" lengthAdjust="spacingAndGlyphs" stroke="#3a3a3a" stroke-width="0.22">PBS-MDSC</text>
<text transform="translate(249.8,550.9) rotate(-45)" x="0" y="0" font-size="8.6" text-anchor="end" font-weight="normal" fill="#3a3a3a" textLength="36.8" lengthAdjust="spacingAndGlyphs" stroke="#3a3a3a" stroke-width="0.22">Dec-MDSC</text>
<rect x="305.6" y="528.75" width="7.6" height="13.25" fill="#6c81b6" stroke="#274f8f" stroke-width="0.3"/>
<rect x="318.3" y="520.8" width="7.6" height="21.2" fill="#e3705f" stroke="#d3172f" stroke-width="0.3"/>
<rect x="331.2" y="514.97" width="7.6" height="27.03" fill="#90c57b" stroke="#3f9f3a" stroke-width="0.3"/>
<line x1="309.4" y1="520.27" x2="309.4" y2="537.23" stroke="#274f8f" stroke-width="0.9" stroke-linecap="butt"/>
<line x1="307.4" y1="520.27" x2="311.4" y2="520.27" stroke="#274f8f" stroke-width="0.9" stroke-linecap="butt"/>
<line x1="307.4" y1="537.23" x2="311.4" y2="537.23" stroke="#274f8f" stroke-width="0.9" stroke-linecap="butt"/>
<circle cx="309.4" cy="516.03" r="1.2" fill="#274f8f"/>
<circle cx="309.4" cy="523.98" r="1.2" fill="#274f8f"/>
<circle cx="309.4" cy="528.22" r="1.2" fill="#274f8f"/>
<circle cx="309.4" cy="532.46" r="1.2" fill="#274f8f"/>
<circle cx="309.4" cy="535.64" r="1.2" fill="#274f8f"/>
<line x1="322.1" y1="518.15" x2="322.1" y2="523.45" stroke="#d3172f" stroke-width="0.9" stroke-linecap="butt"/>
<line x1="320.1" y1="518.15" x2="324.1" y2="518.15" stroke="#d3172f" stroke-width="0.9" stroke-linecap="butt"/>
<line x1="320.1" y1="523.45" x2="324.1" y2="523.45" stroke="#d3172f" stroke-width="0.9" stroke-linecap="butt"/>
<circle cx="322.1" cy="517.09" r="1.2" fill="#d3172f"/>
<circle cx="322.1" cy="519.21" r="1.2" fill="#d3172f"/>
<circle cx="322.1" cy="520.27" r="1.2" fill="#d3172f"/>
<circle cx="322.1" cy="521.86" r="1.2" fill="#d3172f"/>
<circle cx="322.1" cy="523.98" r="1.2" fill="#d3172f"/>
<line x1="335" y1="509.14" x2="335" y2="520.27" stroke="#3f9f3a" stroke-width="0.9" stroke-linecap="butt"/>
<line x1="333" y1="509.14" x2="337" y2="509.14" stroke="#3f9f3a" stroke-width="0.9" stroke-linecap="butt"/>
<line x1="333" y1="520.27" x2="337" y2="520.27" stroke="#3f9f3a" stroke-width="0.9" stroke-linecap="butt"/>
<circle cx="335" cy="509.14" r="1.2" fill="#3f9f3a"/>
<circle cx="335" cy="512.85" r="1.2" fill="#3f9f3a"/>
<circle cx="335" cy="514.97" r="1.2" fill="#3f9f3a"/>
<circle cx="335" cy="516.56" r="1.2" fill="#3f9f3a"/>
<line x1="301" y1="497.1" x2="301" y2="542" stroke="#231f20" stroke-width="1.2" stroke-linecap="butt"/>
<line x1="298.5" y1="542" x2="301" y2="542" stroke="#231f20" stroke-width="1.2" stroke-linecap="butt"/>
<text x="296.5" y="544.24" font-size="6.6" text-anchor="end" font-weight="normal" fill="#3a3a3a" textLength="3.6" lengthAdjust="spacingAndGlyphs" stroke="#3a3a3a" stroke-width="0.22">0</text>
<line x1="298.5" y1="531.4" x2="301" y2="531.4" stroke="#231f20" stroke-width="1.2" stroke-linecap="butt"/>
<text x="296.5" y="533.64" font-size="6.6" text-anchor="end" font-weight="normal" fill="#3a3a3a" textLength="10.8" lengthAdjust="spacingAndGlyphs" stroke="#3a3a3a" stroke-width="0.22">100</text>
<line x1="298.5" y1="520.8" x2="301" y2="520.8" stroke="#231f20" stroke-width="1.2" stroke-linecap="butt"/>
<text x="296.5" y="523.04" font-size="6.6" text-anchor="end" font-weight="normal" fill="#3a3a3a" textLength="10.8" lengthAdjust="spacingAndGlyphs" stroke="#3a3a3a" stroke-width="0.22">200</text>
<line x1="298.5" y1="510.2" x2="301" y2="510.2" stroke="#231f20" stroke-width="1.2" stroke-linecap="butt"/>
<text x="296.5" y="512.44" font-size="6.6" text-anchor="end" font-weight="normal" fill="#3a3a3a" textLength="10.8" lengthAdjust="spacingAndGlyphs" stroke="#3a3a3a" stroke-width="0.22">300</text>
<line x1="298.5" y1="499.6" x2="301" y2="499.6" stroke="#231f20" stroke-width="1.2" stroke-linecap="butt"/>
<text x="296.5" y="501.84" font-size="6.6" text-anchor="end" font-weight="normal" fill="#3a3a3a" textLength="10.8" lengthAdjust="spacingAndGlyphs" stroke="#3a3a3a" stroke-width="0.22">400</text>
<line x1="301" y1="542" x2="341.5" y2="542" stroke="#231f20" stroke-width="1.2" stroke-linecap="butt"/>
<line x1="309.4" y1="542" x2="309.4" y2="544.5" stroke="#231f20" stroke-width="1.2" stroke-linecap="butt"/>
<line x1="322.1" y1="542" x2="322.1" y2="544.5" stroke="#231f20" stroke-width="1.2" stroke-linecap="butt"/>
<line x1="335" y1="542" x2="335" y2="544.5" stroke="#231f20" stroke-width="1.2" stroke-linecap="butt"/>
<line x1="309.7" y1="490.1" x2="335.7" y2="490.1" stroke="#231f20" stroke-width="0.9" stroke-linecap="butt"/>
<line x1="320.9" y1="484.95" x2="320.9" y2="487.65" stroke="#231f20" stroke-width="0.85" stroke-linecap="butt"/>
<line x1="322.07" y1="485.62" x2="319.73" y2="486.98" stroke="#231f20" stroke-width="0.85" stroke-linecap="butt"/>
<line x1="322.07" y1="486.98" x2="319.73" y2="485.62" stroke="#231f20" stroke-width="0.85" stroke-linecap="butt"/>
<circle cx="320.9" cy="486.3" r="0.6" fill="#231f20"/>
<line x1="324.5" y1="484.95" x2="324.5" y2="487.65" stroke="#231f20" stroke-width="0.85" stroke-linecap="butt"/>
<line x1="325.67" y1="485.62" x2="323.33" y2="486.98" stroke="#231f20" stroke-width="0.85" stroke-linecap="butt"/>
<line x1="325.67" y1="486.98" x2="323.33" y2="485.62" stroke="#231f20" stroke-width="0.85" stroke-linecap="butt"/>
<circle cx="324.5" cy="486.3" r="0.6" fill="#231f20"/>
<line x1="324.1" y1="498.4" x2="335.7" y2="498.4" stroke="#231f20" stroke-width="0.9" stroke-linecap="butt"/>
<line x1="329.6" y1="493.25" x2="329.6" y2="495.95" stroke="#231f20" stroke-width="0.85" stroke-linecap="butt"/>
<line x1="330.77" y1="493.92" x2="328.43" y2="495.27" stroke="#231f20" stroke-width="0.85" stroke-linecap="butt"/>
<line x1="330.77" y1="495.27" x2="328.43" y2="493.92" stroke="#231f20" stroke-width="0.85" stroke-linecap="butt"/>
<circle cx="329.6" cy="494.6" r="0.6" fill="#231f20"/>
<text transform="translate(269.1,520.85) rotate(-90)" x="0" y="0" font-size="8.8" text-anchor="middle" font-weight="normal" fill="#3a3a3a" textLength="54.5" lengthAdjust="spacingAndGlyphs" stroke="#3a3a3a" stroke-width="0.22">TGF-β in ITP murine</text>
<text transform="translate(280,520.4) rotate(-90)" x="0" y="0" font-size="8.8" text-anchor="middle" font-weight="normal" fill="#3a3a3a" textLength="41.6" lengthAdjust="spacingAndGlyphs" stroke="#3a3a3a" stroke-width="0.22">serum (ng/ml)</text>
<text transform="translate(313.3,550.9) rotate(-45)" x="0" y="0" font-size="8.6" text-anchor="end" font-weight="normal" fill="#3a3a3a" textLength="12.3" lengthAdjust="spacingAndGlyphs" stroke="#3a3a3a" stroke-width="0.22">Ctrl</text>
<text transform="translate(326,550.9) rotate(-45)" x="0" y="0" font-size="8.6" text-anchor="end" font-weight="normal" fill="#3a3a3a" textLength="38.4" lengthAdjust="spacingAndGlyphs" stroke="#3a3a3a" stroke-width="0.22">PBS-MDSC</text>
<text transform="translate(338.9,550.9) rotate(-45)" x="0" y="0" font-size="8.6" text-anchor="end" font-weight="normal" fill="#3a3a3a" textLength="36.8" lengthAdjust="spacingAndGlyphs" stroke="#3a3a3a" stroke-width="0.22">Dec-MDSC</text>
<rect x="394.8" y="520.27" width="7.6" height="21.73" fill="#6c81b6" stroke="#274f8f" stroke-width="0.3"/>
<rect x="407.1" y="526.1" width="7.6" height="15.9" fill="#e3705f" stroke="#d3172f" stroke-width="0.3"/>
<rect x="419.9" y="539.35" width="7.6" height="2.65" fill="#90c57b" stroke="#3f9f3a" stroke-width="0.3"/>
<line x1="398.6" y1="512.32" x2="398.6" y2="528.22" stroke="#274f8f" stroke-width="0.9" stroke-linecap="butt"/>
<line x1="396.6" y1="512.32" x2="400.6" y2="512.32" stroke="#274f8f" stroke-width="0.9" stroke-linecap="butt"/>
<line x1="396.6" y1="528.22" x2="400.6" y2="528.22" stroke="#274f8f" stroke-width="0.9" stroke-linecap="butt"/>
<circle cx="398.6" cy="505.43" r="1.2" fill="#274f8f"/>
<circle cx="398.6" cy="518.15" r="1.2" fill="#274f8f"/>
<circle cx="398.6" cy="520.8" r="1.2" fill="#274f8f"/>
<circle cx="398.6" cy="523.45" r="1.2" fill="#274f8f"/>
<circle cx="398.6" cy="526.1" r="1.2" fill="#274f8f"/>
<line x1="410.9" y1="517.09" x2="410.9" y2="535.11" stroke="#d3172f" stroke-width="0.9" stroke-linecap="butt"/>
<line x1="408.9" y1="517.09" x2="412.9" y2="517.09" stroke="#d3172f" stroke-width="0.9" stroke-linecap="butt"/>
<line x1="408.9" y1="535.11" x2="412.9" y2="535.11" stroke="#d3172f" stroke-width="0.9" stroke-linecap="butt"/>
<circle cx="410.9" cy="510.2" r="1.2" fill="#d3172f"/>
<circle cx="410.9" cy="520.8" r="1.2" fill="#d3172f"/>
<circle cx="410.9" cy="524.51" r="1.2" fill="#d3172f"/>
<circle cx="410.9" cy="527.16" r="1.2" fill="#d3172f"/>
<circle cx="410.9" cy="530.34" r="1.2" fill="#d3172f"/>
<line x1="423.7" y1="534.58" x2="423.7" y2="542" stroke="#3f9f3a" stroke-width="0.9" stroke-linecap="butt"/>
<line x1="421.7" y1="534.58" x2="425.7" y2="534.58" stroke="#3f9f3a" stroke-width="0.9" stroke-linecap="butt"/>
<line x1="421.7" y1="542" x2="425.7" y2="542" stroke="#3f9f3a" stroke-width="0.9" stroke-linecap="butt"/>
<circle cx="423.7" cy="531.4" r="1.2" fill="#3f9f3a"/>
<circle cx="423.7" cy="537.76" r="1.2" fill="#3f9f3a"/>
<circle cx="423.7" cy="539.35" r="1.2" fill="#3f9f3a"/>
<circle cx="423.7" cy="540.41" r="1.2" fill="#3f9f3a"/>
<circle cx="423.7" cy="541.47" r="1.2" fill="#3f9f3a"/>
<line x1="389.8" y1="497.1" x2="389.8" y2="542" stroke="#231f20" stroke-width="1.2" stroke-linecap="butt"/>
<line x1="387.3" y1="542" x2="389.8" y2="542" stroke="#231f20" stroke-width="1.2" stroke-linecap="butt"/>
<text x="385.3" y="544.24" font-size="6.6" text-anchor="end" font-weight="normal" fill="#3a3a3a" textLength="3.6" lengthAdjust="spacingAndGlyphs" stroke="#3a3a3a" stroke-width="0.22">0</text>
<line x1="387.3" y1="531.4" x2="389.8" y2="531.4" stroke="#231f20" stroke-width="1.2" stroke-linecap="butt"/>
<text x="385.3" y="533.64" font-size="6.6" text-anchor="end" font-weight="normal" fill="#3a3a3a" textLength="7.2" lengthAdjust="spacingAndGlyphs" stroke="#3a3a3a" stroke-width="0.22">20</text>
<line x1="387.3" y1="520.8" x2="389.8" y2="520.8" stroke="#231f20" stroke-width="1.2" stroke-linecap="butt"/>
<text x="385.3" y="523.04" font-size="6.6" text-anchor="end" font-weight="normal" fill="#3a3a3a" textLength="7.2" lengthAdjust="spacingAndGlyphs" stroke="#3a3a3a" stroke-width="0.22">40</text>
<line x1="387.3" y1="510.2" x2="389.8" y2="510.2" stroke="#231f20" stroke-width="1.2" stroke-linecap="butt"/>
<text x="385.3" y="512.44" font-size="6.6" text-anchor="end" font-weight="normal" fill="#3a3a3a" textLength="7.2" lengthAdjust="spacingAndGlyphs" stroke="#3a3a3a" stroke-width="0.22">60</text>
<line x1="387.3" y1="499.6" x2="389.8" y2="499.6" stroke="#231f20" stroke-width="1.2" stroke-linecap="butt"/>
<text x="385.3" y="501.84" font-size="6.6" text-anchor="end" font-weight="normal" fill="#3a3a3a" textLength="7.2" lengthAdjust="spacingAndGlyphs" stroke="#3a3a3a" stroke-width="0.22">80</text>
<line x1="389.8" y1="542" x2="430.5" y2="542" stroke="#231f20" stroke-width="1.2" stroke-linecap="butt"/>
<line x1="398.6" y1="542" x2="398.6" y2="544.5" stroke="#231f20" stroke-width="1.2" stroke-linecap="butt"/>
<line x1="410.9" y1="542" x2="410.9" y2="544.5" stroke="#231f20" stroke-width="1.2" stroke-linecap="butt"/>
<line x1="423.7" y1="542" x2="423.7" y2="544.5" stroke="#231f20" stroke-width="1.2" stroke-linecap="butt"/>
<line x1="399.9" y1="490.5" x2="425" y2="490.5" stroke="#231f20" stroke-width="0.9" stroke-linecap="butt"/>
<line x1="408.9" y1="485.35" x2="408.9" y2="488.05" stroke="#231f20" stroke-width="0.85" stroke-linecap="butt"/>
<line x1="410.07" y1="486.02" x2="407.73" y2="487.38" stroke="#231f20" stroke-width="0.85" stroke-linecap="butt"/>
<line x1="410.07" y1="487.38" x2="407.73" y2="486.02" stroke="#231f20" stroke-width="0.85" stroke-linecap="butt"/>
<circle cx="408.9" cy="486.7" r="0.6" fill="#231f20"/>
<line x1="412.5" y1="485.35" x2="412.5" y2="488.05" stroke="#231f20" stroke-width="0.85" stroke-linecap="butt"/>
<line x1="413.67" y1="486.02" x2="411.33" y2="487.38" stroke="#231f20" stroke-width="0.85" stroke-linecap="butt"/>
<line x1="413.67" y1="487.38" x2="411.33" y2="486.02" stroke="#231f20" stroke-width="0.85" stroke-linecap="butt"/>
<circle cx="412.5" cy="486.7" r="0.6" fill="#231f20"/>
<line x1="416.1" y1="485.35" x2="416.1" y2="488.05" stroke="#231f20" stroke-width="0.85" stroke-linecap="butt"/>
<line x1="417.27" y1="486.02" x2="414.93" y2="487.38" stroke="#231f20" stroke-width="0.85" stroke-linecap="butt"/>
<line x1="417.27" y1="487.38" x2="414.93" y2="486.02" stroke="#231f20" stroke-width="0.85" stroke-linecap="butt"/>
<circle cx="416.1" cy="486.7" r="0.6" fill="#231f20"/>
<line x1="412.9" y1="498.4" x2="425" y2="498.4" stroke="#231f20" stroke-width="0.9" stroke-linecap="butt"/>
<line x1="417.2" y1="493.25" x2="417.2" y2="495.95" stroke="#231f20" stroke-width="0.85" stroke-linecap="butt"/>
<line x1="418.37" y1="493.92" x2="416.03" y2="495.27" stroke="#231f20" stroke-width="0.85" stroke-linecap="butt"/>
<line x1="418.37" y1="495.27" x2="416.03" y2="493.92" stroke="#231f20" stroke-width="0.85" stroke-linecap="butt"/>
<circle cx="417.2" cy="494.6" r="0.6" fill="#231f20"/>
<line x1="420.8" y1="493.25" x2="420.8" y2="495.95" stroke="#231f20" stroke-width="0.85" stroke-linecap="butt"/>
<line x1="421.97" y1="493.92" x2="419.63" y2="495.27" stroke="#231f20" stroke-width="0.85" stroke-linecap="butt"/>
<line x1="421.97" y1="495.27" x2="419.63" y2="493.92" stroke="#231f20" stroke-width="0.85" stroke-linecap="butt"/>
<circle cx="420.8" cy="494.6" r="0.6" fill="#231f20"/>
<text transform="translate(361,521.3) rotate(-90)" x="0" y="0" font-size="8.8" text-anchor="middle" font-weight="normal" fill="#3a3a3a" textLength="55.4" lengthAdjust="spacingAndGlyphs" stroke="#3a3a3a" stroke-width="0.22">TNF-α in ITP murine</text>
<text transform="translate(372.3,520.4) rotate(-90)" x="0" y="0" font-size="8.8" text-anchor="middle" font-weight="normal" fill="#3a3a3a" textLength="41.6" lengthAdjust="spacingAndGlyphs" stroke="#3a3a3a" stroke-width="0.22">serum (pg/ml)</text>
<text transform="translate(402.5,550.9) rotate(-45)" x="0" y="0" font-size="8.6" text-anchor="end" font-weight="normal" fill="#3a3a3a" textLength="12.3" lengthAdjust="spacingAndGlyphs" stroke="#3a3a3a" stroke-width="0.22">Ctrl</text>
<text transform="translate(414.8,550.9) rotate(-45)" x="0" y="0" font-size="8.6" text-anchor="end" font-weight="normal" fill="#3a3a3a" textLength="38.4" lengthAdjust="spacingAndGlyphs" stroke="#3a3a3a" stroke-width="0.22">PBS-MDSC</text>
<text transform="translate(427.6,550.9) rotate(-45)" x="0" y="0" font-size="8.6" text-anchor="end" font-weight="normal" fill="#3a3a3a" textLength="36.8" lengthAdjust="spacingAndGlyphs" stroke="#3a3a3a" stroke-width="0.22">Dec-MDSC</text>
<rect x="479.4" y="519.21" width="7.6" height="22.79" fill="#6c81b6" stroke="#274f8f" stroke-width="0.3"/>
<rect x="492.3" y="528.75" width="7.6" height="13.25" fill="#e3705f" stroke="#d3172f" stroke-width="0.3"/>
<rect x="505.2" y="534.58" width="7.6" height="7.42" fill="#90c57b" stroke="#3f9f3a" stroke-width="0.3"/>
<line x1="483.2" y1="508.08" x2="483.2" y2="530.34" stroke="#274f8f" stroke-width="0.9" stroke-linecap="butt"/>
<line x1="481.2" y1="508.08" x2="485.2" y2="508.08" stroke="#274f8f" stroke-width="0.9" stroke-linecap="butt"/>
<line x1="481.2" y1="530.34" x2="485.2" y2="530.34" stroke="#274f8f" stroke-width="0.9" stroke-linecap="butt"/>
<circle cx="483.2" cy="502.25" r="1.2" fill="#274f8f"/>
<circle cx="483.2" cy="510.2" r="1.2" fill="#274f8f"/>
<circle cx="483.2" cy="518.15" r="1.2" fill="#274f8f"/>
<circle cx="483.2" cy="526.1" r="1.2" fill="#274f8f"/>
<circle cx="483.2" cy="531.4" r="1.2" fill="#274f8f"/>
<line x1="496.1" y1="522.92" x2="496.1" y2="534.58" stroke="#d3172f" stroke-width="0.9" stroke-linecap="butt"/>
<line x1="494.1" y1="522.92" x2="498.1" y2="522.92" stroke="#d3172f" stroke-width="0.9" stroke-linecap="butt"/>
<line x1="494.1" y1="534.58" x2="498.1" y2="534.58" stroke="#d3172f" stroke-width="0.9" stroke-linecap="butt"/>
<circle cx="496.1" cy="518.15" r="1.2" fill="#d3172f"/>
<circle cx="496.1" cy="521.86" r="1.2" fill="#d3172f"/>
<circle cx="496.1" cy="526.1" r="1.2" fill="#d3172f"/>
<circle cx="496.1" cy="530.34" r="1.2" fill="#d3172f"/>
<circle cx="496.1" cy="534.05" r="1.2" fill="#d3172f"/>
<line x1="509" y1="533.52" x2="509" y2="535.64" stroke="#3f9f3a" stroke-width="0.9" stroke-linecap="butt"/>
<line x1="507" y1="533.52" x2="511" y2="533.52" stroke="#3f9f3a" stroke-width="0.9" stroke-linecap="butt"/>
<line x1="507" y1="535.64" x2="511" y2="535.64" stroke="#3f9f3a" stroke-width="0.9" stroke-linecap="butt"/>
<circle cx="509" cy="532.99" r="1.2" fill="#3f9f3a"/>
<circle cx="509" cy="534.05" r="1.2" fill="#3f9f3a"/>
<circle cx="509" cy="534.58" r="1.2" fill="#3f9f3a"/>
<circle cx="509" cy="535.64" r="1.2" fill="#3f9f3a"/>
<circle cx="509" cy="536.17" r="1.2" fill="#3f9f3a"/>
<line x1="474.8" y1="497.1" x2="474.8" y2="542" stroke="#231f20" stroke-width="1.2" stroke-linecap="butt"/>
<line x1="472.3" y1="542" x2="474.8" y2="542" stroke="#231f20" stroke-width="1.2" stroke-linecap="butt"/>
<text x="470.3" y="544.24" font-size="6.6" text-anchor="end" font-weight="normal" fill="#3a3a3a" textLength="3.6" lengthAdjust="spacingAndGlyphs" stroke="#3a3a3a" stroke-width="0.22">0</text>
<line x1="472.3" y1="531.4" x2="474.8" y2="531.4" stroke="#231f20" stroke-width="1.2" stroke-linecap="butt"/>
<text x="470.3" y="533.64" font-size="6.6" text-anchor="end" font-weight="normal" fill="#3a3a3a" textLength="7.2" lengthAdjust="spacingAndGlyphs" stroke="#3a3a3a" stroke-width="0.22">20</text>
<line x1="472.3" y1="520.8" x2="474.8" y2="520.8" stroke="#231f20" stroke-width="1.2" stroke-linecap="butt"/>
<text x="470.3" y="523.04" font-size="6.6" text-anchor="end" font-weight="normal" fill="#3a3a3a" textLength="7.2" lengthAdjust="spacingAndGlyphs" stroke="#3a3a3a" stroke-width="0.22">40</text>
<line x1="472.3" y1="510.2" x2="474.8" y2="510.2" stroke="#231f20" stroke-width="1.2" stroke-linecap="butt"/>
<text x="470.3" y="512.44" font-size="6.6" text-anchor="end" font-weight="normal" fill="#3a3a3a" textLength="7.2" lengthAdjust="spacingAndGlyphs" stroke="#3a3a3a" stroke-width="0.22">60</text>
<line x1="472.3" y1="499.6" x2="474.8" y2="499.6" stroke="#231f20" stroke-width="1.2" stroke-linecap="butt"/>
<text x="470.3" y="501.84" font-size="6.6" text-anchor="end" font-weight="normal" fill="#3a3a3a" textLength="7.2" lengthAdjust="spacingAndGlyphs" stroke="#3a3a3a" stroke-width="0.22">80</text>
<line x1="474.8" y1="542" x2="516.2" y2="542" stroke="#231f20" stroke-width="1.2" stroke-linecap="butt"/>
<line x1="483.2" y1="542" x2="483.2" y2="544.5" stroke="#231f20" stroke-width="1.2" stroke-linecap="butt"/>
<line x1="496.1" y1="542" x2="496.1" y2="544.5" stroke="#231f20" stroke-width="1.2" stroke-linecap="butt"/>
<line x1="509" y1="542" x2="509" y2="544.5" stroke="#231f20" stroke-width="1.2" stroke-linecap="butt"/>
<line x1="483.5" y1="489.9" x2="509.4" y2="489.9" stroke="#231f20" stroke-width="0.9" stroke-linecap="butt"/>
<line x1="494.7" y1="484.75" x2="494.7" y2="487.45" stroke="#231f20" stroke-width="0.85" stroke-linecap="butt"/>
<line x1="495.87" y1="485.42" x2="493.53" y2="486.77" stroke="#231f20" stroke-width="0.85" stroke-linecap="butt"/>
<line x1="495.87" y1="486.77" x2="493.53" y2="485.42" stroke="#231f20" stroke-width="0.85" stroke-linecap="butt"/>
<circle cx="494.7" cy="486.1" r="0.6" fill="#231f20"/>
<line x1="498.3" y1="484.75" x2="498.3" y2="487.45" stroke="#231f20" stroke-width="0.85" stroke-linecap="butt"/>
<line x1="499.47" y1="485.42" x2="497.13" y2="486.77" stroke="#231f20" stroke-width="0.85" stroke-linecap="butt"/>
<line x1="499.47" y1="486.77" x2="497.13" y2="485.42" stroke="#231f20" stroke-width="0.85" stroke-linecap="butt"/>
<circle cx="498.3" cy="486.1" r="0.6" fill="#231f20"/>
<line x1="496.9" y1="497.8" x2="509.4" y2="497.8" stroke="#231f20" stroke-width="0.9" stroke-linecap="butt"/>
<line x1="503.1" y1="492.65" x2="503.1" y2="495.35" stroke="#231f20" stroke-width="0.85" stroke-linecap="butt"/>
<line x1="504.27" y1="493.32" x2="501.93" y2="494.68" stroke="#231f20" stroke-width="0.85" stroke-linecap="butt"/>
<line x1="504.27" y1="494.68" x2="501.93" y2="493.32" stroke="#231f20" stroke-width="0.85" stroke-linecap="butt"/>
<circle cx="503.1" cy="494" r="0.6" fill="#231f20"/>
<text transform="translate(447.1,520.75) rotate(-90)" x="0" y="0" font-size="8.8" text-anchor="middle" font-weight="normal" fill="#3a3a3a" textLength="52.9" lengthAdjust="spacingAndGlyphs" stroke="#3a3a3a" stroke-width="0.22">IL-1β in ITP murine</text>
<text transform="translate(457.4,519.4) rotate(-90)" x="0" y="0" font-size="8.8" text-anchor="middle" font-weight="normal" fill="#3a3a3a" textLength="42.3" lengthAdjust="spacingAndGlyphs" stroke="#3a3a3a" stroke-width="0.22">serum (pg/ml)</text>
<text transform="translate(487.1,550.9) rotate(-45)" x="0" y="0" font-size="8.6" text-anchor="end" font-weight="normal" fill="#3a3a3a" textLength="12.3" lengthAdjust="spacingAndGlyphs" stroke="#3a3a3a" stroke-width="0.22">Ctrl</text>
<text transform="translate(500,550.9) rotate(-45)" x="0" y="0" font-size="8.6" text-anchor="end" font-weight="normal" fill="#3a3a3a" textLength="38.4" lengthAdjust="spacingAndGlyphs" stroke="#3a3a3a" stroke-width="0.22">PBS-MDSC</text>
<text transform="translate(512.9,550.9) rotate(-45)" x="0" y="0" font-size="8.6" text-anchor="end" font-weight="normal" fill="#3a3a3a" textLength="36.8" lengthAdjust="spacingAndGlyphs" stroke="#3a3a3a" stroke-width="0.22">Dec-MDSC</text>
<rect x="42" y="633.78" width="7.6" height="18.52" fill="#6c81b6" stroke="#274f8f" stroke-width="0.3"/>
<rect x="54.8" y="633.36" width="7.6" height="18.94" fill="#e3705f" stroke="#d3172f" stroke-width="0.3"/>
<rect x="67.4" y="631.25" width="7.6" height="21.05" fill="#90c57b" stroke="#3f9f3a" stroke-width="0.3"/>
<line x1="45.8" y1="624.51" x2="45.8" y2="643.04" stroke="#274f8f" stroke-width="0.9" stroke-linecap="butt"/>
<line x1="43.8" y1="624.51" x2="47.8" y2="624.51" stroke="#274f8f" stroke-width="0.9" stroke-linecap="butt"/>
<line x1="43.8" y1="643.04" x2="47.8" y2="643.04" stroke="#274f8f" stroke-width="0.9" stroke-linecap="butt"/>
<circle cx="45.8" cy="624.51" r="1.2" fill="#274f8f"/>
<circle cx="45.8" cy="628.72" r="1.2" fill="#274f8f"/>
<circle cx="45.8" cy="633.78" r="1.2" fill="#274f8f"/>
<circle cx="45.8" cy="638.83" r="1.2" fill="#274f8f"/>
<circle cx="45.8" cy="642.2" r="1.2" fill="#274f8f"/>
<line x1="58.6" y1="621.99" x2="58.6" y2="644.72" stroke="#d3172f" stroke-width="0.9" stroke-linecap="butt"/>
<line x1="56.6" y1="621.99" x2="60.6" y2="621.99" stroke="#d3172f" stroke-width="0.9" stroke-linecap="butt"/>
<line x1="56.6" y1="644.72" x2="60.6" y2="644.72" stroke="#d3172f" stroke-width="0.9" stroke-linecap="butt"/>
<circle cx="58.6" cy="616.09" r="1.2" fill="#d3172f"/>
<circle cx="58.6" cy="624.51" r="1.2" fill="#d3172f"/>
<circle cx="58.6" cy="630.41" r="1.2" fill="#d3172f"/>
<circle cx="58.6" cy="638.83" r="1.2" fill="#d3172f"/>
<circle cx="58.6" cy="643.88" r="1.2" fill="#d3172f"/>
<line x1="71.2" y1="616.94" x2="71.2" y2="645.56" stroke="#3f9f3a" stroke-width="0.9" stroke-linecap="butt"/>
<line x1="69.2" y1="616.94" x2="73.2" y2="616.94" stroke="#3f9f3a" stroke-width="0.9" stroke-linecap="butt"/>
<line x1="69.2" y1="645.56" x2="73.2" y2="645.56" stroke="#3f9f3a" stroke-width="0.9" stroke-linecap="butt"/>
<circle cx="71.2" cy="616.94" r="1.2" fill="#3f9f3a"/>
<circle cx="71.2" cy="622.83" r="1.2" fill="#3f9f3a"/>
<circle cx="71.2" cy="631.25" r="1.2" fill="#3f9f3a"/>
<circle cx="71.2" cy="639.67" r="1.2" fill="#3f9f3a"/>
<circle cx="71.2" cy="643.88" r="1.2" fill="#3f9f3a"/>
<line x1="37.5" y1="607.7" x2="37.5" y2="652.3" stroke="#231f20" stroke-width="1.2" stroke-linecap="butt"/>
<line x1="35" y1="652.3" x2="37.5" y2="652.3" stroke="#231f20" stroke-width="1.2" stroke-linecap="butt"/>
<text x="33" y="654.54" font-size="6.6" text-anchor="end" font-weight="normal" fill="#3a3a3a" textLength="3.6" lengthAdjust="spacingAndGlyphs" stroke="#3a3a3a" stroke-width="0.22">0</text>
<line x1="35" y1="643.88" x2="37.5" y2="643.88" stroke="#231f20" stroke-width="1.2" stroke-linecap="butt"/>
<text x="33" y="646.12" font-size="6.6" text-anchor="end" font-weight="normal" fill="#3a3a3a" textLength="3.6" lengthAdjust="spacingAndGlyphs" stroke="#3a3a3a" stroke-width="0.22">1</text>
<line x1="35" y1="635.46" x2="37.5" y2="635.46" stroke="#231f20" stroke-width="1.2" stroke-linecap="butt"/>
<text x="33" y="637.7" font-size="6.6" text-anchor="end" font-weight="normal" fill="#3a3a3a" textLength="3.6" lengthAdjust="spacingAndGlyphs" stroke="#3a3a3a" stroke-width="0.22">2</text>
<line x1="35" y1="627.04" x2="37.5" y2="627.04" stroke="#231f20" stroke-width="1.2" stroke-linecap="butt"/>
<text x="33" y="629.28" font-size="6.6" text-anchor="end" font-weight="normal" fill="#3a3a3a" textLength="3.6" lengthAdjust="spacingAndGlyphs" stroke="#3a3a3a" stroke-width="0.22">3</text>
<line x1="35" y1="618.62" x2="37.5" y2="618.62" stroke="#231f20" stroke-width="1.2" stroke-linecap="butt"/>
<text x="33" y="620.86" font-size="6.6" text-anchor="end" font-weight="normal" fill="#3a3a3a" textLength="3.6" lengthAdjust="spacingAndGlyphs" stroke="#3a3a3a" stroke-width="0.22">4</text>
<line x1="35" y1="610.2" x2="37.5" y2="610.2" stroke="#231f20" stroke-width="1.2" stroke-linecap="butt"/>
<text x="33" y="612.44" font-size="6.6" text-anchor="end" font-weight="normal" fill="#3a3a3a" textLength="3.6" lengthAdjust="spacingAndGlyphs" stroke="#3a3a3a" stroke-width="0.22">5</text>
<line x1="37.5" y1="652.3" x2="79.3" y2="652.3" stroke="#231f20" stroke-width="1.2" stroke-linecap="butt"/>
<line x1="45.8" y1="652.3" x2="45.8" y2="654.8" stroke="#231f20" stroke-width="1.2" stroke-linecap="butt"/>
<line x1="58.6" y1="652.3" x2="58.6" y2="654.8" stroke="#231f20" stroke-width="1.2" stroke-linecap="butt"/>
<line x1="71.2" y1="652.3" x2="71.2" y2="654.8" stroke="#231f20" stroke-width="1.2" stroke-linecap="butt"/>
<line x1="45" y1="602.5" x2="70.6" y2="602.5" stroke="#231f20" stroke-width="0.9" stroke-linecap="butt"/>
<text x="58" y="600.5" font-size="7.6" text-anchor="middle" font-weight="normal" fill="#3a3a3a" stroke="#3a3a3a" stroke-width="0.22">ns</text>
<line x1="58" y1="611.1" x2="70.6" y2="611.1" stroke="#231f20" stroke-width="0.9" stroke-linecap="butt"/>
<text x="64.4" y="609.1" font-size="7.6" text-anchor="middle" font-weight="normal" fill="#3a3a3a" stroke="#3a3a3a" stroke-width="0.22">ns</text>
<text transform="translate(13.9,631.5) rotate(-90)" x="0" y="0" font-size="8.8" text-anchor="middle" font-weight="normal" fill="#3a3a3a" textLength="50.2" lengthAdjust="spacingAndGlyphs" stroke="#3a3a3a" stroke-width="0.22">IL-2 in ITP murine</text>
<text transform="translate(23.5,631.5) rotate(-90)" x="0" y="0" font-size="8.8" text-anchor="middle" font-weight="normal" fill="#3a3a3a" textLength="41.5" lengthAdjust="spacingAndGlyphs" stroke="#3a3a3a" stroke-width="0.22">serum (pg/ml)</text>
<text transform="translate(49.7,661.2) rotate(-45)" x="0" y="0" font-size="8.6" text-anchor="end" font-weight="normal" fill="#3a3a3a" textLength="12.3" lengthAdjust="spacingAndGlyphs" stroke="#3a3a3a" stroke-width="0.22">Ctrl</text>
<text transform="translate(62.5,661.2) rotate(-45)" x="0" y="0" font-size="8.6" text-anchor="end" font-weight="normal" fill="#3a3a3a" textLength="38.4" lengthAdjust="spacingAndGlyphs" stroke="#3a3a3a" stroke-width="0.22">PBS-MDSC</text>
<text transform="translate(75.1,661.2) rotate(-45)" x="0" y="0" font-size="8.6" text-anchor="end" font-weight="normal" fill="#3a3a3a" textLength="36.8" lengthAdjust="spacingAndGlyphs" stroke="#3a3a3a" stroke-width="0.22">Dec-MDSC</text>
<rect x="128.8" y="634.93" width="7.6" height="17.37" fill="#6c81b6" stroke="#274f8f" stroke-width="0.3"/>
<rect x="141.2" y="638.88" width="7.6" height="13.42" fill="#e3705f" stroke="#d3172f" stroke-width="0.3"/>
<rect x="154" y="646.25" width="7.6" height="6.05" fill="#90c57b" stroke="#3f9f3a" stroke-width="0.3"/>
<line x1="132.6" y1="623.88" x2="132.6" y2="645.99" stroke="#274f8f" stroke-width="0.9" stroke-linecap="butt"/>
<line x1="130.6" y1="623.88" x2="134.6" y2="623.88" stroke="#274f8f" stroke-width="0.9" stroke-linecap="butt"/>
<line x1="130.6" y1="645.99" x2="134.6" y2="645.99" stroke="#274f8f" stroke-width="0.9" stroke-linecap="butt"/>
<circle cx="132.6" cy="616.51" r="1.2" fill="#274f8f"/>
<circle cx="132.6" cy="628.62" r="1.2" fill="#274f8f"/>
<circle cx="132.6" cy="634.93" r="1.2" fill="#274f8f"/>
<circle cx="132.6" cy="641.77" r="1.2" fill="#274f8f"/>
<circle cx="132.6" cy="645.99" r="1.2" fill="#274f8f"/>
<line x1="145" y1="633.36" x2="145" y2="644.41" stroke="#d3172f" stroke-width="0.9" stroke-linecap="butt"/>
<line x1="143" y1="633.36" x2="147" y2="633.36" stroke="#d3172f" stroke-width="0.9" stroke-linecap="butt"/>
<line x1="143" y1="644.41" x2="147" y2="644.41" stroke="#d3172f" stroke-width="0.9" stroke-linecap="butt"/>
<circle cx="145" cy="631.25" r="1.2" fill="#d3172f"/>
<circle cx="145" cy="634.93" r="1.2" fill="#d3172f"/>
<circle cx="145" cy="638.62" r="1.2" fill="#d3172f"/>
<circle cx="145" cy="641.77" r="1.2" fill="#d3172f"/>
<circle cx="145" cy="644.41" r="1.2" fill="#d3172f"/>
<line x1="157.8" y1="640.99" x2="157.8" y2="651.51" stroke="#3f9f3a" stroke-width="0.9" stroke-linecap="butt"/>
<line x1="155.8" y1="640.99" x2="159.8" y2="640.99" stroke="#3f9f3a" stroke-width="0.9" stroke-linecap="butt"/>
<line x1="155.8" y1="651.51" x2="159.8" y2="651.51" stroke="#3f9f3a" stroke-width="0.9" stroke-linecap="butt"/>
<circle cx="157.8" cy="638.09" r="1.2" fill="#3f9f3a"/>
<circle cx="157.8" cy="644.41" r="1.2" fill="#3f9f3a"/>
<circle cx="157.8" cy="647.04" r="1.2" fill="#3f9f3a"/>
<circle cx="157.8" cy="649.14" r="1.2" fill="#3f9f3a"/>
<circle cx="157.8" cy="650.72" r="1.2" fill="#3f9f3a"/>
<line x1="123.9" y1="607.7" x2="123.9" y2="652.3" stroke="#231f20" stroke-width="1.2" stroke-linecap="butt"/>
<line x1="121.4" y1="652.3" x2="123.9" y2="652.3" stroke="#231f20" stroke-width="1.2" stroke-linecap="butt"/>
<text x="119.4" y="654.54" font-size="6.6" text-anchor="end" font-weight="normal" fill="#3a3a3a" textLength="3.6" lengthAdjust="spacingAndGlyphs" stroke="#3a3a3a" stroke-width="0.22">0</text>
<line x1="121.4" y1="641.77" x2="123.9" y2="641.77" stroke="#231f20" stroke-width="1.2" stroke-linecap="butt"/>
<text x="119.4" y="644.02" font-size="6.6" text-anchor="end" font-weight="normal" fill="#3a3a3a" textLength="10.8" lengthAdjust="spacingAndGlyphs" stroke="#3a3a3a" stroke-width="0.22">200</text>
<line x1="121.4" y1="631.25" x2="123.9" y2="631.25" stroke="#231f20" stroke-width="1.2" stroke-linecap="butt"/>
<text x="119.4" y="633.49" font-size="6.6" text-anchor="end" font-weight="normal" fill="#3a3a3a" textLength="10.8" lengthAdjust="spacingAndGlyphs" stroke="#3a3a3a" stroke-width="0.22">400</text>
<line x1="121.4" y1="620.73" x2="123.9" y2="620.73" stroke="#231f20" stroke-width="1.2" stroke-linecap="butt"/>
<text x="119.4" y="622.97" font-size="6.6" text-anchor="end" font-weight="normal" fill="#3a3a3a" textLength="10.8" lengthAdjust="spacingAndGlyphs" stroke="#3a3a3a" stroke-width="0.22">600</text>
<line x1="121.4" y1="610.2" x2="123.9" y2="610.2" stroke="#231f20" stroke-width="1.2" stroke-linecap="butt"/>
<text x="119.4" y="612.44" font-size="6.6" text-anchor="end" font-weight="normal" fill="#3a3a3a" textLength="10.8" lengthAdjust="spacingAndGlyphs" stroke="#3a3a3a" stroke-width="0.22">800</text>
<line x1="123.9" y1="652.3" x2="165" y2="652.3" stroke="#231f20" stroke-width="1.2" stroke-linecap="butt"/>
<line x1="132.6" y1="652.3" x2="132.6" y2="654.8" stroke="#231f20" stroke-width="1.2" stroke-linecap="butt"/>
<line x1="145" y1="652.3" x2="145" y2="654.8" stroke="#231f20" stroke-width="1.2" stroke-linecap="butt"/>
<line x1="157.8" y1="652.3" x2="157.8" y2="654.8" stroke="#231f20" stroke-width="1.2" stroke-linecap="butt"/>
<line x1="133.3" y1="601.8" x2="157.9" y2="601.8" stroke="#231f20" stroke-width="0.9" stroke-linecap="butt"/>
<line x1="145.4" y1="596.65" x2="145.4" y2="599.35" stroke="#231f20" stroke-width="0.85" stroke-linecap="butt"/>
<line x1="146.57" y1="597.33" x2="144.23" y2="598.67" stroke="#231f20" stroke-width="0.85" stroke-linecap="butt"/>
<line x1="146.57" y1="598.67" x2="144.23" y2="597.33" stroke="#231f20" stroke-width="0.85" stroke-linecap="butt"/>
<circle cx="145.4" cy="598" r="0.6" fill="#231f20"/>
<line x1="145.4" y1="610.2" x2="157.9" y2="610.2" stroke="#231f20" stroke-width="0.9" stroke-linecap="butt"/>
<line x1="151.3" y1="605.05" x2="151.3" y2="607.75" stroke="#231f20" stroke-width="0.85" stroke-linecap="butt"/>
<line x1="152.47" y1="605.73" x2="150.13" y2="607.08" stroke="#231f20" stroke-width="0.85" stroke-linecap="butt"/>
<line x1="152.47" y1="607.08" x2="150.13" y2="605.73" stroke="#231f20" stroke-width="0.85" stroke-linecap="butt"/>
<circle cx="151.3" cy="606.4" r="0.6" fill="#231f20"/>
<text transform="translate(94.7,631.5) rotate(-90)" x="0" y="0" font-size="8.8" text-anchor="middle" font-weight="normal" fill="#3a3a3a" textLength="50.2" lengthAdjust="spacingAndGlyphs" stroke="#3a3a3a" stroke-width="0.22">IL-6 in ITP murine</text>
<text transform="translate(105.2,631.4) rotate(-90)" x="0" y="0" font-size="8.8" text-anchor="middle" font-weight="normal" fill="#3a3a3a" textLength="41.2" lengthAdjust="spacingAndGlyphs" stroke="#3a3a3a" stroke-width="0.22">serum (pg/ml)</text>
<text transform="translate(136.5,661.2) rotate(-45)" x="0" y="0" font-size="8.6" text-anchor="end" font-weight="normal" fill="#3a3a3a" textLength="12.3" lengthAdjust="spacingAndGlyphs" stroke="#3a3a3a" stroke-width="0.22">Ctrl</text>
<text transform="translate(148.9,661.2) rotate(-45)" x="0" y="0" font-size="8.6" text-anchor="end" font-weight="normal" fill="#3a3a3a" textLength="38.4" lengthAdjust="spacingAndGlyphs" stroke="#3a3a3a" stroke-width="0.22">PBS-MDSC</text>
<text transform="translate(161.7,661.2) rotate(-45)" x="0" y="0" font-size="8.6" text-anchor="end" font-weight="normal" fill="#3a3a3a" textLength="36.8" lengthAdjust="spacingAndGlyphs" stroke="#3a3a3a" stroke-width="0.22">Dec-MDSC</text>
<rect x="216.9" y="635.04" width="7.6" height="17.26" fill="#6c81b6" stroke="#274f8f" stroke-width="0.3"/>
<rect x="229.1" y="637.14" width="7.6" height="15.16" fill="#e3705f" stroke="#d3172f" stroke-width="0.3"/>
<rect x="242.1" y="640.51" width="7.6" height="11.79" fill="#90c57b" stroke="#3f9f3a" stroke-width="0.3"/>
<line x1="220.7" y1="623.25" x2="220.7" y2="646.83" stroke="#274f8f" stroke-width="0.9" stroke-linecap="butt"/>
<line x1="218.7" y1="623.25" x2="222.7" y2="623.25" stroke="#274f8f" stroke-width="0.9" stroke-linecap="butt"/>
<line x1="218.7" y1="646.83" x2="222.7" y2="646.83" stroke="#274f8f" stroke-width="0.9" stroke-linecap="butt"/>
<circle cx="220.7" cy="615.25" r="1.2" fill="#274f8f"/>
<circle cx="220.7" cy="627.04" r="1.2" fill="#274f8f"/>
<circle cx="220.7" cy="633.36" r="1.2" fill="#274f8f"/>
<circle cx="220.7" cy="639.67" r="1.2" fill="#274f8f"/>
<circle cx="220.7" cy="645.99" r="1.2" fill="#274f8f"/>
<line x1="232.9" y1="628.3" x2="232.9" y2="645.99" stroke="#d3172f" stroke-width="0.9" stroke-linecap="butt"/>
<line x1="230.9" y1="628.3" x2="234.9" y2="628.3" stroke="#d3172f" stroke-width="0.9" stroke-linecap="butt"/>
<line x1="230.9" y1="645.99" x2="234.9" y2="645.99" stroke="#d3172f" stroke-width="0.9" stroke-linecap="butt"/>
<circle cx="232.9" cy="621.57" r="1.2" fill="#d3172f"/>
<circle cx="232.9" cy="631.25" r="1.2" fill="#d3172f"/>
<circle cx="232.9" cy="636.3" r="1.2" fill="#d3172f"/>
<circle cx="232.9" cy="641.77" r="1.2" fill="#d3172f"/>
<circle cx="232.9" cy="647.25" r="1.2" fill="#d3172f"/>
<line x1="245.9" y1="633.36" x2="245.9" y2="647.67" stroke="#3f9f3a" stroke-width="0.9" stroke-linecap="butt"/>
<line x1="243.9" y1="633.36" x2="247.9" y2="633.36" stroke="#3f9f3a" stroke-width="0.9" stroke-linecap="butt"/>
<line x1="243.9" y1="647.67" x2="247.9" y2="647.67" stroke="#3f9f3a" stroke-width="0.9" stroke-linecap="butt"/>
<circle cx="245.9" cy="631.25" r="1.2" fill="#3f9f3a"/>
<circle cx="245.9" cy="635.46" r="1.2" fill="#3f9f3a"/>
<circle cx="245.9" cy="639.67" r="1.2" fill="#3f9f3a"/>
<circle cx="245.9" cy="643.88" r="1.2" fill="#3f9f3a"/>
<circle cx="245.9" cy="648.09" r="1.2" fill="#3f9f3a"/>
<line x1="212.1" y1="607.7" x2="212.1" y2="652.3" stroke="#231f20" stroke-width="1.2" stroke-linecap="butt"/>
<line x1="209.6" y1="652.3" x2="212.1" y2="652.3" stroke="#231f20" stroke-width="1.2" stroke-linecap="butt"/>
<text x="207.6" y="654.54" font-size="6.6" text-anchor="end" font-weight="normal" fill="#3a3a3a" textLength="3.6" lengthAdjust="spacingAndGlyphs" stroke="#3a3a3a" stroke-width="0.22">0</text>
<line x1="209.6" y1="643.88" x2="212.1" y2="643.88" stroke="#231f20" stroke-width="1.2" stroke-linecap="butt"/>
<text x="207.6" y="646.12" font-size="6.6" text-anchor="end" font-weight="normal" fill="#3a3a3a" textLength="7.2" lengthAdjust="spacingAndGlyphs" stroke="#3a3a3a" stroke-width="0.22">20</text>
<line x1="209.6" y1="635.46" x2="212.1" y2="635.46" stroke="#231f20" stroke-width="1.2" stroke-linecap="butt"/>
<text x="207.6" y="637.7" font-size="6.6" text-anchor="end" font-weight="normal" fill="#3a3a3a" textLength="7.2" lengthAdjust="spacingAndGlyphs" stroke="#3a3a3a" stroke-width="0.22">40</text>
<line x1="209.6" y1="627.04" x2="212.1" y2="627.04" stroke="#231f20" stroke-width="1.2" stroke-linecap="butt"/>
<text x="207.6" y="629.28" font-size="6.6" text-anchor="end" font-weight="normal" fill="#3a3a3a" textLength="7.2" lengthAdjust="spacingAndGlyphs" stroke="#3a3a3a" stroke-width="0.22">60</text>
<line x1="209.6" y1="618.62" x2="212.1" y2="618.62" stroke="#231f20" stroke-width="1.2" stroke-linecap="butt"/>
<text x="207.6" y="620.86" font-size="6.6" text-anchor="end" font-weight="normal" fill="#3a3a3a" textLength="7.2" lengthAdjust="spacingAndGlyphs" stroke="#3a3a3a" stroke-width="0.22">80</text>
<line x1="209.6" y1="610.2" x2="212.1" y2="610.2" stroke="#231f20" stroke-width="1.2" stroke-linecap="butt"/>
<text x="207.6" y="612.44" font-size="6.6" text-anchor="end" font-weight="normal" fill="#3a3a3a" textLength="10.8" lengthAdjust="spacingAndGlyphs" stroke="#3a3a3a" stroke-width="0.22">100</text>
<line x1="212.1" y1="652.3" x2="251.5" y2="652.3" stroke="#231f20" stroke-width="1.2" stroke-linecap="butt"/>
<line x1="220.7" y1="652.3" x2="220.7" y2="654.8" stroke="#231f20" stroke-width="1.2" stroke-linecap="butt"/>
<line x1="232.9" y1="652.3" x2="232.9" y2="654.8" stroke="#231f20" stroke-width="1.2" stroke-linecap="butt"/>
<line x1="245.9" y1="652.3" x2="245.9" y2="654.8" stroke="#231f20" stroke-width="1.2" stroke-linecap="butt"/>
<line x1="222.1" y1="602.1" x2="247.7" y2="602.1" stroke="#231f20" stroke-width="0.9" stroke-linecap="butt"/>
<text x="235.1" y="600.1" font-size="7.6" text-anchor="middle" font-weight="normal" fill="#3a3a3a" stroke="#3a3a3a" stroke-width="0.22">ns</text>
<line x1="235.1" y1="610.4" x2="247.7" y2="610.4" stroke="#231f20" stroke-width="0.9" stroke-linecap="butt"/>
<text x="241.2" y="608.4" font-size="7.6" text-anchor="middle" font-weight="normal" fill="#3a3a3a" stroke="#3a3a3a" stroke-width="0.22">ns</text>
<text transform="translate(182,631.95) rotate(-90)" x="0" y="0" font-size="8.8" text-anchor="middle" font-weight="normal" fill="#3a3a3a" textLength="51.1" lengthAdjust="spacingAndGlyphs" stroke="#3a3a3a" stroke-width="0.22">IL-13 in ITP murine</text>
<text transform="translate(192.5,631.1) rotate(-90)" x="0" y="0" font-size="8.8" text-anchor="middle" font-weight="normal" fill="#3a3a3a" textLength="42.4" lengthAdjust="spacingAndGlyphs" stroke="#3a3a3a" stroke-width="0.22">serum (pg/ml)</text>
<text transform="translate(224.6,661.2) rotate(-45)" x="0" y="0" font-size="8.6" text-anchor="end" font-weight="normal" fill="#3a3a3a" textLength="12.3" lengthAdjust="spacingAndGlyphs" stroke="#3a3a3a" stroke-width="0.22">Ctrl</text>
<text transform="translate(236.8,661.2) rotate(-45)" x="0" y="0" font-size="8.6" text-anchor="end" font-weight="normal" fill="#3a3a3a" textLength="38.4" lengthAdjust="spacingAndGlyphs" stroke="#3a3a3a" stroke-width="0.22">PBS-MDSC</text>
<text transform="translate(249.8,661.2) rotate(-45)" x="0" y="0" font-size="8.6" text-anchor="end" font-weight="normal" fill="#3a3a3a" textLength="36.8" lengthAdjust="spacingAndGlyphs" stroke="#3a3a3a" stroke-width="0.22">Dec-MDSC</text>
<rect x="305.6" y="634.41" width="7.6" height="17.89" fill="#6c81b6" stroke="#274f8f" stroke-width="0.3"/>
<rect x="318.3" y="643.88" width="7.6" height="8.42" fill="#e3705f" stroke="#d3172f" stroke-width="0.3"/>
<rect x="331" y="645.99" width="7.6" height="6.31" fill="#90c57b" stroke="#3f9f3a" stroke-width="0.3"/>
<line x1="309.4" y1="625.64" x2="309.4" y2="643.18" stroke="#274f8f" stroke-width="0.9" stroke-linecap="butt"/>
<line x1="307.4" y1="625.64" x2="311.4" y2="625.64" stroke="#274f8f" stroke-width="0.9" stroke-linecap="butt"/>
<line x1="307.4" y1="643.18" x2="311.4" y2="643.18" stroke="#274f8f" stroke-width="0.9" stroke-linecap="butt"/>
<circle cx="309.4" cy="619.32" r="1.2" fill="#274f8f"/>
<circle cx="309.4" cy="627.74" r="1.2" fill="#274f8f"/>
<circle cx="309.4" cy="634.76" r="1.2" fill="#274f8f"/>
<circle cx="309.4" cy="639.67" r="1.2" fill="#274f8f"/>
<circle cx="309.4" cy="642.48" r="1.2" fill="#274f8f"/>
<line x1="322.1" y1="640.37" x2="322.1" y2="647.39" stroke="#d3172f" stroke-width="0.9" stroke-linecap="butt"/>
<line x1="320.1" y1="640.37" x2="324.1" y2="640.37" stroke="#d3172f" stroke-width="0.9" stroke-linecap="butt"/>
<line x1="320.1" y1="647.39" x2="324.1" y2="647.39" stroke="#d3172f" stroke-width="0.9" stroke-linecap="butt"/>
<circle cx="322.1" cy="637.56" r="1.2" fill="#d3172f"/>
<circle cx="322.1" cy="641.07" r="1.2" fill="#d3172f"/>
<circle cx="322.1" cy="643.88" r="1.2" fill="#d3172f"/>
<circle cx="322.1" cy="645.99" r="1.2" fill="#d3172f"/>
<circle cx="322.1" cy="647.39" r="1.2" fill="#d3172f"/>
<line x1="334.8" y1="644.58" x2="334.8" y2="647.39" stroke="#3f9f3a" stroke-width="0.9" stroke-linecap="butt"/>
<line x1="332.8" y1="644.58" x2="336.8" y2="644.58" stroke="#3f9f3a" stroke-width="0.9" stroke-linecap="butt"/>
<line x1="332.8" y1="647.39" x2="336.8" y2="647.39" stroke="#3f9f3a" stroke-width="0.9" stroke-linecap="butt"/>
<circle cx="334.8" cy="644.58" r="1.2" fill="#3f9f3a"/>
<circle cx="334.8" cy="645.28" r="1.2" fill="#3f9f3a"/>
<circle cx="334.8" cy="645.99" r="1.2" fill="#3f9f3a"/>
<circle cx="334.8" cy="646.69" r="1.2" fill="#3f9f3a"/>
<circle cx="334.8" cy="647.39" r="1.2" fill="#3f9f3a"/>
<line x1="301" y1="607.7" x2="301" y2="652.3" stroke="#231f20" stroke-width="1.2" stroke-linecap="butt"/>
<line x1="298.5" y1="652.3" x2="301" y2="652.3" stroke="#231f20" stroke-width="1.2" stroke-linecap="butt"/>
<text x="296.5" y="654.54" font-size="6.6" text-anchor="end" font-weight="normal" fill="#3a3a3a" textLength="3.6" lengthAdjust="spacingAndGlyphs" stroke="#3a3a3a" stroke-width="0.22">0</text>
<line x1="298.5" y1="638.27" x2="301" y2="638.27" stroke="#231f20" stroke-width="1.2" stroke-linecap="butt"/>
<text x="296.5" y="640.51" font-size="6.6" text-anchor="end" font-weight="normal" fill="#3a3a3a" textLength="7.2" lengthAdjust="spacingAndGlyphs" stroke="#3a3a3a" stroke-width="0.22">20</text>
<line x1="298.5" y1="624.23" x2="301" y2="624.23" stroke="#231f20" stroke-width="1.2" stroke-linecap="butt"/>
<text x="296.5" y="626.48" font-size="6.6" text-anchor="end" font-weight="normal" fill="#3a3a3a" textLength="7.2" lengthAdjust="spacingAndGlyphs" stroke="#3a3a3a" stroke-width="0.22">40</text>
<line x1="298.5" y1="610.2" x2="301" y2="610.2" stroke="#231f20" stroke-width="1.2" stroke-linecap="butt"/>
<text x="296.5" y="612.44" font-size="6.6" text-anchor="end" font-weight="normal" fill="#3a3a3a" textLength="7.2" lengthAdjust="spacingAndGlyphs" stroke="#3a3a3a" stroke-width="0.22">60</text>
<line x1="301" y1="652.3" x2="341.5" y2="652.3" stroke="#231f20" stroke-width="1.2" stroke-linecap="butt"/>
<line x1="309.4" y1="652.3" x2="309.4" y2="654.8" stroke="#231f20" stroke-width="1.2" stroke-linecap="butt"/>
<line x1="322.1" y1="652.3" x2="322.1" y2="654.8" stroke="#231f20" stroke-width="1.2" stroke-linecap="butt"/>
<line x1="334.8" y1="652.3" x2="334.8" y2="654.8" stroke="#231f20" stroke-width="1.2" stroke-linecap="butt"/>
<line x1="310.2" y1="601.2" x2="335.7" y2="601.2" stroke="#231f20" stroke-width="0.9" stroke-linecap="butt"/>
<line x1="320.9" y1="596.05" x2="320.9" y2="598.75" stroke="#231f20" stroke-width="0.85" stroke-linecap="butt"/>
<line x1="322.07" y1="596.73" x2="319.73" y2="598.08" stroke="#231f20" stroke-width="0.85" stroke-linecap="butt"/>
<line x1="322.07" y1="598.08" x2="319.73" y2="596.73" stroke="#231f20" stroke-width="0.85" stroke-linecap="butt"/>
<circle cx="320.9" cy="597.4" r="0.6" fill="#231f20"/>
<line x1="324.5" y1="596.05" x2="324.5" y2="598.75" stroke="#231f20" stroke-width="0.85" stroke-linecap="butt"/>
<line x1="325.67" y1="596.73" x2="323.33" y2="598.08" stroke="#231f20" stroke-width="0.85" stroke-linecap="butt"/>
<line x1="325.67" y1="598.08" x2="323.33" y2="596.73" stroke="#231f20" stroke-width="0.85" stroke-linecap="butt"/>
<circle cx="324.5" cy="597.4" r="0.6" fill="#231f20"/>
<line x1="324.1" y1="609.6" x2="335.7" y2="609.6" stroke="#231f20" stroke-width="0.9" stroke-linecap="butt"/>
<line x1="330" y1="604.45" x2="330" y2="607.15" stroke="#231f20" stroke-width="0.85" stroke-linecap="butt"/>
<line x1="331.17" y1="605.13" x2="328.83" y2="606.48" stroke="#231f20" stroke-width="0.85" stroke-linecap="butt"/>
<line x1="331.17" y1="606.48" x2="328.83" y2="605.13" stroke="#231f20" stroke-width="0.85" stroke-linecap="butt"/>
<circle cx="330" cy="605.8" r="0.6" fill="#231f20"/>
<text transform="translate(274.4,629.8) rotate(-90)" x="0" y="0" font-size="8.8" text-anchor="middle" font-weight="normal" fill="#3a3a3a" textLength="55.4" lengthAdjust="spacingAndGlyphs" stroke="#3a3a3a" stroke-width="0.22">IL-17a in ITP murine</text>
<text transform="translate(284.7,629.35) rotate(-90)" x="0" y="0" font-size="8.8" text-anchor="middle" font-weight="normal" fill="#3a3a3a" textLength="44.1" lengthAdjust="spacingAndGlyphs" stroke="#3a3a3a" stroke-width="0.22">serum (pg/ml)</text>
<text transform="translate(313.3,661.2) rotate(-45)" x="0" y="0" font-size="8.6" text-anchor="end" font-weight="normal" fill="#3a3a3a" textLength="12.3" lengthAdjust="spacingAndGlyphs" stroke="#3a3a3a" stroke-width="0.22">Ctrl</text>
<text transform="translate(326,661.2) rotate(-45)" x="0" y="0" font-size="8.6" text-anchor="end" font-weight="normal" fill="#3a3a3a" textLength="38.4" lengthAdjust="spacingAndGlyphs" stroke="#3a3a3a" stroke-width="0.22">PBS-MDSC</text>
<text transform="translate(338.7,661.2) rotate(-45)" x="0" y="0" font-size="8.6" text-anchor="end" font-weight="normal" fill="#3a3a3a" textLength="36.8" lengthAdjust="spacingAndGlyphs" stroke="#3a3a3a" stroke-width="0.22">Dec-MDSC</text>
<rect x="394.8" y="635.99" width="7.6" height="16.31" fill="#6c81b6" stroke="#274f8f" stroke-width="0.3"/>
<rect x="407.1" y="641.77" width="7.6" height="10.52" fill="#e3705f" stroke="#d3172f" stroke-width="0.3"/>
<rect x="419.9" y="650.19" width="7.6" height="2.11" fill="#90c57b" stroke="#3f9f3a" stroke-width="0.3"/>
<line x1="398.6" y1="625.46" x2="398.6" y2="646.51" stroke="#274f8f" stroke-width="0.9" stroke-linecap="butt"/>
<line x1="396.6" y1="625.46" x2="400.6" y2="625.46" stroke="#274f8f" stroke-width="0.9" stroke-linecap="butt"/>
<line x1="396.6" y1="646.51" x2="400.6" y2="646.51" stroke="#274f8f" stroke-width="0.9" stroke-linecap="butt"/>
<circle cx="398.6" cy="621.78" r="1.2" fill="#274f8f"/>
<circle cx="398.6" cy="631.25" r="1.2" fill="#274f8f"/>
<circle cx="398.6" cy="636.51" r="1.2" fill="#274f8f"/>
<circle cx="398.6" cy="641.77" r="1.2" fill="#274f8f"/>
<circle cx="398.6" cy="645.99" r="1.2" fill="#274f8f"/>
<line x1="410.9" y1="636.51" x2="410.9" y2="647.04" stroke="#d3172f" stroke-width="0.9" stroke-linecap="butt"/>
<line x1="408.9" y1="636.51" x2="412.9" y2="636.51" stroke="#d3172f" stroke-width="0.9" stroke-linecap="butt"/>
<line x1="408.9" y1="647.04" x2="412.9" y2="647.04" stroke="#d3172f" stroke-width="0.9" stroke-linecap="butt"/>
<circle cx="410.9" cy="633.88" r="1.2" fill="#d3172f"/>
<circle cx="410.9" cy="635.46" r="1.2" fill="#d3172f"/>
<circle cx="410.9" cy="639.67" r="1.2" fill="#d3172f"/>
<circle cx="410.9" cy="643.88" r="1.2" fill="#d3172f"/>
<circle cx="410.9" cy="645.99" r="1.2" fill="#d3172f"/>
<line x1="423.7" y1="647.56" x2="423.7" y2="652.3" stroke="#3f9f3a" stroke-width="0.9" stroke-linecap="butt"/>
<line x1="421.7" y1="647.56" x2="425.7" y2="647.56" stroke="#3f9f3a" stroke-width="0.9" stroke-linecap="butt"/>
<line x1="421.7" y1="652.3" x2="425.7" y2="652.3" stroke="#3f9f3a" stroke-width="0.9" stroke-linecap="butt"/>
<circle cx="423.7" cy="647.56" r="1.2" fill="#3f9f3a"/>
<circle cx="423.7" cy="649.14" r="1.2" fill="#3f9f3a"/>
<circle cx="423.7" cy="650.19" r="1.2" fill="#3f9f3a"/>
<circle cx="423.7" cy="651.25" r="1.2" fill="#3f9f3a"/>
<circle cx="423.7" cy="651.77" r="1.2" fill="#3f9f3a"/>
<line x1="389.8" y1="607.7" x2="389.8" y2="652.3" stroke="#231f20" stroke-width="1.2" stroke-linecap="butt"/>
<line x1="387.3" y1="652.3" x2="389.8" y2="652.3" stroke="#231f20" stroke-width="1.2" stroke-linecap="butt"/>
<text x="385.3" y="654.54" font-size="6.6" text-anchor="end" font-weight="normal" fill="#3a3a3a" textLength="3.6" lengthAdjust="spacingAndGlyphs" stroke="#3a3a3a" stroke-width="0.22">0</text>
<line x1="387.3" y1="641.77" x2="389.8" y2="641.77" stroke="#231f20" stroke-width="1.2" stroke-linecap="butt"/>
<text x="385.3" y="644.02" font-size="6.6" text-anchor="end" font-weight="normal" fill="#3a3a3a" textLength="10.8" lengthAdjust="spacingAndGlyphs" stroke="#3a3a3a" stroke-width="0.22">100</text>
<line x1="387.3" y1="631.25" x2="389.8" y2="631.25" stroke="#231f20" stroke-width="1.2" stroke-linecap="butt"/>
<text x="385.3" y="633.49" font-size="6.6" text-anchor="end" font-weight="normal" fill="#3a3a3a" textLength="10.8" lengthAdjust="spacingAndGlyphs" stroke="#3a3a3a" stroke-width="0.22">200</text>
<line x1="387.3" y1="620.73" x2="389.8" y2="620.73" stroke="#231f20" stroke-width="1.2" stroke-linecap="butt"/>
<text x="385.3" y="622.97" font-size="6.6" text-anchor="end" font-weight="normal" fill="#3a3a3a" textLength="10.8" lengthAdjust="spacingAndGlyphs" stroke="#3a3a3a" stroke-width="0.22">300</text>
<line x1="387.3" y1="610.2" x2="389.8" y2="610.2" stroke="#231f20" stroke-width="1.2" stroke-linecap="butt"/>
<text x="385.3" y="612.44" font-size="6.6" text-anchor="end" font-weight="normal" fill="#3a3a3a" textLength="10.8" lengthAdjust="spacingAndGlyphs" stroke="#3a3a3a" stroke-width="0.22">400</text>
<line x1="389.8" y1="652.3" x2="430.5" y2="652.3" stroke="#231f20" stroke-width="1.2" stroke-linecap="butt"/>
<line x1="398.6" y1="652.3" x2="398.6" y2="654.8" stroke="#231f20" stroke-width="1.2" stroke-linecap="butt"/>
<line x1="410.9" y1="652.3" x2="410.9" y2="654.8" stroke="#231f20" stroke-width="1.2" stroke-linecap="butt"/>
<line x1="423.7" y1="652.3" x2="423.7" y2="654.8" stroke="#231f20" stroke-width="1.2" stroke-linecap="butt"/>
<line x1="399.4" y1="601.2" x2="425" y2="601.2" stroke="#231f20" stroke-width="0.9" stroke-linecap="butt"/>
<line x1="410.2" y1="596.05" x2="410.2" y2="598.75" stroke="#231f20" stroke-width="0.85" stroke-linecap="butt"/>
<line x1="411.37" y1="596.73" x2="409.03" y2="598.08" stroke="#231f20" stroke-width="0.85" stroke-linecap="butt"/>
<line x1="411.37" y1="598.08" x2="409.03" y2="596.73" stroke="#231f20" stroke-width="0.85" stroke-linecap="butt"/>
<circle cx="410.2" cy="597.4" r="0.6" fill="#231f20"/>
<line x1="413.8" y1="596.05" x2="413.8" y2="598.75" stroke="#231f20" stroke-width="0.85" stroke-linecap="butt"/>
<line x1="414.97" y1="596.73" x2="412.63" y2="598.08" stroke="#231f20" stroke-width="0.85" stroke-linecap="butt"/>
<line x1="414.97" y1="598.08" x2="412.63" y2="596.73" stroke="#231f20" stroke-width="0.85" stroke-linecap="butt"/>
<circle cx="413.8" cy="597.4" r="0.6" fill="#231f20"/>
<line x1="412.5" y1="609.6" x2="425" y2="609.6" stroke="#231f20" stroke-width="0.9" stroke-linecap="butt"/>
<line x1="417.1" y1="604.45" x2="417.1" y2="607.15" stroke="#231f20" stroke-width="0.85" stroke-linecap="butt"/>
<line x1="418.27" y1="605.13" x2="415.93" y2="606.48" stroke="#231f20" stroke-width="0.85" stroke-linecap="butt"/>
<line x1="418.27" y1="606.48" x2="415.93" y2="605.13" stroke="#231f20" stroke-width="0.85" stroke-linecap="butt"/>
<circle cx="417.1" cy="605.8" r="0.6" fill="#231f20"/>
<line x1="420.7" y1="604.45" x2="420.7" y2="607.15" stroke="#231f20" stroke-width="0.85" stroke-linecap="butt"/>
<line x1="421.87" y1="605.13" x2="419.53" y2="606.48" stroke="#231f20" stroke-width="0.85" stroke-linecap="butt"/>
<line x1="421.87" y1="606.48" x2="419.53" y2="605.13" stroke="#231f20" stroke-width="0.85" stroke-linecap="butt"/>
<circle cx="420.7" cy="605.8" r="0.6" fill="#231f20"/>
<text transform="translate(359.3,630.25) rotate(-90)" x="0" y="0" font-size="8.8" text-anchor="middle" font-weight="normal" fill="#3a3a3a" textLength="54.5" lengthAdjust="spacingAndGlyphs" stroke="#3a3a3a" stroke-width="0.22">IFN-γ in ITP murine</text>
<text transform="translate(369.7,630.2) rotate(-90)" x="0" y="0" font-size="8.8" text-anchor="middle" font-weight="normal" fill="#3a3a3a" textLength="42.4" lengthAdjust="spacingAndGlyphs" stroke="#3a3a3a" stroke-width="0.22">serum (pg/ml)</text>
<text transform="translate(402.5,661.2) rotate(-45)" x="0" y="0" font-size="8.6" text-anchor="end" font-weight="normal" fill="#3a3a3a" textLength="12.3" lengthAdjust="spacingAndGlyphs" stroke="#3a3a3a" stroke-width="0.22">Ctrl</text>
<text transform="translate(414.8,661.2) rotate(-45)" x="0" y="0" font-size="8.6" text-anchor="end" font-weight="normal" fill="#3a3a3a" textLength="38.4" lengthAdjust="spacingAndGlyphs" stroke="#3a3a3a" stroke-width="0.22">PBS-MDSC</text>
<text transform="translate(427.6,661.2) rotate(-45)" x="0" y="0" font-size="8.6" text-anchor="end" font-weight="normal" fill="#3a3a3a" textLength="36.8" lengthAdjust="spacingAndGlyphs" stroke="#3a3a3a" stroke-width="0.22">Dec-MDSC</text>
<rect x="479.2" y="627.67" width="7.6" height="24.63" fill="#6c81b6" stroke="#274f8f" stroke-width="0.3"/>
<rect x="492" y="631.88" width="7.6" height="20.42" fill="#e3705f" stroke="#d3172f" stroke-width="0.3"/>
<rect x="505.2" y="642.2" width="7.6" height="10.1" fill="#90c57b" stroke="#3f9f3a" stroke-width="0.3"/>
<line x1="483" y1="618.2" x2="483" y2="637.14" stroke="#274f8f" stroke-width="0.9" stroke-linecap="butt"/>
<line x1="481" y1="618.2" x2="485" y2="618.2" stroke="#274f8f" stroke-width="0.9" stroke-linecap="butt"/>
<line x1="481" y1="637.14" x2="485" y2="637.14" stroke="#274f8f" stroke-width="0.9" stroke-linecap="butt"/>
<circle cx="483" cy="617.57" r="1.2" fill="#274f8f"/>
<circle cx="483" cy="624.94" r="1.2" fill="#274f8f"/>
<circle cx="483" cy="629.14" r="1.2" fill="#274f8f"/>
<circle cx="483" cy="633.36" r="1.2" fill="#274f8f"/>
<circle cx="483" cy="635.46" r="1.2" fill="#274f8f"/>
<line x1="495.8" y1="625.15" x2="495.8" y2="638.62" stroke="#d3172f" stroke-width="0.9" stroke-linecap="butt"/>
<line x1="493.8" y1="625.15" x2="497.8" y2="625.15" stroke="#d3172f" stroke-width="0.9" stroke-linecap="butt"/>
<line x1="493.8" y1="638.62" x2="497.8" y2="638.62" stroke="#d3172f" stroke-width="0.9" stroke-linecap="butt"/>
<circle cx="495.8" cy="624.94" r="1.2" fill="#d3172f"/>
<circle cx="495.8" cy="625.99" r="1.2" fill="#d3172f"/>
<circle cx="495.8" cy="631.25" r="1.2" fill="#d3172f"/>
<circle cx="495.8" cy="635.46" r="1.2" fill="#d3172f"/>
<circle cx="495.8" cy="641.77" r="1.2" fill="#d3172f"/>
<line x1="509" y1="636.09" x2="509" y2="648.3" stroke="#3f9f3a" stroke-width="0.9" stroke-linecap="butt"/>
<line x1="507" y1="636.09" x2="511" y2="636.09" stroke="#3f9f3a" stroke-width="0.9" stroke-linecap="butt"/>
<line x1="507" y1="648.3" x2="511" y2="648.3" stroke="#3f9f3a" stroke-width="0.9" stroke-linecap="butt"/>
<circle cx="509" cy="633.99" r="1.2" fill="#3f9f3a"/>
<circle cx="509" cy="639.67" r="1.2" fill="#3f9f3a"/>
<circle cx="509" cy="641.77" r="1.2" fill="#3f9f3a"/>
<circle cx="509" cy="645.99" r="1.2" fill="#3f9f3a"/>
<circle cx="509" cy="648.09" r="1.2" fill="#3f9f3a"/>
<line x1="474.7" y1="607.7" x2="474.7" y2="652.3" stroke="#231f20" stroke-width="1.2" stroke-linecap="butt"/>
<line x1="472.2" y1="652.3" x2="474.7" y2="652.3" stroke="#231f20" stroke-width="1.2" stroke-linecap="butt"/>
<text x="470.2" y="654.54" font-size="6.6" text-anchor="end" font-weight="normal" fill="#3a3a3a" textLength="3.6" lengthAdjust="spacingAndGlyphs" stroke="#3a3a3a" stroke-width="0.22">0</text>
<line x1="472.2" y1="641.77" x2="474.7" y2="641.77" stroke="#231f20" stroke-width="1.2" stroke-linecap="butt"/>
<text x="470.2" y="644.02" font-size="6.6" text-anchor="end" font-weight="normal" fill="#3a3a3a" textLength="3.6" lengthAdjust="spacingAndGlyphs" stroke="#3a3a3a" stroke-width="0.22">5</text>
<line x1="472.2" y1="631.25" x2="474.7" y2="631.25" stroke="#231f20" stroke-width="1.2" stroke-linecap="butt"/>
<text x="470.2" y="633.49" font-size="6.6" text-anchor="end" font-weight="normal" fill="#3a3a3a" textLength="7.2" lengthAdjust="spacingAndGlyphs" stroke="#3a3a3a" stroke-width="0.22">10</text>
<line x1="472.2" y1="620.73" x2="474.7" y2="620.73" stroke="#231f20" stroke-width="1.2" stroke-linecap="butt"/>
<text x="470.2" y="622.97" font-size="6.6" text-anchor="end" font-weight="normal" fill="#3a3a3a" textLength="7.2" lengthAdjust="spacingAndGlyphs" stroke="#3a3a3a" stroke-width="0.22">15</text>
<line x1="472.2" y1="610.2" x2="474.7" y2="610.2" stroke="#231f20" stroke-width="1.2" stroke-linecap="butt"/>
<text x="470.2" y="612.44" font-size="6.6" text-anchor="end" font-weight="normal" fill="#3a3a3a" textLength="7.2" lengthAdjust="spacingAndGlyphs" stroke="#3a3a3a" stroke-width="0.22">20</text>
<line x1="474.7" y1="652.3" x2="517.1" y2="652.3" stroke="#231f20" stroke-width="1.2" stroke-linecap="butt"/>
<line x1="483" y1="652.3" x2="483" y2="654.8" stroke="#231f20" stroke-width="1.2" stroke-linecap="butt"/>
<line x1="495.8" y1="652.3" x2="495.8" y2="654.8" stroke="#231f20" stroke-width="1.2" stroke-linecap="butt"/>
<line x1="509" y1="652.3" x2="509" y2="654.8" stroke="#231f20" stroke-width="1.2" stroke-linecap="butt"/>
<line x1="483.1" y1="601.2" x2="508.8" y2="601.2" stroke="#231f20" stroke-width="0.9" stroke-linecap="butt"/>
<line x1="494.2" y1="596.05" x2="494.2" y2="598.75" stroke="#231f20" stroke-width="0.85" stroke-linecap="butt"/>
<line x1="495.37" y1="596.73" x2="493.03" y2="598.08" stroke="#231f20" stroke-width="0.85" stroke-linecap="butt"/>
<line x1="495.37" y1="598.08" x2="493.03" y2="596.73" stroke="#231f20" stroke-width="0.85" stroke-linecap="butt"/>
<circle cx="494.2" cy="597.4" r="0.6" fill="#231f20"/>
<line x1="497.8" y1="596.05" x2="497.8" y2="598.75" stroke="#231f20" stroke-width="0.85" stroke-linecap="butt"/>
<line x1="498.97" y1="596.73" x2="496.63" y2="598.08" stroke="#231f20" stroke-width="0.85" stroke-linecap="butt"/>
<line x1="498.97" y1="598.08" x2="496.63" y2="596.73" stroke="#231f20" stroke-width="0.85" stroke-linecap="butt"/>
<circle cx="497.8" cy="597.4" r="0.6" fill="#231f20"/>
<line x1="496.5" y1="609.2" x2="508.8" y2="609.2" stroke="#231f20" stroke-width="0.9" stroke-linecap="butt"/>
<line x1="502.7" y1="604.05" x2="502.7" y2="606.75" stroke="#231f20" stroke-width="0.85" stroke-linecap="butt"/>
<line x1="503.87" y1="604.73" x2="501.53" y2="606.08" stroke="#231f20" stroke-width="0.85" stroke-linecap="butt"/>
<line x1="503.87" y1="606.08" x2="501.53" y2="604.73" stroke="#231f20" stroke-width="0.85" stroke-linecap="butt"/>
<circle cx="502.7" cy="605.4" r="0.6" fill="#231f20"/>
<text transform="translate(446.2,625.5) rotate(-90)" x="0" y="0" font-size="8.8" text-anchor="middle" font-weight="normal" fill="#3a3a3a" textLength="57.7" lengthAdjust="spacingAndGlyphs" stroke="#3a3a3a" stroke-width="0.22">IL-12 p70 in ITP murine</text>
<text transform="translate(457.8,629.9) rotate(-90)" x="0" y="0" font-size="8.8" text-anchor="middle" font-weight="normal" fill="#3a3a3a" textLength="41.4" lengthAdjust="spacingAndGlyphs" stroke="#3a3a3a" stroke-width="0.22">serum (pg/ml)</text>
<text transform="translate(486.9,661.2) rotate(-45)" x="0" y="0" font-size="8.6" text-anchor="end" font-weight="normal" fill="#3a3a3a" textLength="12.3" lengthAdjust="spacingAndGlyphs" stroke="#3a3a3a" stroke-width="0.22">Ctrl</text>
<text transform="translate(499.7,661.2) rotate(-45)" x="0" y="0" font-size="8.6" text-anchor="end" font-weight="normal" fill="#3a3a3a" textLength="38.4" lengthAdjust="spacingAndGlyphs" stroke="#3a3a3a" stroke-width="0.22">PBS-MDSC</text>
<text transform="translate(512.9,661.2) rotate(-45)" x="0" y="0" font-size="8.6" text-anchor="end" font-weight="normal" fill="#3a3a3a" textLength="36.8" lengthAdjust="spacingAndGlyphs" stroke="#3a3a3a" stroke-width="0.22">Dec-MDSC</text>
</svg>
</body></html>
